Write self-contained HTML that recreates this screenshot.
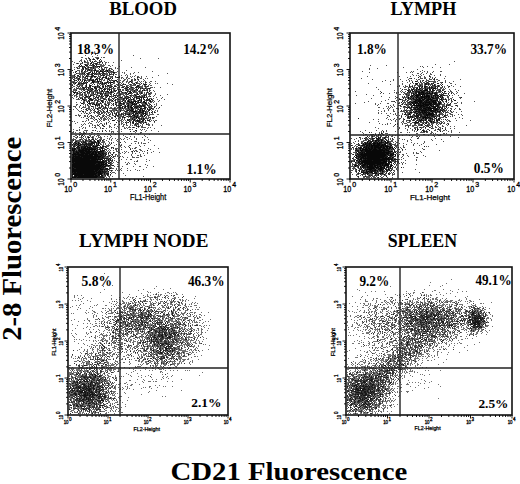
<!DOCTYPE html>
<html><head><meta charset="utf-8"><title>Figure</title>
<style>html,body{margin:0;padding:0;background:#fff;overflow:hidden}svg{display:block}</style>
</head><body>
<svg width="520" height="484" viewBox="0 0 520 484">
<rect width="520" height="484" fill="#fff"/>
<path fill="none" stroke="#000" stroke-opacity="0.66" stroke-width="1" d="M85 55.5h1m-4 2h1m13 0h1m1 1h1m59 0h1m-78 1h1m4 0h1m2 0h2m2 0h1m6 0h1m-17 1h1m2 0h1m7 0h1m3 0h1m-15 1h1m4 0h1m3 0h1m6 0h1m2 0h1m-23 1h1m3 0h1m1 0h1m2 0h1m1 0h1m3 0h4m5 0h1m1 0h1m4 0h1m-37 1h2m11 0h2m3 0h2m-12 1h1m2 0h1m3 0h2m3 0h2m1 0h1m2 0h1m-25 1h1m5 0h1m1 0h1m3 0h2m1 0h1m6 0h1m1 0h2m-27 1h1m1 0h1m3 0h1m8 0h3m1 0h3m1 0h1m-23 1h1m4 0h2m2 0h1m1 0h2m1 0h1m5 0h1m1 0h1m3 0h1m9 0h1m-39 1h2m4 0h1m2 0h3m12 0h2m7 0h2m5 0h1m-37 1h1m1 0h1m1 0h2m1 0h1m1 0h1m3 0h1m4 0h1m2 0h3m-33 1h1m4 0h3m2 0h1m2 0h1m1 0h1m2 0h2m1 0h3m1 0h2m1 0h3m4 0h3m3 0h1m12 0h1m-46 1h2m2 0h1m8 0h1m1 0h1m2 0h4m1 0h2m1 0h1m3 0h2m39 0h1m-74 1h1m12 0h1m1 0h1m1 0h1m1 0h1m4 0h1m4 0h1m2 0h5m6 0h1m-46 1h1m6 0h1m2 0h1m1 0h1m2 0h2m1 0h1m1 0h2m2 0h1m1 0h1m1 0h1m5 0h1m1 0h1m16 0h1m-52 1h3m5 0h3m1 0h2m2 0h2m10 0h1m1 0h2m1 0h2m1 0h1m14 0h1m-59 1h3m2 0h1m14 0h2m7 0h1m1 0h2m2 0h2m4 0h1m7 0h1m3 0h1m1 0h1m30 0h1m-86 1h1m1 0h1m1 0h1m1 0h1m3 0h1m2 0h3m2 0h2m1 0h1m4 0h2m5 0h1m5 0h1m2 0h1m3 0h1m-46 1h1m1 0h1m3 0h1m1 0h1m1 0h1m5 0h2m3 0h1m1 0h1m4 0h5m1 0h1m1 0h1m1 0h1m3 0h2m1 0h1m2 0h1m14 0h3m1 0h1m10 0h1m-75 1h2m6 0h2m2 0h1m7 0h2m5 0h2m1 0h1m1 0h1m1 0h1m8 0h1m12 0h1m5 0h1m6 0h1m-68 1h1m2 0h1m5 0h2m2 0h1m1 0h1m1 0h1m9 0h2m2 0h1m12 0h2m5 0h1m6 0h1m-61 1h1m3 0h1m1 0h1m1 0h1m1 0h2m1 0h3m3 0h1m1 0h1m3 0h2m6 0h2m1 0h3m14 0h1m6 0h1m-67 1h2m7 0h1m2 0h1m4 0h1m2 0h3m2 0h2m1 0h1m9 0h1m2 0h2m2 0h1m4 0h1m4 0h1m1 0h2m1 0h1m17 0h1m-79 1h2m2 0h1m4 0h1m1 0h3m1 0h1m5 0h1m1 0h1m2 0h1m1 0h1m1 0h1m2 0h2m2 0h4m1 0h1m2 0h1m1 0h1m11 0h1m8 0h1m-67 1h2m2 0h1m3 0h4m5 0h1m8 0h1m1 0h4m4 0h1m17 0h1m3 0h1m1 0h1m2 0h1m1 0h1m5 0h1m9 0h1m1 0h1m9 0h1m-91 1h2m2 0h2m6 0h1m4 0h1m2 0h1m1 0h1m2 0h1m1 0h1m1 0h1m9 0h1m6 0h1m1 0h1m4 0h1m2 0h3m8 0h1m4 0h1m22 0h1m-93 1h1m1 0h1m7 0h2m6 0h1m6 0h1m1 0h4m3 0h1m6 0h2m5 0h1m2 0h2m2 0h1m1 0h2m9 0h1m-71 1h2m5 0h2m2 0h2m1 0h2m1 0h1m6 0h2m1 0h1m3 0h1m1 0h1m3 0h1m6 0h2m3 0h1m2 0h1m9 0h1m1 0h1m1 0h2m1 0h2m-71 1h1m4 0h1m2 0h5m3 0h3m1 0h2m3 0h1m5 0h3m6 0h2m2 0h1m2 0h2m3 0h2m4 0h4m1 0h2m2 0h1m6 0h1m-77 1h2m1 0h1m1 0h1m1 0h1m2 0h1m1 0h2m1 0h2m1 0h3m2 0h3m2 0h1m19 0h3m2 0h1m2 0h3m1 0h1m1 0h1m1 0h1m1 0h1m2 0h2m1 0h1m-75 1h1m6 0h2m1 0h1m2 0h1m1 0h1m2 0h2m2 0h1m1 0h1m5 0h2m1 0h3m1 0h1m6 0h1m3 0h1m13 0h2m5 0h2m2 0h1m-75 1h1m1 0h1m12 0h1m2 0h1m3 0h3m1 0h1m2 0h1m6 0h1m1 0h1m2 0h1m3 0h1m7 0h1m7 0h2m1 0h1m4 0h1m1 0h1m2 0h1m-75 1h1m1 0h1m2 0h1m3 0h1m2 0h1m1 0h1m1 0h5m2 0h1m3 0h4m2 0h2m7 0h1m3 0h3m5 0h1m1 0h2m3 0h2m3 0h2m6 0h1m1 0h1m-77 1h5m6 0h1m4 0h1m1 0h1m3 0h1m1 0h2m8 0h5m1 0h1m3 0h1m4 0h2m1 0h2m2 0h3m1 0h1m7 0h1m5 0h1m-74 1h1m2 0h4m1 0h1m2 0h1m1 0h3m2 0h1m2 0h1m1 0h1m3 0h1m1 0h1m1 0h1m2 0h1m5 0h1m5 0h1m1 0h2m2 0h1m1 0h2m7 0h1m3 0h1m4 0h1m3 0h1m-78 1h1m2 0h1m2 0h1m2 0h1m3 0h1m1 0h1m1 0h1m5 0h1m7 0h2m2 0h1m1 0h1m2 0h1m5 0h5m3 0h2m5 0h1m1 0h3m9 0h1m1 0h1m16 0h1m-94 1h2m4 0h2m3 0h1m4 0h3m5 0h2m5 0h4m6 0h1m1 0h1m5 0h1m2 0h1m3 0h1m1 0h1m2 0h1m3 0h1m3 0h2m9 0h1m-69 1h2m1 0h2m2 0h1m2 0h1m2 0h1m1 0h1m4 0h2m1 0h2m2 0h1m3 0h1m8 0h2m3 0h1m6 0h3m3 0h1m1 0h1m1 0h1m1 0h1m2 0h1m-74 1h1m1 0h1m1 0h3m1 0h2m3 0h1m2 0h2m2 0h1m1 0h1m3 0h1m4 0h1m3 0h1m3 0h2m4 0h1m8 0h3m3 0h2m2 0h3m-69 1h1m1 0h1m1 0h1m1 0h2m2 0h3m3 0h2m1 0h1m4 0h2m4 0h1m3 0h1m9 0h1m1 0h4m5 0h1m2 0h1m1 0h2m3 0h1m3 0h1m1 0h1m-74 1h3m4 0h2m4 0h3m1 0h1m4 0h2m3 0h1m6 0h1m2 0h1m1 0h4m2 0h1m4 0h1m1 0h4m1 0h1m6 0h1m5 0h1m2 0h1m1 0h1m5 0h1m6 0h1m-82 1h3m4 0h1m1 0h1m1 0h1m2 0h1m3 0h2m6 0h1m2 0h1m2 0h1m8 0h1m3 0h1m2 0h1m2 0h2m1 0h2m2 0h1m3 0h3m1 0h2m-68 1h1m2 0h4m7 0h1m3 0h2m9 0h2m4 0h2m1 0h1m3 0h1m2 0h1m2 0h2m2 0h1m2 0h1m5 0h1m1 0h1m2 0h2m-71 1h1m2 0h1m3 0h1m1 0h1m2 0h1m1 0h1m2 0h1m4 0h1m2 0h1m1 0h2m6 0h2m3 0h1m6 0h7m1 0h1m2 0h1m1 0h1m2 0h1m1 0h1m5 0h1m-69 1h1m4 0h3m1 0h1m4 0h5m3 0h1m3 0h1m1 0h1m1 0h1m5 0h6m2 0h1m1 0h1m1 0h2m1 0h1m1 0h1m1 0h1m3 0h1m2 0h1m3 0h1m-74 1h1m8 0h1m3 0h1m2 0h5m2 0h1m4 0h1m4 0h1m5 0h1m7 0h2m3 0h9m2 0h1m2 0h3m1 0h1m2 0h2m-71 1h1m14 0h1m1 0h1m3 0h1m5 0h1m10 0h4m5 0h2m2 0h2m1 0h1m5 0h1m1 0h1m1 0h1m6 0h1m-60 1h1m10 0h1m1 0h1m16 0h1m2 0h2m1 0h1m4 0h1m1 0h1m1 0h2m1 0h4m6 0h2m-77 1h1m8 0h1m3 0h2m3 0h1m1 0h1m14 0h1m3 0h1m3 0h2m2 0h1m5 0h1m2 0h2m1 0h6m4 0h2m2 0h2m4 0h1m4 0h1m-84 1h1m11 0h1m2 0h1m5 0h1m6 0h2m3 0h1m4 0h2m3 0h2m1 0h1m2 0h1m1 0h1m1 0h1m1 0h2m3 0h1m3 0h2m2 0h2m1 0h1m1 0h3m4 0h1m-74 1h1m2 0h1m2 0h1m2 0h1m4 0h2m2 0h1m5 0h1m6 0h1m1 0h1m6 0h1m2 0h1m1 0h2m1 0h1m3 0h1m1 0h1m2 0h1m4 0h1m1 0h2m1 0h1m-65 1h1m16 0h1m3 0h1m2 0h1m3 0h4m2 0h1m1 0h1m1 0h1m2 0h1m2 0h3m2 0h3m1 0h2m1 0h1m1 0h1m3 0h2m1 0h1m-73 1h1m2 0h2m13 0h2m5 0h1m1 0h2m5 0h2m9 0h3m2 0h1m3 0h4m3 0h1m1 0h2m2 0h2m-57 1h1m6 0h1m2 0h2m4 0h1m4 0h1m3 0h1m6 0h1m9 0h5m1 0h3m5 0h1m6 0h1m-71 1h1m1 0h1m7 0h1m6 0h1m10 0h1m5 0h1m2 0h1m1 0h1m5 0h1m1 0h2m2 0h3m3 0h3m1 0h1m6 0h1m-54 1h2m5 0h1m2 0h2m4 0h1m5 0h1m1 0h1m1 0h1m1 0h3m3 0h2m5 0h2m1 0h1m1 0h1m1 0h1m1 0h1m1 0h1m6 0h1m-84 1h2m3 0h1m3 0h1m12 0h1m4 0h1m12 0h4m4 0h3m3 0h1m2 0h1m1 0h1m1 0h2m3 0h2m1 0h2m2 0h2m-71 1h1m7 0h1m1 0h1m1 0h1m7 0h1m3 0h1m1 0h2m3 0h1m3 0h2m7 0h1m2 0h1m1 0h4m3 0h5m1 0h1m6 0h1m7 0h1m-69 1h1m5 0h1m5 0h1m5 0h1m4 0h2m11 0h1m3 0h1m2 0h1m3 0h5m1 0h1m4 0h1m1 0h1m1 0h1m1 0h2m-67 1h1m6 0h1m3 0h1m4 0h1m3 0h1m8 0h1m13 0h1m8 0h2m2 0h1m2 0h1m6 0h1m-66 1h1m4 0h1m1 0h1m3 0h1m5 0h1m16 0h1m1 0h1m2 0h1m1 0h1m4 0h2m5 0h1m1 0h1m3 0h1m1 0h1m-62 1h1m5 0h1m17 0h2m9 0h1m1 0h1m1 0h2m2 0h1m2 0h1m1 0h2m1 0h2m2 0h1m3 0h2m6 0h2m-83 1h1m16 0h1m5 0h1m11 0h1m19 0h2m2 0h1m1 0h1m4 0h3m2 0h1m8 0h1m-39 1h1m4 0h1m3 0h1m2 0h1m3 0h2m5 0h2m4 0h1m8 0h1m-80 1h1m15 0h1m14 0h1m25 0h2m3 0h1m2 0h1m2 0h1m2 0h1m-64 1h1m15 0h1m2 0h1m16 0h1m3 0h1m10 0h2m1 0h2m9 0h2m-68 1h1m6 0h1m4 0h1m2 0h2m10 0h1m13 0h1m2 0h1m13 0h1m7 0h1m3 0h1m8 0h1m-73 1h1m5 0h1m7 0h1m6 0h1m11 0h1m13 0h1m1 0h1m-44 1h1m13 0h1m4 0h1m9 0h1m1 0h1m1 0h1m3 0h2m4 0h1m3 0h1m5 0h1m1 0h1m-66 1h1m16 0h2m12 0h1m7 0h1m7 1h1m7 0h1m3 0h1m-68 1h1m6 0h1m10 0h1m40 0h1m-40 1h1m1 0h1m12 0h1m4 0h1m12 0h1m3 0h1m1 0h1m8 0h1m12 0h1m-86 1h1m5 0h1m3 0h2m26 0h1m1 0h1m26 0h2m-59 1h1m1 0h1m3 0h1m8 0h1m-20 1h1m3 0h1m21 0h1m23 0h1m1 0h1m17 0h1m-75 1h2m2 0h1m10 0h1m32 0h1m-47 1h1m5 0h1m41 0h1m8 0h1m-58 1h1m4 0h1m4 0h3m1 0h1m7 0h1m1 0h1m24 0h1m15 0h1m-70 1h1m12 0h1m6 0h1m1 0h1m1 0h1m9 0h1m7 0h1m20 0h1m-58 1h2m4 0h1m2 0h2m2 0h2m2 0h1m4 0h1m1 0h1m13 0h1m3 0h1m5 0h1m-56 1h2m4 0h2m2 0h2m6 0h1m2 0h1m3 0h2m3 0h2m40 0h1m5 0h1m-75 1h1m4 0h5m1 0h2m3 0h1m1 0h2m1 0h2m5 0h1m30 0h1m-64 1h1m1 0h1m3 0h2m1 0h1m2 0h3m4 0h3m2 0h1m1 0h2m9 0h1m1 0h1m1 0h1m6 0h1m17 0h1m2 0h1m-69 1h1m1 0h5m2 0h1m3 0h2m1 0h6m3 0h2m5 0h1m-34 1h1m1 0h2m2 0h3m1 0h1m2 0h3m1 0h3m2 0h1m3 0h1m2 0h1m1 0h1m1 0h1m2 0h1m10 0h1m-46 1h1m3 0h2m1 0h1m1 0h2m1 0h1m1 0h2m1 0h1m1 0h1m3 0h2m7 0h1m1 0h1m12 0h1m7 0h1m14 0h1m9 0h1m-82 1h2m2 0h2m2 0h3m1 0h3m1 0h2m2 0h5m2 0h1m1 0h2m1 0h1m2 0h1m11 0h1m-45 1h4m1 0h5m1 0h12m2 0h2m2 0h1m7 0h1m15 0h1m-58 1h1m1 0h2m1 0h3m1 0h16m3 0h3m4 0h1m3 0h1m1 0h1m44 0h1m-87 1h1m1 0h3m2 0h20m3 0h1m3 0h1m8 0h1m14 0h1m8 0h2m-69 1h3m1 0h1m1 0h13m1 0h5m3 0h5m3 0h1m1 0h1m5 0h1m23 0h1m6 0h1m-75 1h2m1 0h1m1 0h6m1 0h18m1 0h2m1 0h1m9 0h1m8 0h1m4 0h1m2 0h1m2 0h1m4 0h1m10 0h1m-82 1h13m1 0h11m1 0h6m5 0h1m3 0h1m14 0h1m3 0h1m14 0h1m-75 1h6m1 0h17m1 0h2m1 0h2m1 0h2m2 0h1m1 0h1m21 0h1m-61 1h16m1 0h13m1 0h1m1 0h2m4 0h2m3 0h1m14 0h1m-60 1h2m1 0h2m1 0h15m1 0h4m1 0h3m1 0h3m3 0h1m5 0h1m24 0h1m-68 1h29m1 0h1m2 0h2m5 0h1m6 0h1m19 0h1m-69 1h31m1 0h1m1 0h1m3 0h1m1 0h2m5 0h1m12 0h2m2 0h3m-67 1h25m1 0h3m1 0h1m3 0h2m1 0h3m-40 1h30m6 0h1m1 0h1m20 0h1m-60 1h27m1 0h1m2 0h1m1 0h1m2 0h1m1 0h1m1 0h1m6 0h1m-48 1h28m2 0h1m1 0h3m4 0h1m4 0h1m20 0h1m-66 1h33m1 0h2m1 0h3m1 0h1m-42 1h30m1 0h4m1 0h5m14 0h1m-56 1h33m1 0h1m10 0h1m9 0h1m7 0h1m9 0h1m-74 1h30m1 0h7m1 0h2m-41 1h29m1 0h4m2 0h3m3 0h1m2 0h1m4 0h1m-51 1h28m1 0h1m1 0h3m-34 1h32m1 0h3m1 0h2m1 0h2m2 0h1m-45 1h37m7 0h1m-45 1h28m3 0h1m1 0h1m1 0h1m1 0h3m18 0h1m6 0h1m-66 1h25m1 0h9m1 0h1m-37 1h4m1 0h18m1 0h5m1 0h1m1 0h2m4 0h1m-39 1h25m1 0h5m1 0h2m1 0h2m2 0h1m11 0h1m-52 1h11m1 0h18m2 0h1m2 0h1m2 0h1m-39 1h1m1 0h20m1 0h2m1 0h2m1 0h3m1 0h1m1 0h2m1 0h1m-39 1h1m1 0h26m1 0h2m-31 1h4m1 0h27"/>
<path fill="none" stroke="#000" stroke-opacity="0.66" stroke-width="1" d="M91 54.5h1m0 2h1m-12 1h1m6 0h1m6 0h1m2 0h1m5 0h1m-19 1h1m2 0h1m3 0h1m3 0h1m42 0h1m-49 1h3m5 0h1m-2 1h1m1 0h1m19 0h1m-41 1h1m2 0h1m7 0h1m2 0h1m3 0h1m1 0h1m-28 1h1m7 0h1m1 0h2m1 0h1m9 0h1m1 0h1m2 0h1m2 0h1m-30 1h2m4 0h1m4 0h2m2 0h1m1 0h3m1 0h1m1 0h1m2 0h1m-23 1h1m5 0h1m6 0h1m2 0h1m-18 1h1m1 0h1m4 0h1m2 0h1m3 0h2m1 0h1m3 0h1m1 0h1m6 0h1m-31 1h1m2 0h3m8 0h1m1 0h1m2 0h2m10 0h1m-37 1h1m2 0h1m4 0h2m1 0h1m1 0h4m1 0h2m2 0h1m2 0h1m1 0h1m3 0h3m23 0h1m13 0h1m-67 1h1m2 0h2m1 0h2m4 0h1m1 0h1m4 0h1m7 0h1m2 0h1m-28 1h1m4 0h3m1 0h2m2 0h1m3 0h1m1 0h2m5 0h2m-38 1h1m9 0h1m4 0h3m1 0h1m3 0h1m7 0h1m1 0h3m1 0h2m-36 1h2m7 0h1m2 0h1m4 0h1m4 0h2m1 0h1m1 0h6m2 0h1m2 0h1m-39 1h1m5 0h1m1 0h1m4 0h3m1 0h1m1 0h1m4 0h1m2 0h1m3 0h1m1 0h3m2 0h2m1 0h1m7 0h1m9 0h1m3 0h1m-63 1h1m1 0h1m2 0h4m1 0h1m1 0h1m2 0h1m1 0h1m5 0h1m3 0h2m4 0h1m4 0h1m9 0h1m42 0h1m-94 1h2m6 0h4m6 0h1m1 0h1m4 0h2m1 0h2m1 0h1m4 0h2m1 0h1m-40 1h1m2 0h2m3 0h1m3 0h3m2 0h2m7 0h1m2 0h1m2 0h1m28 0h1m-56 1h1m6 0h1m1 0h4m1 0h2m2 0h1m4 0h1m2 0h1m3 0h2m15 0h1m2 0h1m6 0h2m-60 1h1m3 0h1m1 0h1m13 0h2m2 0h1m2 0h1m4 0h1m5 0h2m2 0h1m4 0h2m3 0h1m-60 1h1m2 0h3m4 0h1m1 0h1m1 0h1m3 0h2m4 0h1m5 0h1m3 0h3m1 0h1m1 0h1m10 0h1m2 0h1m1 0h1m8 0h1m3 0h1m-69 1h1m3 0h2m5 0h1m2 0h1m1 0h1m1 0h3m1 0h2m2 0h3m2 0h1m3 0h2m22 0h1m2 0h1m7 0h1m-70 1h1m1 0h1m3 0h1m3 0h2m1 0h1m2 0h3m2 0h1m1 0h1m11 0h1m2 0h1m2 0h1m4 0h1m2 0h1m3 0h1m3 0h1m2 0h2m8 0h1m-68 1h1m6 0h1m1 0h1m1 0h1m3 0h1m2 0h7m5 0h1m5 0h1m2 0h2m5 0h1m6 0h1m10 0h1m3 0h1m5 0h1m-79 1h3m11 0h1m4 0h2m2 0h3m2 0h2m1 0h1m2 0h2m2 0h2m13 0h1m2 0h1m1 0h1m3 0h3m7 0h1m-71 1h1m2 0h4m4 0h1m3 0h1m9 0h3m2 0h1m2 0h1m1 0h1m2 0h2m3 0h1m2 0h1m11 0h1m2 0h1m4 0h1m1 0h1m6 0h1m-77 1h1m3 0h1m7 0h1m5 0h1m1 0h1m6 0h3m8 0h1m5 0h1m3 0h1m2 0h1m3 0h1m1 0h1m11 0h4m-75 1h1m3 0h1m2 0h1m1 0h1m4 0h1m2 0h2m6 0h1m4 0h2m4 0h1m6 0h1m1 0h1m2 0h2m4 0h2m2 0h1m3 0h1m7 0h1m1 0h2m4 0h2m-78 1h1m6 0h1m4 0h1m2 0h2m4 0h5m2 0h2m7 0h2m1 0h2m3 0h1m4 0h1m1 0h1m2 0h1m1 0h1m4 0h4m5 0h2m-71 1h1m3 0h1m1 0h1m1 0h2m2 0h1m5 0h1m2 0h1m1 0h2m1 0h1m2 0h1m3 0h2m2 0h1m7 0h1m1 0h1m3 0h2m2 0h2m2 0h1m3 0h1m6 0h1m3 0h2m8 0h1m-87 1h1m3 0h1m5 0h1m5 0h3m2 0h2m3 0h1m7 0h1m3 0h1m1 0h2m1 0h1m9 0h1m2 0h1m7 0h1m1 0h2m1 0h1m1 0h1m2 0h3m-75 1h1m2 0h1m3 0h1m2 0h3m1 0h2m4 0h1m6 0h2m4 0h3m6 0h1m1 0h1m2 0h1m1 0h6m1 0h2m1 0h3m2 0h1m5 0h2m-72 1h1m7 0h1m2 0h1m2 0h1m1 0h1m1 0h1m4 0h1m2 0h1m1 0h1m2 0h1m1 0h1m1 0h1m1 0h2m1 0h1m3 0h1m1 0h2m1 0h2m4 0h2m1 0h1m4 0h2m1 0h3m4 0h1m3 0h1m-82 1h1m6 0h1m14 0h1m2 0h1m1 0h1m1 0h2m2 0h4m1 0h2m1 0h1m1 0h1m12 0h1m1 0h1m3 0h1m1 0h1m2 0h1m1 0h1m7 0h1m4 0h1m-82 1h3m1 0h1m1 0h1m1 0h1m1 0h2m2 0h3m2 0h2m2 0h2m1 0h1m1 0h1m1 0h1m7 0h1m7 0h1m1 0h2m2 0h1m1 0h1m3 0h1m2 0h1m2 0h1m2 0h3m3 0h3m-58 1h1m1 0h1m3 0h2m1 0h1m3 0h4m2 0h1m3 0h1m1 0h1m2 0h1m5 0h2m1 0h3m5 0h1m3 0h3m1 0h1m3 0h2m1 0h1m-72 1h1m4 0h1m5 0h1m2 0h2m1 0h1m2 0h1m1 0h1m3 0h1m6 0h1m11 0h3m9 0h1m7 0h2m-71 1h1m5 0h1m3 0h1m1 0h1m1 0h1m2 0h1m2 0h2m3 0h1m3 0h2m6 0h4m1 0h2m9 0h3m1 0h3m5 0h1m2 0h1m1 0h1m2 0h1m10 0h1m-87 1h1m1 0h1m2 0h1m6 0h1m9 0h1m5 0h2m1 0h1m1 0h1m4 0h1m7 0h1m3 0h2m1 0h2m1 0h1m4 0h5m2 0h2m2 0h1m2 0h2m-79 1h1m12 0h1m1 0h1m1 0h1m5 0h1m2 0h1m10 0h1m4 0h1m1 0h1m4 0h1m3 0h2m1 0h2m2 0h1m3 0h1m3 0h4m3 0h1m8 0h1m5 0h1m-90 1h1m4 0h1m1 0h1m1 0h1m5 0h1m1 0h2m2 0h1m3 0h1m1 0h2m1 0h1m4 0h2m2 0h2m3 0h1m2 0h1m2 0h2m1 0h2m2 0h1m2 0h2m1 0h2m1 0h1m1 0h1m1 0h1m3 0h1m2 0h1m2 0h1m-75 1h1m2 0h2m2 0h1m2 0h1m2 0h1m2 0h1m8 0h3m1 0h2m3 0h1m1 0h1m2 0h1m3 0h2m2 0h1m2 0h1m1 0h1m1 0h2m4 0h1m1 0h1m1 0h2m2 0h3m1 0h1m-71 1h1m2 0h1m3 0h1m2 0h2m4 0h2m1 0h1m7 0h2m2 0h1m9 0h2m1 0h1m1 0h3m8 0h2m1 0h1m4 0h2m11 0h1m-71 1h1m4 0h1m2 0h1m3 0h2m2 0h1m5 0h1m3 0h1m1 0h1m1 0h1m2 0h1m4 0h5m1 0h6m2 0h1m1 0h2m5 0h2m-69 1h1m3 0h1m3 0h1m4 0h2m4 0h2m12 0h2m2 0h1m2 0h1m1 0h2m3 0h1m1 0h2m1 0h1m1 0h1m1 0h3m2 0h3m-66 1h2m5 0h2m3 0h2m1 0h1m10 0h1m5 0h1m2 0h1m3 0h2m4 0h1m1 0h1m3 0h6m3 0h1m3 0h2m1 0h1m7 0h1m-70 1h1m6 0h1m1 0h4m5 0h2m1 0h1m11 0h1m1 0h1m9 0h2m5 0h1m2 0h1m2 0h2m3 0h1m-75 1h1m8 0h1m2 0h1m6 0h1m1 0h1m1 0h1m2 0h1m5 0h1m4 0h1m2 0h2m2 0h1m3 0h2m2 0h4m2 0h1m1 0h2m1 0h2m1 0h2m3 0h1m3 0h1m4 0h1m-82 1h1m3 0h1m3 0h1m1 0h1m3 0h1m1 0h1m1 0h1m5 0h1m1 0h1m14 0h1m2 0h2m2 0h1m1 0h1m1 0h1m2 0h2m2 0h3m1 0h1m1 0h2m2 0h2m2 0h2m2 0h1m1 0h2m-77 1h1m2 0h1m16 0h3m1 0h4m8 0h1m1 0h1m2 0h3m1 0h2m1 0h2m1 0h3m2 0h1m3 0h2m18 0h1m-79 1h1m5 0h1m5 0h1m2 0h2m2 0h1m1 0h2m3 0h1m2 0h3m1 0h1m8 0h2m1 0h1m1 0h1m1 0h2m1 0h1m1 0h1m2 0h1m1 0h1m1 0h2m1 0h1m6 0h2m-77 1h1m8 0h1m1 0h1m5 0h1m2 0h1m9 0h1m5 0h1m6 0h1m6 0h1m3 0h3m4 0h1m1 0h1m1 0h1m1 0h1m4 0h1m-69 1h1m5 0h1m5 0h2m5 0h1m6 0h1m4 0h2m2 0h1m4 0h1m1 0h1m2 0h8m6 0h5m1 0h1m1 0h1m6 0h1m1 0h1m-78 1h1m1 0h1m2 0h1m8 0h2m2 0h1m4 0h1m3 0h1m2 0h2m8 0h1m5 0h1m2 0h12m2 0h1m1 0h1m2 0h1m3 0h1m-70 1h1m1 0h1m10 0h2m1 0h1m3 0h1m1 0h1m2 0h1m2 0h1m13 0h2m1 0h2m2 0h1m1 0h1m3 0h1m1 0h1m1 0h2m1 0h1m3 0h1m1 0h1m3 0h1m-69 1h1m2 0h1m6 0h1m1 0h1m6 0h1m1 0h1m1 0h1m1 0h1m1 0h1m1 0h1m4 0h1m3 0h1m6 0h2m1 0h3m1 0h2m3 0h2m1 0h1m-70 1h1m19 0h1m4 0h1m5 0h1m2 0h1m3 0h1m1 0h2m3 0h1m2 0h5m2 0h1m1 0h1m5 0h3m1 0h2m6 0h1m3 0h1m-80 1h1m6 0h1m1 0h1m3 0h1m3 0h1m7 0h2m2 0h1m9 0h1m2 0h1m7 0h1m4 0h3m1 0h2m1 0h2m3 0h1m-62 1h2m1 0h1m9 0h1m1 0h1m2 0h1m12 0h1m1 0h2m2 0h2m4 0h1m4 0h1m1 0h1m1 0h1m3 0h1m1 0h1m1 0h1m1 0h1m-64 1h1m17 0h2m5 0h1m13 0h1m1 0h1m7 0h3m1 0h2m5 0h1m6 0h1m-61 1h1m9 0h2m2 0h1m6 0h1m6 0h1m5 0h1m7 0h1m1 0h1m1 0h1m1 0h1m2 0h5m2 0h1m1 0h1m-63 1h1m7 0h1m2 0h1m8 0h1m6 0h1m5 0h1m5 0h1m1 0h1m1 0h4m2 0h1m1 0h2m1 0h3m-48 1h1m5 0h2m9 0h1m2 0h1m2 0h2m5 0h1m1 0h1m3 0h2m1 0h4m2 0h2m1 0h1m2 0h2m1 0h1m-69 1h1m1 0h1m15 0h1m17 0h1m2 0h1m3 0h1m2 0h1m2 0h1m3 0h4m3 0h1m5 0h2m-74 1h1m20 0h1m7 0h1m16 0h1m1 0h1m1 0h2m1 0h1m2 0h1m2 0h1m2 0h1m1 0h2m1 0h2m-46 1h1m3 0h1m1 0h1m3 0h1m15 0h1m3 0h1m4 0h1m2 0h1m9 0h1m-64 1h1m20 0h1m7 0h1m6 0h1m2 0h1m5 0h1m4 0h2m9 0h2m4 0h1m-61 1h1m2 0h1m2 0h1m3 0h1m24 0h1m2 0h1m3 0h1m1 0h1m-56 1h1m22 0h1m18 0h1m14 0h1m2 0h1m-63 1h1m3 0h1m1 0h1m6 0h1m1 0h1m5 0h1m10 0h1m6 0h1m14 0h1m7 0h1m3 0h1m-64 1h1m13 0h1m28 0h1m10 0h1m17 0h1m-25 1h1m-39 1h2m11 0h1m29 0h2m4 0h1m4 0h1m-74 1h1m12 0h1m15 0h1m10 0h1m16 0h1m2 0h1m-48 1h1m-6 1h1m2 0h2m8 0h1m2 0h1m42 0h1m-62 1h2m34 0h1m-35 1h2m1 0h1m9 0h1m2 0h1m46 0h1m-72 1h1m3 0h1m3 0h1m1 0h1m3 0h1m5 0h1m4 0h1m5 0h1m2 0h1m3 0h1m18 0h1m-56 1h2m2 0h2m7 0h2m2 0h1m7 0h1m-18 1h1m4 0h1m20 0h1m2 0h1m-40 1h2m6 0h1m4 0h1m2 0h1m1 0h3m6 0h1m3 0h1m26 0h1m-59 1h1m2 0h1m3 0h1m4 0h2m1 0h2m1 0h1m2 0h1m2 0h1m1 0h2m5 0h1m9 0h1m-45 1h1m2 0h1m1 0h4m5 0h1m2 0h3m1 0h2m2 0h4m1 0h1m5 0h1m27 0h1m-62 1h2m1 0h1m2 0h3m1 0h1m2 0h2m2 0h7m3 0h3m20 0h1m-52 1h3m1 0h1m1 0h1m1 0h2m1 0h2m1 0h1m2 0h1m2 0h1m1 0h1m1 0h1m4 0h1m5 0h1m1 0h1m23 0h1m5 0h1m3 0h1m-74 1h1m3 0h3m1 0h2m1 0h3m2 0h1m1 0h3m1 0h1m1 0h1m1 0h1m-26 1h4m1 0h3m3 0h1m1 0h1m1 0h4m1 0h1m2 0h2m1 0h1m20 0h1m18 0h1m-67 1h1m1 0h1m1 0h9m1 0h3m2 0h5m5 0h2m3 0h1m20 0h1m11 0h1m-69 1h3m1 0h1m2 0h1m1 0h1m1 0h8m2 0h1m4 0h1m1 0h4m2 0h1m4 0h2m16 0h1m5 0h2m-65 1h8m1 0h1m1 0h10m2 0h1m1 0h1m4 0h1m1 0h1m3 0h1m4 0h1m1 0h3m14 0h1m1 0h1m13 0h1m-77 1h3m2 0h4m1 0h2m1 0h11m3 0h2m1 0h1m2 0h1m12 0h1m-47 1h4m2 0h9m1 0h2m1 0h1m2 0h1m1 0h2m2 0h1m1 0h2m9 0h1m21 0h2m4 0h1m5 0h1m-76 1h2m1 0h3m1 0h18m2 0h5m28 0h1m11 0h1m-72 1h1m1 0h4m1 0h11m1 0h2m1 0h4m1 0h2m4 0h1m7 0h1m4 0h1m2 0h1m2 0h1m25 0h1m-79 1h17m1 0h3m1 0h2m1 0h3m1 0h5m1 0h1m4 0h1m21 0h1m-64 1h12m1 0h14m1 0h6m6 0h1m2 0h1m-44 1h4m1 0h16m1 0h5m2 0h2m2 0h1m6 0h1m18 0h1m-60 1h31m1 0h1m3 0h2m1 0h1m3 0h1m6 0h1m9 0h1m8 0h1m-70 1h10m1 0h14m1 0h2m2 0h2m1 0h1m1 0h2m1 0h1m8 0h1m-48 1h27m2 0h7m1 0h1m4 0h1m3 0h1m-47 1h31m1 0h1m2 0h4m1 0h1m8 0h1m-50 1h24m1 0h1m2 0h1m1 0h2m2 0h1m1 0h2m4 0h1m34 0h1m-78 1h33m3 0h2m24 0h1m-63 1h32m2 0h1m1 0h1m16 0h1m-53 1h23m1 0h3m1 0h3m1 0h2m1 0h2m19 0h1m-58 1h23m1 0h10m4 0h2m14 0h1m-55 1h32m1 0h2m2 0h1m3 0h1m33 0h1m-76 1h34m1 0h2m24 0h1m5 0h1m-68 1h1m1 0h30m5 0h2m-39 1h29m1 0h1m2 0h3m1 0h2m-39 1h31m1 0h1m1 0h3m26 0h1m7 0h1m-72 1h22m1 0h3m1 0h4m1 0h1m1 0h1m12 0h1m19 0h1m-68 1h29m1 0h1m3 0h1m1 0h1m2 0h1m-40 1h1m1 0h28m1 0h2m1 0h1m5 0h3m-43 1h30m2 0h1m1 0h1m8 0h1m-44 1h24m2 0h4m1 0h1m3 0h2m1 0h1m-36 1h25m1 0h2m2 0h1m1 0h1m-35 1h4m1 0h21m1 0h3m-31 1h26m2 0h4m2 0h1m2 0h1"/>
<path fill="none" stroke="#000" stroke-opacity="0.66" stroke-width="1" d="M95 54.5h1m1 1h1m35 0h1m-37 2h1m3 0h1m1 0h1m-19 1h1m2 0h2m6 0h3m-9 1h1m3 0h1m2 0h1m-18 1h2m7 0h2m-19 1h1m6 0h1m4 0h1m2 0h1m2 0h1m1 0h1m1 0h1m1 0h1m3 0h1m-10 1h2m9 0h1m-23 1h2m8 0h1m5 0h1m8 0h1m-33 1h1m6 0h1m3 0h2m1 0h1m2 0h1m1 0h1m2 0h2m2 0h1m1 0h1m3 0h1m-25 1h1m3 0h3m2 0h2m1 0h1m2 0h1m11 0h1m3 0h1m-33 1h3m3 0h3m3 0h1m3 0h5m1 0h2m15 0h1m-44 1h1m5 0h1m2 0h1m5 0h1m2 0h2m1 0h1m6 0h1m-28 1h1m4 0h1m2 0h1m4 0h1m1 0h4m8 0h1m4 0h1m5 0h1m-42 1h1m8 0h1m5 0h1m5 0h1m7 0h1m2 0h1m4 0h2m-32 1h1m3 0h1m3 0h1m2 0h1m1 0h3m3 0h1m2 0h1m2 0h2m5 0h1m-38 1h1m2 0h1m1 0h1m2 0h1m1 0h1m3 0h2m2 0h1m1 0h2m2 0h2m2 0h1m2 0h3m1 0h1m5 0h1m-45 1h1m1 0h1m6 0h1m1 0h2m3 0h2m1 0h1m3 0h1m2 0h1m2 0h2m9 0h1m-38 1h1m2 0h2m1 0h1m1 0h1m2 0h2m3 0h1m1 0h3m2 0h2m1 0h1m1 0h1m1 0h2m1 0h1m23 0h1m-47 1h2m1 0h2m2 0h1m1 0h3m1 0h1m1 0h1m1 0h1m1 0h1m2 0h1m3 0h1m2 0h1m9 0h1m-49 1h1m1 0h1m3 0h1m1 0h1m6 0h1m4 0h1m2 0h4m4 0h1m-38 1h1m1 0h1m3 0h2m2 0h2m1 0h2m4 0h1m1 0h4m8 0h2m2 0h1m2 0h1m2 0h1m3 0h1m12 0h1m1 0h1m6 0h1m4 0h1m-75 1h3m1 0h2m7 0h1m1 0h1m3 0h2m1 0h1m2 0h1m4 0h2m1 0h1m9 0h1m1 0h3m17 0h1m-64 1h1m3 0h2m5 0h1m1 0h1m2 0h1m5 0h2m1 0h1m1 0h2m3 0h1m2 0h1m2 0h1m16 0h1m15 0h1m-73 1h2m3 0h3m1 0h1m2 0h1m2 0h1m1 0h1m4 0h3m1 0h2m1 0h1m5 0h1m8 0h1m9 0h1m6 0h2m1 0h2m-65 1h3m1 0h1m1 0h1m1 0h1m1 0h2m3 0h1m2 0h3m2 0h1m3 0h1m5 0h1m1 0h2m2 0h1m1 0h2m7 0h1m7 0h1m-59 1h1m4 0h1m2 0h1m1 0h1m7 0h3m3 0h1m8 0h2m5 0h1m11 0h1m3 0h2m5 0h1m1 0h1m3 0h1m11 0h1m-80 1h1m1 0h3m2 0h1m1 0h3m3 0h4m7 0h1m3 0h2m1 0h5m6 0h1m1 0h1m5 0h1m3 0h1m3 0h1m8 0h2m2 0h1m-77 1h1m1 0h1m3 0h1m1 0h4m1 0h1m6 0h1m3 0h3m2 0h1m1 0h1m1 0h1m1 0h1m1 0h1m7 0h1m4 0h1m10 0h1m1 0h1m1 0h1m2 0h1m-70 1h1m5 0h3m2 0h1m2 0h1m23 0h2m5 0h1m2 0h1m2 0h2m5 0h1m4 0h1m3 0h2m3 0h3m-75 1h1m4 0h1m4 0h1m2 0h2m2 0h2m6 0h1m2 0h1m4 0h1m1 0h2m1 0h2m6 0h1m14 0h1m3 0h3m-67 1h1m3 0h1m1 0h1m2 0h1m3 0h1m5 0h1m1 0h1m2 0h1m1 0h1m5 0h4m1 0h1m3 0h1m1 0h1m7 0h1m1 0h1m9 0h3m2 0h1m5 0h1m-76 1h1m9 0h2m1 0h1m4 0h1m3 0h2m7 0h1m3 0h1m5 0h1m3 0h1m4 0h2m3 0h2m3 0h2m1 0h2m3 0h1m13 0h1m-78 1h1m2 0h1m1 0h3m1 0h1m1 0h1m7 0h1m4 0h2m1 0h4m1 0h1m1 0h1m1 0h1m11 0h2m2 0h1m1 0h1m6 0h1m3 0h1m1 0h1m2 0h1m1 0h1m-77 1h1m1 0h1m4 0h1m2 0h1m1 0h1m4 0h1m1 0h1m2 0h1m3 0h1m1 0h1m1 0h1m1 0h1m1 0h1m1 0h1m3 0h2m2 0h1m1 0h2m6 0h1m3 0h2m16 0h1m-76 1h1m1 0h1m4 0h1m1 0h2m3 0h2m1 0h1m3 0h1m1 0h1m1 0h1m1 0h2m1 0h1m6 0h1m3 0h2m9 0h3m1 0h1m2 0h1m2 0h2m4 0h1m1 0h4m2 0h1m-65 1h2m1 0h2m4 0h1m8 0h1m2 0h2m2 0h2m1 0h1m3 0h2m1 0h1m5 0h1m1 0h2m1 0h2m4 0h1m3 0h1m-69 1h1m5 0h2m2 0h2m1 0h1m5 0h1m6 0h1m2 0h1m1 0h2m1 0h1m1 0h3m5 0h1m5 0h2m4 0h1m2 0h1m1 0h2m2 0h1m4 0h1m5 0h2m-78 1h1m1 0h2m6 0h1m8 0h1m5 0h4m2 0h1m3 0h1m1 0h1m2 0h1m2 0h1m3 0h1m2 0h1m1 0h1m1 0h1m1 0h3m4 0h1m1 0h1m1 0h1m4 0h1m2 0h1m5 0h1m-80 1h2m3 0h2m1 0h1m7 0h3m5 0h3m4 0h1m2 0h2m4 0h1m3 0h1m10 0h1m2 0h2m2 0h1m1 0h1m2 0h2m1 0h1m2 0h1m5 0h1m-84 1h1m6 0h1m4 0h2m5 0h1m1 0h1m5 0h1m1 0h2m1 0h1m2 0h2m2 0h1m2 0h1m5 0h1m3 0h1m5 0h1m4 0h2m5 0h1m1 0h2m-69 1h1m4 0h2m1 0h6m3 0h1m3 0h1m1 0h2m1 0h1m5 0h3m1 0h1m1 0h1m1 0h1m4 0h1m3 0h1m6 0h2m1 0h4m1 0h2m1 0h1m-69 1h1m2 0h1m1 0h1m2 0h1m10 0h1m1 0h2m2 0h2m2 0h2m8 0h2m3 0h3m1 0h1m2 0h4m1 0h1m1 0h1m1 0h4m1 0h1m1 0h2m-64 1h2m7 0h1m2 0h1m10 0h2m8 0h1m2 0h1m3 0h1m1 0h1m4 0h1m1 0h1m6 0h3m1 0h1m1 0h1m3 0h1m3 0h1m9 0h1m-80 1h1m2 0h1m3 0h4m3 0h1m1 0h1m1 0h1m3 0h1m3 0h1m2 0h1m7 0h2m2 0h2m1 0h1m4 0h3m2 0h1m2 0h1m1 0h1m2 0h1m1 0h1m1 0h1m2 0h2m-69 1h1m1 0h1m1 0h2m1 0h1m3 0h2m4 0h3m2 0h1m3 0h3m1 0h2m1 0h1m2 0h1m2 0h1m1 0h1m2 0h1m1 0h1m2 0h2m3 0h4m2 0h1m3 0h3m1 0h2m-70 1h1m4 0h1m8 0h2m3 0h1m1 0h1m1 0h1m1 0h1m10 0h1m1 0h1m1 0h2m1 0h3m1 0h1m1 0h4m3 0h2m1 0h2m5 0h1m1 0h1m1 0h1m3 0h1m-83 1h1m7 0h1m2 0h1m1 0h1m3 0h1m6 0h1m1 0h1m6 0h2m4 0h1m3 0h1m3 0h2m4 0h4m2 0h1m1 0h4m1 0h4m2 0h1m1 0h1m2 0h1m-73 1h2m1 0h1m4 0h3m1 0h1m2 0h1m3 0h1m3 0h1m3 0h1m4 0h1m1 0h1m3 0h2m2 0h2m2 0h2m1 0h3m1 0h1m1 0h1m6 0h4m-70 1h1m5 0h1m3 0h1m2 0h1m1 0h1m1 0h1m1 0h1m1 0h1m2 0h1m3 0h1m2 0h1m3 0h2m1 0h2m2 0h1m1 0h1m1 0h1m2 0h3m3 0h5m10 0h1m6 0h1m1 0h1m-77 1h1m6 0h1m2 0h1m4 0h2m1 0h2m2 0h1m2 0h2m1 0h1m2 0h1m1 0h1m2 0h1m1 0h1m1 0h2m3 0h1m1 0h2m2 0h1m3 0h1m2 0h2m1 0h1m1 0h3m1 0h3m1 0h1m9 0h1m-89 1h2m13 0h1m2 0h2m2 0h1m1 0h1m3 0h2m2 0h1m2 0h1m10 0h1m2 0h1m1 0h2m1 0h5m1 0h1m2 0h2m1 0h1m1 0h1m1 0h2m-62 1h1m1 0h1m12 0h2m5 0h1m2 0h1m2 0h1m7 0h2m3 0h2m2 0h5m1 0h1m1 0h2m1 0h1m1 0h1m2 0h3m2 0h3m2 0h1m-74 1h1m4 0h1m2 0h1m5 0h1m1 0h4m2 0h1m2 0h2m5 0h1m2 0h2m2 0h3m5 0h1m2 0h2m1 0h1m1 0h2m2 0h2m1 0h2m2 0h1m3 0h1m6 0h1m-86 1h1m11 0h1m4 0h1m3 0h1m7 0h1m1 0h1m7 0h1m2 0h1m3 0h1m1 0h1m3 0h1m3 0h2m1 0h2m4 0h2m1 0h2m4 0h1m1 0h2m1 0h2m-76 1h1m8 0h1m2 0h2m6 0h2m2 0h1m4 0h1m1 0h1m1 0h1m8 0h1m6 0h2m1 0h1m1 0h1m2 0h1m3 0h2m1 0h2m5 0h1m-67 1h1m6 0h1m4 0h1m4 0h2m1 0h1m2 0h1m4 0h1m5 0h1m2 0h1m4 0h1m1 0h1m3 0h5m2 0h2m1 0h5m6 0h1m1 0h1m2 0h1m-69 1h1m3 0h2m1 0h1m2 0h1m4 0h1m4 0h1m4 0h1m2 0h2m8 0h1m2 0h2m1 0h1m2 0h1m1 0h2m1 0h3m1 0h2m2 0h1m1 0h2m1 0h1m-74 1h1m4 0h1m2 0h1m8 0h1m2 0h2m1 0h1m9 0h3m5 0h1m1 0h7m2 0h1m1 0h1m1 0h3m2 0h5m2 0h1m-62 1h1m11 0h1m5 0h1m5 0h1m3 0h1m3 0h3m2 0h1m3 0h1m1 0h1m3 0h4m7 0h1m3 0h1m1 0h1m-74 1h1m10 0h2m6 0h1m9 0h2m2 0h2m7 0h1m8 0h1m1 0h3m2 0h1m4 0h1m1 0h2m1 0h1m-56 1h2m2 0h1m2 0h1m3 0h1m5 0h1m4 0h2m4 0h1m2 0h1m3 0h1m1 0h3m1 0h3m1 0h1m2 0h1m1 0h3m-64 1h1m9 0h1m1 0h1m10 0h1m10 0h1m3 0h2m1 0h4m4 0h1m2 0h2m1 0h1m1 0h1m3 0h1m2 0h1m3 0h1m2 0h1m1 0h1m-69 1h1m4 0h2m12 0h1m3 0h1m2 0h1m7 0h1m1 0h1m8 0h3m1 0h2m1 0h2m1 0h1m1 0h1m3 0h1m4 0h1m-57 1h1m4 0h1m1 0h2m1 0h1m3 0h1m17 0h3m1 0h1m1 0h1m4 0h1m1 0h1m2 0h1m5 0h1m-65 1h1m13 0h1m7 0h1m3 0h3m13 0h1m1 0h1m2 0h1m1 0h1m1 0h2m3 0h2m1 0h1m1 0h1m1 0h1m3 0h1m-82 1h1m9 0h1m9 0h1m6 0h1m18 0h1m2 0h1m11 0h1m1 0h1m1 0h3m1 0h2m11 0h1m-66 1h1m6 0h1m11 0h1m7 0h1m9 0h1m3 0h1m1 0h2m4 0h1m1 0h1m2 0h1m1 0h2m-63 1h1m3 0h1m1 0h1m10 0h1m4 0h1m14 0h2m3 0h1m6 0h1m1 0h3m3 0h1m1 0h1m-63 1h1m10 0h1m4 0h1m6 0h1m10 0h1m3 0h1m6 0h1m15 0h1m3 0h1m-45 1h2m10 0h1m17 0h1m2 0h2m1 0h1m3 0h1m6 0h1m-51 1h1m4 0h1m4 0h1m7 0h1m11 0h1m7 0h3m2 0h1m-14 1h2m3 0h1m8 0h2m-45 1h1m1 0h1m3 0h1m20 0h1m8 0h1m10 0h1m-75 1h1m5 0h1m31 0h1m9 0h1m7 0h1m12 0h1m-67 1h1m2 0h1m5 0h3m7 0h1m6 0h1m2 0h1m3 0h1m25 0h1m15 0h1m-69 1h1m18 0h1m3 0h1m2 0h1m1 0h1m9 0h1m-50 1h1m2 0h1m4 0h1m10 0h2m42 0h1m-5 1h1m-52 1h1m1 0h1m8 0h1m16 0h2m28 0h1m-57 1h1m6 0h1m8 0h2m10 0h1m-37 1h1m6 0h1m3 0h1m2 0h1m1 0h1m1 0h1m3 0h1m3 0h1m44 0h1m-65 1h1m3 0h1m2 0h1m3 0h2m4 0h1m11 0h1m16 0h1m6 0h1m12 0h1m-72 1h1m4 0h1m1 0h1m8 0h1m7 0h2m18 0h1m3 0h1m4 0h1m-58 1h1m2 0h1m4 0h1m1 0h1m1 0h1m10 0h1m3 0h1m9 0h1m1 0h1m11 0h1m12 0h1m7 0h1m3 0h1m-74 1h1m1 0h1m7 0h3m2 0h1m3 0h1m2 0h2m1 0h1m1 0h1m8 0h1m-37 1h2m6 0h1m1 0h1m3 0h3m3 0h1m1 0h2m4 0h1m13 0h1m6 0h1m9 0h1m-61 1h2m1 0h2m4 0h2m5 0h3m1 0h2m2 0h2m1 0h1m18 0h1m27 0h1m-76 1h1m2 0h1m1 0h2m4 0h3m1 0h6m2 0h3m1 0h1m10 0h1m19 0h1m6 0h1m4 0h2m-72 1h3m1 0h2m1 0h5m1 0h5m1 0h1m3 0h3m1 0h1m9 0h1m5 0h1m4 0h1m-50 1h1m3 0h2m1 0h2m1 0h1m1 0h4m2 0h1m1 0h1m1 0h6m2 0h2m3 0h1m1 0h1m4 0h1m15 0h1m-58 1h2m2 0h2m5 0h4m2 0h1m1 0h2m1 0h2m3 0h1m2 0h4m17 0h1m-48 1h6m1 0h2m1 0h5m2 0h2m1 0h1m1 0h3m4 0h1m4 0h1m9 0h1m3 0h1m-54 1h4m4 0h8m1 0h1m1 0h4m1 0h2m1 0h1m1 0h3m3 0h1m22 0h1m4 0h1m-64 1h4m2 0h2m1 0h15m1 0h1m1 0h2m3 0h2m3 0h1m6 0h1m4 0h1m8 0h1m19 0h1m-79 1h3m1 0h14m1 0h2m1 0h1m1 0h2m2 0h1m1 0h3m1 0h1m11 0h1m14 0h1m13 0h1m-75 1h19m1 0h3m1 0h5m1 0h1m5 0h1m6 0h1m7 0h1m7 0h1m1 0h1m1 0h1m-64 1h2m1 0h24m2 0h5m1 0h1m1 0h1m2 0h1m4 0h1m20 0h1m19 0h1m-88 1h4m1 0h3m1 0h23m4 0h1m11 0h1m3 0h1m18 0h1m3 0h1m-76 1h26m1 0h2m1 0h2m2 0h1m1 0h1m3 0h1m27 0h1m-68 1h31m1 0h1m2 0h3m6 0h1m19 0h2m5 0h1m-73 1h8m1 0h20m1 0h4m1 0h1m3 0h1m1 0h2m2 0h1m-46 1h2m1 0h29m19 0h1m3 0h1m6 0h1m-63 1h30m1 0h3m2 0h1m-37 1h18m1 0h12m1 0h1m1 0h1m1 0h1m1 0h1m15 0h1m3 0h1m15 0h1m-75 1h26m1 0h1m2 0h6m2 0h3m24 0h1m-66 1h32m1 0h2m1 0h2m2 0h1m23 0h1m9 0h1m-75 1h2m1 0h31m4 0h1m6 0h2m9 0h1m-57 1h25m1 0h6m1 0h2m1 0h1m25 0h1m-63 1h28m1 0h7m2 0h1m-39 1h32m2 0h5m1 0h2m-42 1h31m1 0h3m11 0h1m21 0h1m12 0h1m-82 1h33m6 0h1m34 0h1m-75 1h2m2 0h26m1 0h2m1 0h2m2 0h2m9 0h1m5 0h1m-56 1h27m1 0h4m1 0h1m3 0h1m10 0h1m-49 1h31m1 0h1m2 0h1m3 0h2m2 0h1m1 0h1m3 0h1m5 0h1m-56 1h34m1 0h2m-37 1h32m1 0h1m1 0h2m1 0h1m-38 1h32m1 0h3m-37 1h31m1 0h3m1 0h1m-37 1h1m1 0h26m1 0h2m1 0h1m20 0h1m-54 1h1m1 0h24m1 0h2m2 0h3m2 0h2m2 0h1m30 0h1m-72 1h25m1 0h2m3 0h2"/>
<path fill="none" stroke="#000" stroke-opacity="0.68" stroke-width="1" d="M454 61.5h1m-20 3h1m-50 1h1m16 2h1m28 0h1m7 0h1m-72 1h1m52 2h1m-61 1h1m64 0h1m13 0h1m-73 1h1m42 0h1m14 0h1m-10 1h1m2 0h1m8 0h1m0 1h1m8 0h1m-28 1h1m4 0h1m21 0h1m-42 1h1m29 0h1m-12 1h1m1 0h1m3 0h2m-15 1h1m2 0h1m7 0h1m11 0h1m9 0h1m-45 1h1m17 0h1m10 0h1m4 0h1m-42 1h1m23 0h1m5 0h1m2 0h1m12 0h1m5 0h1m-64 1h1m26 0h1m2 0h1m2 0h3m2 0h1m1 0h1m2 0h1m2 0h2m2 0h1m1 0h2m17 0h1m-42 1h1m8 0h1m5 0h1m12 0h1m1 0h1m-28 1h1m1 0h1m6 0h3m1 0h2m3 0h1m3 0h2m11 0h1m-61 1h1m25 0h2m1 0h1m2 0h1m1 0h2m4 0h1m3 0h2m4 0h1m1 0h1m12 0h1m-57 1h1m17 0h2m5 0h1m7 0h1m1 0h1m3 0h2m1 0h1m-36 1h1m2 0h1m4 0h1m5 0h1m1 0h1m2 0h1m1 0h1m5 0h3m1 0h3m4 0h1m-33 1h1m1 0h1m1 0h1m2 0h1m1 0h2m1 0h2m1 0h1m1 0h5m3 0h1m-30 1h1m2 0h1m1 0h2m1 0h2m1 0h2m2 0h1m1 0h2m1 0h1m2 0h4m2 0h1m-36 1h1m8 0h2m2 0h1m1 0h3m1 0h2m2 0h3m1 0h1m2 0h1m6 0h1m-33 1h1m2 0h1m1 0h1m1 0h1m1 0h1m3 0h2m1 0h5m1 0h2m1 0h3m5 0h1m2 0h1m-89 1h1m52 0h1m1 0h1m2 0h1m1 0h4m2 0h4m2 0h3m2 0h1m11 0h2m4 0h1m-50 1h1m2 0h1m2 0h3m8 0h9m2 0h2m1 0h2m1 0h1m1 0h1m1 0h2m1 0h1m1 0h1m4 0h1m2 0h1m4 0h1m-78 1h1m23 0h1m1 0h2m3 0h1m1 0h4m1 0h12m1 0h2m1 0h2m7 0h1m1 0h1m2 0h1m7 0h1m-57 1h1m5 0h1m6 0h2m1 0h12m3 0h1m3 0h3m4 0h2m-88 1h1m16 0h1m34 0h1m3 0h1m1 0h7m1 0h1m1 0h1m1 0h4m1 0h5m1 0h2m1 0h2m1 0h1m1 0h1m6 0h1m-51 1h1m4 0h1m3 0h2m3 0h16m1 0h1m1 0h3m1 0h4m4 0h1m-59 1h1m7 0h1m6 0h1m3 0h1m2 0h3m3 0h3m1 0h6m1 0h2m1 0h3m1 0h4m1 0h1m1 0h1m4 0h1m-49 1h1m7 0h5m1 0h2m1 0h1m1 0h2m1 0h2m1 0h2m1 0h8m2 0h1m1 0h1m1 0h1m1 0h1m6 0h2m8 0h1m-61 1h1m4 0h1m2 0h1m2 0h1m3 0h6m1 0h3m1 0h7m1 0h4m2 0h3m1 0h3m1 0h1m4 0h1m-69 1h1m10 0h1m7 0h1m2 0h1m4 0h1m2 0h2m1 0h6m2 0h3m1 0h2m1 0h3m1 0h1m4 0h1m3 0h1m4 0h1m-84 1h1m22 0h1m2 0h1m7 0h1m6 0h1m3 0h3m1 0h6m1 0h6m1 0h3m1 0h1m1 0h2m3 0h2m2 0h1m4 0h1m-88 1h1m36 0h1m3 0h1m2 0h2m1 0h3m1 0h15m1 0h6m1 0h1m1 0h1m2 0h1m2 0h1m4 0h1m5 0h1m-60 1h1m4 0h1m3 0h1m1 0h2m1 0h1m1 0h5m1 0h6m1 0h10m1 0h4m2 0h1m5 0h1m4 0h1m5 0h1m-69 1h1m8 0h1m3 0h1m1 0h4m1 0h2m1 0h6m1 0h12m1 0h4m1 0h1m1 0h2m-68 1h1m12 0h1m9 0h1m5 0h1m4 0h18m1 0h3m2 0h3m5 0h1m5 0h1m6 0h1m-69 1h1m14 0h2m3 0h1m2 0h2m2 0h1m1 0h10m2 0h1m2 0h2m4 0h1m4 0h1m7 0h2m4 0h1m-80 1h1m11 0h1m12 0h1m2 0h1m1 0h2m1 0h1m1 0h5m1 0h4m1 0h7m1 0h1m1 0h2m1 0h1m1 0h1m2 0h1m1 0h1m-62 1h1m3 0h1m9 0h1m9 0h1m1 0h3m2 0h2m2 0h4m1 0h3m2 0h10m1 0h1m1 0h1m2 0h2m9 0h1m-63 1h1m10 0h1m6 0h1m3 0h8m1 0h7m3 0h3m1 0h1m1 0h2m1 0h2m1 0h1m7 0h1m4 0h2m-73 1h1m4 0h1m10 0h2m4 0h3m2 0h1m2 0h1m1 0h17m9 0h1m-53 1h1m7 0h1m1 0h1m5 0h1m2 0h1m1 0h5m2 0h3m1 0h1m3 0h4m1 0h1m1 0h4m1 0h1m4 0h1m13 0h1m-57 1h1m4 0h2m2 0h3m1 0h1m1 0h1m1 0h11m2 0h2m1 0h1m1 0h1m2 0h1m2 0h1m1 0h1m3 0h1m3 0h1m-76 1h1m4 0h1m3 0h1m11 0h1m2 0h1m3 0h2m4 0h3m2 0h2m1 0h2m1 0h1m1 0h5m16 0h2m-58 1h1m10 0h3m1 0h3m2 0h1m2 0h1m3 0h2m3 0h9m4 0h2m11 0h1m6 0h1m-71 1h1m18 0h2m3 0h3m2 0h1m2 0h1m3 0h6m2 0h4m1 0h3m2 0h1m1 0h2m6 0h1m1 0h1m-50 1h1m2 0h1m1 0h9m1 0h2m1 0h1m1 0h3m1 0h1m1 0h1m1 0h3m3 0h1m10 0h1m-64 1h1m9 0h1m9 0h4m1 0h2m2 0h2m2 0h10m4 0h1m1 0h1m5 0h1m3 0h1m-89 1h1m27 0h1m13 0h1m6 0h1m1 0h1m1 0h1m2 0h2m1 0h1m1 0h1m2 0h4m1 0h2m1 0h1m1 0h1m2 0h1m2 0h1m1 0h1m14 0h1m6 0h1m-90 1h1m25 0h1m11 0h1m3 0h1m3 0h1m1 0h1m2 0h1m1 0h1m1 0h1m3 0h2m5 0h1m5 0h1m-39 1h1m1 0h1m2 0h1m3 0h8m1 0h1m2 0h3m3 0h1m1 0h1m1 0h2m6 0h1m23 0h1m-61 1h1m4 0h1m10 0h1m3 0h2m1 0h1m3 0h1m5 0h1m-41 1h1m9 0h1m2 0h2m3 0h1m4 0h1m1 0h1m2 0h1m7 0h1m-43 1h1m13 0h1m3 0h2m5 0h1m3 0h1m2 0h1m1 0h1m1 0h1m5 0h1m1 0h1m1 0h1m4 0h1m-67 1h1m2 0h1m9 0h1m18 0h1m3 0h1m1 0h1m6 0h1m10 0h1m9 0h1m-55 1h1m10 0h3m1 0h1m2 0h3m3 0h1m6 0h1m1 0h1m2 0h1m16 0h1m18 0h1m-62 1h1m2 0h1m8 0h1m6 0h1m1 0h1m15 0h2m6 0h1m3 0h1m-56 1h1m14 0h2m1 0h1m2 0h2m3 0h1m6 0h1m7 0h1m-42 1h1m14 0h1m2 0h1m13 0h3m6 0h1m9 0h1m-39 1h1m2 0h1m4 0h1m2 0h1m13 0h4m-34 1h1m4 0h1m4 0h1m4 0h2m2 0h1m2 0h1m10 0h1m5 0h1m-66 1h1m1 0h1m2 0h1m34 0h1m1 0h2m1 0h1m10 0h1m4 0h1m5 0h1m2 0h1m-81 1h1m11 0h1m17 0h1m7 0h1m10 0h2m4 0h2m23 0h1m-71 1h1m3 0h1m58 0h1m-73 1h2m1 0h1m4 0h1m1 0h2m40 0h1m-49 1h1m3 0h1m6 0h1m4 0h1m6 0h1m9 0h1m23 0h1m4 0h1m-72 1h1m1 0h1m2 0h1m3 0h2m2 0h1m11 0h1m41 0h1m-76 1h1m12 0h1m5 0h1m1 0h1m3 0h3m7 0h1m23 0h1m-59 1h1m1 0h1m6 0h1m1 0h2m3 0h3m1 0h1m1 0h1m1 0h2m31 0h1m17 0h1m-71 1h1m2 0h1m1 0h3m4 0h2m1 0h1m2 0h1m1 0h1m2 0h1m4 0h1m10 0h1m5 0h1m20 0h1m-66 1h1m2 0h2m1 0h1m2 0h3m1 0h1m1 0h2m5 0h1m3 0h1m-38 1h1m5 0h1m6 0h1m1 0h3m1 0h3m1 0h1m2 0h3m1 0h1m1 0h2m1 0h3m2 0h1m28 0h1m-63 1h1m1 0h2m1 0h1m1 0h3m2 0h1m1 0h4m1 0h3m1 0h3m2 0h1m2 0h1m3 0h1m13 0h1m12 0h1m-71 1h1m3 0h1m2 0h1m1 0h3m2 0h13m1 0h1m2 0h3m1 0h1m5 0h1m7 0h1m10 0h1m8 0h1m-68 1h1m1 0h1m3 0h10m1 0h13m7 0h2m11 0h1m14 0h1m14 0h1m-79 1h1m1 0h1m1 0h2m2 0h14m1 0h6m3 0h2m2 0h3m-32 1h3m1 0h4m1 0h5m1 0h9m2 0h1m4 0h1m-39 1h4m1 0h2m1 0h1m1 0h23m1 0h1m1 0h1m1 0h1m1 0h1m4 0h1m-49 1h1m3 0h3m1 0h4m1 0h5m1 0h2m2 0h3m2 0h7m11 0h1m-46 1h21m1 0h5m1 0h5m2 0h1m1 0h1m11 0h1m8 0h1m-57 1h1m1 0h4m1 0h6m1 0h13m1 0h3m5 0h1m-38 1h1m1 0h3m2 0h29m1 0h1m1 0h1m23 0h1m-67 1h3m1 0h3m1 0h3m1 0h25m1 0h1m2 0h1m3 0h2m-44 1h1m1 0h30m3 0h2m23 0h1m-66 1h2m3 0h1m1 0h30m1 0h2m1 0h1m-39 1h2m1 0h2m1 0h25m1 0h1m1 0h5m1 0h1m1 0h2m4 0h1m3 0h1m-54 1h1m4 0h2m1 0h23m1 0h2m2 0h1m1 0h3m-40 1h3m1 0h5m1 0h1m1 0h27m22 0h1m-65 1h1m3 0h1m3 0h2m1 0h18m1 0h7m1 0h1m2 0h3m-42 1h1m2 0h5m1 0h30m1 0h3m2 0h1m1 0h1m-49 1h2m1 0h1m1 0h2m1 0h11m1 0h15m1 0h1m1 0h1m1 0h1m11 0h1m-55 1h1m1 0h2m3 0h1m1 0h27m3 0h2m1 0h1m1 0h1m1 0h2m-48 1h1m3 0h2m1 0h28m2 0h1m1 0h2m2 0h1m2 0h1m5 0h1m-52 1h1m4 0h6m1 0h24m3 0h1m1 0h1m1 0h1m-44 1h1m1 0h1m3 0h3m1 0h19m1 0h7m1 0h2m-38 1h1m1 0h1m1 0h1m2 0h4m2 0h11m2 0h9m2 0h1m-37 1h2m5 0h3m1 0h12m1 0h4m1 0h1m2 0h1m1 0h3m1 0h1m1 0h1m-43 1h1m6 0h2m1 0h1m1 0h14m1 0h5m1 0h1m1 0h1m1 0h1m3 0h1m2 0h1m-44 1h1m6 0h1m1 0h3m1 0h8m1 0h1m1 0h7m3 0h4m-36 1h1m3 0h3m2 0h7m1 0h3m2 0h4m1 0h1m3 0h2m2 0h2m-41 1h1m6 0h1m4 0h3m2 0h9m2 0h3m3 0h1m1 0h1m1 0h2m2 0h1m-39 1h1m2 0h1m6 0h3m1 0h9m1 0h1m1 0h2m3 0h1m-32 1h1m4 0h1m1 0h2m1 0h2m3 0h2m1 0h3m3 0h1m1 0h1m3 0h1m6 0h1m-34 1h1m2 0h1m1 0h1m2 0h1m3 0h1m1 0h6m2 0h1m5 0h2m2 0h1m-35 1h1m2 0h3m3 0h2m3 0h1m2 0h1m2 0h1m2 0h5m3 0h1m2 0h1m1 0h1m-30 1h1m5 0h2m2 0h1m1 0h2m2 0h1m2 0h1m-22 1h1m1 0h1m2 0h3m12 0h1m2 0h1m-29 1h1m12 0h1m1 0h2m2 0h1m9 0h1m4 0h1"/>
<path fill="none" stroke="#000" stroke-opacity="0.68" stroke-width="1" d="M420 66.5h1m-44 2h1m-9 1h1m47 0h1m-21 3h1m8 0h1m3 0h1m11 0h1m-6 1h1m8 0h1m3 1h1m-15 1h1m12 0h1m4 0h1m-68 1h1m52 0h1m8 0h2m1 1h1m2 0h1m-75 1h1m48 0h2m8 0h1m4 0h1m8 0h1m-27 1h1m10 0h1m6 0h1m3 0h2m2 0h1m1 0h1m-17 1h1m2 0h1m14 0h1m-37 1h1m17 0h1m5 0h1m2 0h2m14 0h1m-39 1h1m10 0h1m7 0h1m6 0h3m5 0h2m-28 1h2m5 0h1m5 0h1m2 0h3m3 0h2m2 0h1m-33 1h1m6 0h1m3 0h2m3 0h2m1 0h2m1 0h2m-24 1h1m5 0h1m4 0h3m5 0h1m1 0h1m1 0h1m1 0h2m1 0h1m13 0h1m-53 1h1m9 0h4m5 0h2m2 0h1m1 0h1m1 0h1m2 0h1m1 0h1m3 0h1m2 0h1m3 0h1m6 0h1m10 0h1m-85 1h1m28 0h1m2 0h1m1 0h1m2 0h1m1 0h1m1 0h1m1 0h1m1 0h1m3 0h1m3 0h1m4 0h2m4 0h2m-29 1h1m3 0h1m4 0h1m1 0h2m1 0h1m1 0h2m2 0h4m4 0h1m3 0h1m-44 1h1m3 0h1m2 0h1m1 0h3m2 0h1m1 0h3m4 0h3m1 0h2m1 0h2m1 0h1m1 0h2m3 0h1m1 0h1m-44 1h1m5 0h2m2 0h2m2 0h2m1 0h1m1 0h1m1 0h1m1 0h4m6 0h1m3 0h1m1 0h1m1 0h1m-63 1h1m19 0h1m8 0h2m1 0h3m2 0h3m1 0h2m3 0h4m1 0h2m5 0h3m3 0h2m2 0h1m-68 1h1m12 0h1m3 0h1m10 0h1m3 0h4m1 0h2m1 0h3m3 0h1m1 0h1m2 0h1m1 0h3m1 0h1m3 0h1m8 0h1m-44 1h2m1 0h3m4 0h3m1 0h4m1 0h6m1 0h1m1 0h2m8 0h1m4 0h1m1 0h1m-55 1h1m3 0h1m4 0h1m2 0h1m2 0h1m1 0h9m1 0h1m3 0h3m2 0h2m2 0h1m1 0h1m6 0h1m-41 1h2m1 0h3m1 0h4m3 0h9m2 0h5m3 0h2m1 0h1m1 0h2m1 0h1m8 0h1m-78 1h1m13 0h1m8 0h1m5 0h2m2 0h5m1 0h10m1 0h1m1 0h3m3 0h2m-45 1h2m5 0h1m1 0h2m1 0h3m3 0h4m2 0h5m1 0h7m1 0h2m1 0h2m1 0h1m1 0h2m4 0h1m3 0h1m7 0h2m-59 1h1m1 0h1m2 0h1m1 0h1m1 0h2m2 0h2m1 0h8m1 0h3m1 0h5m4 0h1m6 0h1m-61 1h1m10 0h3m7 0h2m1 0h4m1 0h1m1 0h6m2 0h5m1 0h1m3 0h1m3 0h1m1 0h1m7 0h1m-54 1h1m4 0h1m1 0h1m1 0h2m2 0h1m3 0h14m2 0h7m1 0h1m1 0h2m3 0h1m7 0h2m-64 1h1m11 0h1m1 0h1m3 0h1m1 0h10m2 0h3m1 0h3m1 0h4m2 0h1m1 0h1m33 0h1m-80 1h1m5 0h1m2 0h1m2 0h3m1 0h2m1 0h4m1 0h3m1 0h1m1 0h6m1 0h4m2 0h2m1 0h1m6 0h1m12 0h1m-107 1h1m19 0h1m4 0h1m7 0h1m10 0h1m2 0h1m2 0h1m5 0h5m2 0h3m1 0h10m1 0h1m1 0h1m2 0h2m7 0h1m6 0h1m-80 1h1m2 0h1m22 0h1m2 0h3m6 0h2m3 0h13m1 0h5m2 0h1m9 0h2m-37 1h10m1 0h4m1 0h2m1 0h1m3 0h3m4 0h1m1 0h1m1 0h1m6 0h2m-71 1h1m4 0h1m2 0h1m6 0h1m2 0h2m1 0h1m3 0h1m2 0h1m1 0h1m2 0h3m1 0h3m1 0h1m1 0h1m1 0h8m3 0h1m3 0h1m-68 1h1m8 0h1m15 0h1m3 0h1m1 0h3m1 0h1m1 0h2m1 0h5m2 0h6m1 0h3m2 0h5m3 0h1m1 0h1m-51 1h1m1 0h1m3 0h1m8 0h2m1 0h3m1 0h2m1 0h12m1 0h2m3 0h2m2 0h1m1 0h1m-60 1h1m22 0h1m1 0h5m1 0h2m2 0h4m1 0h4m1 0h1m1 0h5m3 0h1m-43 1h1m1 0h1m1 0h2m1 0h1m3 0h1m1 0h1m1 0h4m1 0h7m1 0h4m1 0h2m1 0h1m2 0h3m1 0h1m5 0h1m-70 1h1m11 0h1m6 0h1m5 0h1m4 0h1m1 0h1m1 0h2m2 0h10m2 0h1m1 0h3m1 0h4m1 0h1m2 0h1m5 0h1m1 0h1m-76 1h1m25 0h1m4 0h6m2 0h6m1 0h2m1 0h1m1 0h1m2 0h5m2 0h1m1 0h1m1 0h1m1 0h3m-70 1h1m26 0h1m3 0h1m4 0h1m1 0h5m1 0h5m1 0h6m2 0h1m2 0h1m2 0h1m2 0h1m-51 1h1m6 0h1m2 0h1m2 0h3m5 0h1m1 0h3m2 0h9m1 0h2m1 0h1m8 0h1m6 0h1m-52 1h1m12 0h1m1 0h6m2 0h1m1 0h2m1 0h4m4 0h1m1 0h1m6 0h1m-46 1h1m5 0h1m1 0h4m2 0h4m3 0h4m1 0h1m1 0h1m2 0h2m2 0h1m1 0h2m3 0h2m-37 1h1m2 0h2m3 0h1m2 0h1m2 0h5m1 0h3m1 0h3m1 0h1m8 0h2m-89 1h1m40 0h1m8 0h1m12 0h1m1 0h1m1 0h3m1 0h4m2 0h1m3 0h1m-62 1h1m9 0h1m1 0h1m2 0h1m9 0h2m6 0h1m1 0h1m3 0h5m3 0h1m3 0h4m1 0h1m1 0h3m2 0h1m-51 1h1m14 0h1m2 0h2m2 0h2m2 0h1m2 0h2m1 0h4m1 0h1m3 0h1m3 0h2m18 0h1m-55 1h1m3 0h1m8 0h2m1 0h1m1 0h1m2 0h1m3 0h1m1 0h4m4 0h1m11 0h1m-81 1h1m38 0h1m5 0h5m3 0h2m2 0h2m3 0h1m1 0h3m2 0h1m-60 1h1m7 0h1m14 0h1m2 0h1m4 0h1m4 0h1m1 0h1m1 0h1m3 0h1m1 0h2m1 0h1m7 0h2m2 0h2m2 0h1m2 0h1m-46 1h1m12 0h1m5 0h2m1 0h1m3 0h2m2 0h1m3 0h1m9 0h1m1 0h1m-41 1h1m7 0h1m2 0h4m4 0h1m1 0h1m2 0h1m9 0h1m-46 1h1m10 0h1m3 0h1m10 0h1m4 0h1m2 0h1m3 0h1m-61 1h1m43 0h1m3 0h1m1 0h1m3 0h1m5 0h2m8 0h1m-68 1h1m26 0h1m9 0h1m1 0h1m13 0h1m10 0h1m-45 1h1m8 0h1m9 0h2m1 0h1m6 0h1m7 0h1m2 0h1m6 0h1m-81 1h1m10 0h1m37 0h1m2 0h1m4 0h2m5 0h1m4 0h2m8 0h1m6 0h1m-69 1h1m11 0h1m18 0h1m12 0h1m3 0h1m8 0h1m-72 1h1m11 0h1m18 0h1m6 0h1m14 0h3m-43 1h1m4 0h1m29 0h1m12 0h1m12 0h1m2 0h1m-76 1h1m1 0h1m1 0h1m2 0h2m9 0h1m-27 1h1m7 0h2m1 0h1m3 0h1m4 0h1m2 0h2m7 0h1m6 0h1m25 0h1m10 0h1m-62 1h1m9 0h1m27 0h2m32 0h1m-92 1h2m5 0h1m8 0h2m1 0h3m1 0h4m25 0h1m-61 1h1m4 0h1m7 0h1m1 0h1m5 0h3m1 0h2m1 0h1m4 0h1m5 0h1m1 0h1m25 0h1m-54 1h1m10 0h1m1 0h1m1 0h3m2 0h2m1 0h1m13 0h1m-45 1h1m9 0h2m2 0h7m1 0h2m4 0h1m4 0h1m-34 1h1m8 0h1m3 0h1m3 0h1m1 0h2m2 0h1m2 0h2m2 0h2m-37 1h1m7 0h1m5 0h1m1 0h1m3 0h3m1 0h1m1 0h3m1 0h3m1 0h3m-25 1h3m1 0h2m1 0h8m1 0h1m1 0h2m5 0h2m25 0h1m-61 1h1m1 0h1m3 0h1m1 0h5m1 0h1m1 0h2m1 0h10m2 0h4m3 0h1m17 0h1m-63 1h1m3 0h1m2 0h2m1 0h2m1 0h20m1 0h1m1 0h1m1 0h3m5 0h1m5 0h1m15 0h1m-66 1h1m2 0h1m5 0h2m1 0h18m1 0h6m1 0h1m31 0h1m-73 1h2m2 0h1m3 0h1m2 0h22m1 0h2m1 0h4m5 0h1m-46 1h1m1 0h6m1 0h1m2 0h5m1 0h20m1 0h2m1 0h1m-45 1h1m3 0h1m4 0h1m1 0h6m1 0h3m1 0h11m1 0h3m1 0h5m5 0h1m2 0h1m-48 1h3m1 0h4m1 0h26m1 0h2m1 0h1m-40 1h1m1 0h2m2 0h3m1 0h20m1 0h4m1 0h1m3 0h1m4 0h1m-43 1h5m1 0h1m1 0h23m1 0h2m1 0h1m1 0h1m1 0h1m15 0h1m2 0h1m-66 1h1m3 0h1m1 0h1m2 0h3m1 0h21m1 0h6m1 0h1m2 0h1m21 0h1m-64 1h1m2 0h30m1 0h5m1 0h1m3 0h1m2 0h2m-49 1h2m2 0h28m1 0h3m1 0h1m2 0h1m18 0h1m-59 1h10m1 0h19m1 0h1m1 0h1m1 0h1m3 0h1m1 0h1m10 0h1m-54 1h2m1 0h1m2 0h23m1 0h2m1 0h2m2 0h1m-40 1h1m2 0h24m1 0h12m10 0h1m-51 1h1m4 0h1m1 0h30m1 0h1m1 0h2m-44 1h1m2 0h1m1 0h2m1 0h1m1 0h1m1 0h22m1 0h1m1 0h1m2 0h2m2 0h1m1 0h1m-47 1h1m4 0h1m2 0h2m1 0h19m2 0h8m4 0h1m-41 1h1m2 0h1m2 0h26m1 0h4m2 0h1m3 0h1m2 0h1m-42 1h24m1 0h5m3 0h1m3 0h1m1 0h1m2 0h1m2 0h1m-53 1h1m1 0h1m2 0h1m1 0h1m1 0h4m1 0h8m1 0h7m2 0h4m2 0h1m2 0h1m7 0h1m-48 1h1m1 0h1m4 0h6m1 0h12m1 0h1m1 0h5m1 0h3m3 0h1m-44 1h3m1 0h2m1 0h16m1 0h5m1 0h6m1 0h1m-34 1h2m1 0h1m1 0h1m1 0h2m1 0h7m1 0h8m1 0h1m1 0h3m1 0h1m1 0h1m8 0h1m-50 1h1m6 0h1m1 0h1m1 0h1m1 0h1m1 0h1m1 0h6m1 0h7m1 0h1m1 0h1m1 0h1m1 0h1m5 0h1m-38 1h1m4 0h9m1 0h5m1 0h4m1 0h2m1 0h2m25 0h1m-65 1h1m4 0h1m1 0h1m2 0h3m2 0h1m2 0h7m2 0h3m1 0h3m1 0h2m1 0h1m1 0h1m1 0h1m3 0h1m-43 1h2m4 0h1m1 0h1m2 0h4m1 0h1m1 0h2m2 0h1m3 0h2m2 0h2m-36 1h1m9 0h2m2 0h3m1 0h4m1 0h2m1 0h1m3 0h1m1 0h1m5 0h1m29 0h1m-62 1h1m4 0h1m2 0h2m3 0h1m1 0h2m1 0h1m2 0h5m1 0h2m1 0h1m1 0h1m3 0h1m-39 1h1m5 0h1m1 0h1m2 0h1m3 0h1m5 0h2m1 0h1m3 0h1m4 0h1m-34 1h1m3 0h1m1 0h1m6 0h2m5 0h1m1 0h1m6 0h1m-28 1h1m5 0h2m7 0h1m2 0h1m-14 1h2m3 0h2m5 0h1m2 0h1m3 0h1"/>
<path fill="none" stroke="#000" stroke-opacity="0.68" stroke-width="1" d="M449 64.5h1m-80 1h1m51 1h1m4 0h1m-5 1h1m-13 4h1m1 0h1m6 0h1m3 0h1m8 0h1m6 0h1m-9 1h1m-21 2h1m7 0h1m2 0h1m-3 1h1m-12 1h1m8 0h1m4 0h1m20 0h1m-39 1h1m10 0h1m11 0h1m-22 1h1m11 0h1m2 0h1m4 0h1m2 0h1m-61 1h1m20 0h1m22 0h1m16 0h1m3 0h1m22 0h1m-76 1h1m20 0h1m2 0h1m1 0h1m10 0h1m4 0h2m5 0h1m-45 1h1m24 0h2m14 0h1m1 0h1m3 0h1m-26 1h1m7 0h1m2 0h2m2 0h2m16 0h1m3 0h1m-82 1h1m33 0h1m7 0h1m2 0h1m2 0h2m1 0h1m1 0h1m3 0h3m3 0h1m19 0h1m-50 1h1m12 0h1m10 0h3m5 0h1m7 0h1m-38 1h1m3 0h1m2 0h1m1 0h1m4 0h2m4 0h1m7 0h1m4 0h1m2 0h1m5 0h1m-51 1h1m5 0h1m1 0h1m1 0h1m4 0h1m6 0h1m1 0h2m1 0h3m2 0h1m1 0h2m3 0h1m5 0h1m5 0h2m3 0h1m-50 1h1m4 0h1m7 0h1m1 0h1m4 0h1m1 0h1m1 0h2m1 0h2m2 0h1m1 0h1m4 0h1m1 0h1m3 0h1m-49 1h1m15 0h1m2 0h3m5 0h1m1 0h1m1 0h1m1 0h3m4 0h1m2 0h1m-66 1h1m25 0h2m2 0h2m3 0h2m1 0h1m1 0h1m3 0h1m1 0h3m2 0h2m1 0h1m6 0h2m2 0h1m5 0h1m5 0h1m-62 1h1m13 0h2m4 0h1m1 0h2m1 0h3m1 0h5m2 0h1m1 0h2m2 0h2m1 0h1m2 0h1m7 0h1m7 0h1m-57 1h1m2 0h1m2 0h1m1 0h1m1 0h1m2 0h2m2 0h2m1 0h4m4 0h2m1 0h1m2 0h1m2 0h1m1 0h1m9 0h1m4 0h1m-76 1h1m14 0h1m6 0h1m3 0h1m2 0h3m2 0h10m1 0h4m1 0h2m3 0h1m5 0h1m-60 1h1m5 0h1m6 0h1m8 0h1m7 0h1m1 0h2m2 0h1m1 0h1m1 0h1m1 0h6m1 0h5m4 0h1m1 0h3m2 0h1m2 0h1m12 0h1m-99 1h1m38 0h3m1 0h1m3 0h1m1 0h1m3 0h1m1 0h4m2 0h4m3 0h2m3 0h2m1 0h1m11 0h1m-49 1h2m3 0h1m1 0h1m1 0h6m1 0h1m1 0h1m1 0h3m2 0h1m1 0h1m2 0h3m1 0h2m1 0h2m4 0h1m-46 1h1m1 0h1m1 0h1m1 0h1m1 0h3m1 0h2m3 0h2m1 0h6m1 0h2m2 0h1m1 0h3m2 0h1m5 0h1m-47 1h1m4 0h2m2 0h1m1 0h1m1 0h15m1 0h3m2 0h1m1 0h1m2 0h2m16 0h1m1 0h1m-91 1h1m23 0h1m7 0h1m4 0h1m1 0h1m1 0h2m1 0h2m1 0h4m2 0h5m1 0h1m2 0h1m1 0h4m2 0h2m2 0h1m-47 1h2m1 0h1m2 0h2m4 0h1m1 0h2m1 0h5m1 0h11m3 0h2m1 0h3m1 0h1m1 0h1m3 0h1m3 0h1m-52 1h1m10 0h9m1 0h1m1 0h13m4 0h1m3 0h1m1 0h1m2 0h1m2 0h2m-75 1h1m11 0h2m7 0h1m4 0h1m2 0h2m2 0h3m1 0h7m1 0h2m1 0h8m2 0h2m4 0h2m5 0h1m-54 1h1m3 0h1m6 0h8m1 0h13m1 0h4m2 0h2m-54 1h1m10 0h1m9 0h1m1 0h1m2 0h1m1 0h9m1 0h2m2 0h3m1 0h5m1 0h2m3 0h1m5 0h1m5 0h1m-55 1h1m4 0h1m1 0h3m1 0h2m1 0h1m1 0h1m1 0h1m1 0h10m2 0h2m1 0h4m1 0h1m3 0h4m-57 1h1m4 0h3m6 0h2m1 0h1m1 0h20m1 0h1m2 0h3m3 0h1m3 0h3m1 0h1m6 0h1m-58 1h1m8 0h1m1 0h1m4 0h3m1 0h5m1 0h12m1 0h2m1 0h1m1 0h3m-55 1h1m12 0h5m1 0h1m1 0h1m1 0h6m2 0h8m2 0h3m1 0h2m1 0h1m5 0h1m-58 1h1m6 0h1m10 0h1m2 0h1m4 0h1m1 0h3m1 0h13m1 0h2m1 0h2m2 0h1m7 0h2m7 0h1m-62 1h1m7 0h1m3 0h6m1 0h7m1 0h4m1 0h2m1 0h5m2 0h1m1 0h2m7 0h1m-74 1h1m5 0h1m16 0h1m5 0h1m1 0h2m5 0h1m2 0h7m1 0h7m1 0h11m2 0h1m1 0h1m-67 1h1m16 0h1m1 0h1m2 0h2m1 0h1m4 0h6m1 0h2m1 0h3m1 0h7m1 0h2m1 0h1m3 0h2m5 0h1m-53 1h1m7 0h3m1 0h2m2 0h2m3 0h11m2 0h1m2 0h1m1 0h1m1 0h1m11 0h1m-57 1h1m11 0h3m1 0h1m4 0h2m1 0h1m2 0h2m1 0h9m1 0h2m3 0h2m-38 1h1m2 0h1m1 0h1m3 0h2m1 0h4m1 0h4m1 0h11m2 0h5m3 0h1m2 0h1m10 0h1m-75 1h1m8 0h1m2 0h1m6 0h1m3 0h1m4 0h4m2 0h3m1 0h4m1 0h4m2 0h1m7 0h2m1 0h1m14 0h1m-74 1h1m11 0h1m6 0h1m1 0h1m4 0h1m2 0h1m1 0h3m1 0h2m1 0h2m1 0h3m1 0h2m1 0h1m1 0h1m4 0h2m2 0h1m3 0h1m-52 1h1m5 0h1m2 0h1m1 0h1m1 0h1m2 0h4m2 0h6m1 0h2m4 0h1m2 0h3m1 0h1m15 0h1m-66 1h1m8 0h1m5 0h1m4 0h5m1 0h1m1 0h2m1 0h2m2 0h3m2 0h1m1 0h1m1 0h2m-44 1h1m7 0h1m6 0h1m1 0h2m4 0h1m1 0h3m1 0h2m3 0h1m1 0h1m3 0h1m1 0h2m3 0h1m1 0h1m1 0h1m-53 1h1m7 0h1m4 0h1m4 0h1m5 0h2m1 0h1m2 0h1m2 0h4m2 0h1m1 0h2m1 0h1m8 0h2m-72 1h1m16 0h1m7 0h1m5 0h1m8 0h4m1 0h1m2 0h1m3 0h2m1 0h2m1 0h1m3 0h2m5 0h1m2 0h1m-50 1h1m5 0h1m1 0h1m2 0h1m1 0h5m1 0h1m3 0h2m4 0h5m1 0h2m3 0h2m1 0h1m-55 1h1m13 0h1m1 0h1m7 0h2m2 0h1m4 0h1m1 0h1m6 0h1m-46 1h1m7 0h1m1 0h1m9 0h1m2 0h1m8 0h1m1 0h1m9 0h1m8 0h1m-31 1h1m4 0h1m5 0h1m3 0h2m1 0h1m3 0h1m4 0h1m-45 1h1m19 0h1m13 0h2m3 0h1m5 0h1m-31 1h1m7 0h1m3 0h1m1 0h1m6 0h2m8 0h1m-30 1h1m10 0h1m3 0h1m12 0h1m3 0h1m2 0h1m8 0h1m-40 1h1m1 0h1m10 0h1m16 0h1m-64 1h1m3 0h1m30 0h1m6 0h1m14 0h1m3 0h1m-84 1h1m55 0h1m6 0h4m13 0h1m-79 1h1m6 0h1m9 0h1m51 0h2m26 0h1m-97 1h1m11 0h1m3 0h1m1 0h1m4 0h1m29 0h1m14 0h1m1 0h1m1 0h1m-71 1h2m3 0h1m7 0h1m27 0h1m16 0h1m13 0h1m2 0h1m-65 1h1m1 0h1m2 0h1m27 0h1m30 0h1m-74 1h1m3 0h4m6 0h1m3 0h2m1 0h1m2 0h1m20 0h1m6 0h1m-55 1h2m1 0h1m2 0h1m6 0h1m1 0h1m6 0h2m69 0h1m-95 1h2m1 0h1m1 0h2m2 0h2m1 0h1m1 0h2m3 0h2m3 0h1m3 0h1m6 0h1m17 0h1m-64 1h1m5 0h1m5 0h2m4 0h2m3 0h3m1 0h2m7 0h1m1 0h1m48 0h1m-79 1h3m2 0h1m4 0h1m1 0h2m1 0h2m1 0h4m1 0h2m10 0h1m8 0h1m3 0h1m20 0h1m-71 1h2m3 0h4m1 0h2m1 0h2m1 0h4m2 0h2m1 0h1m19 0h1m35 0h1m-80 1h5m1 0h2m1 0h5m1 0h4m2 0h4m7 0h1m-46 1h1m6 0h1m2 0h3m1 0h6m2 0h3m1 0h5m2 0h7m8 0h1m-37 1h3m3 0h7m1 0h3m2 0h1m1 0h2m1 0h1m1 0h2m1 0h1m4 0h1m-47 1h2m6 0h1m1 0h4m1 0h2m1 0h1m1 0h18m2 0h1m21 0h1m-58 1h1m3 0h3m1 0h3m1 0h2m1 0h11m1 0h8m4 0h1m7 0h1m20 0h1m1 0h1m1 0h1m-77 1h1m5 0h1m1 0h2m1 0h6m2 0h2m1 0h8m1 0h2m1 0h2m1 0h4m1 0h1m5 0h1m3 0h1m-54 1h1m4 0h1m3 0h4m1 0h16m1 0h3m2 0h1m1 0h5m1 0h1m26 0h1m-70 1h1m2 0h1m3 0h1m1 0h16m1 0h8m1 0h2m4 0h1m3 0h1m3 0h1m20 0h2m-70 1h4m1 0h29m1 0h1m6 0h1m4 0h1m36 0h1m-84 1h1m1 0h1m2 0h21m1 0h3m2 0h5m1 0h1m3 0h1m-46 1h1m2 0h1m3 0h30m3 0h3m1 0h1m23 0h1m-66 1h4m1 0h33m12 0h1m6 0h1m2 0h1m-64 1h1m2 0h3m1 0h26m1 0h2m1 0h6m1 0h1m-42 1h3m1 0h27m1 0h1m1 0h3m2 0h1m27 0h1m-70 1h1m1 0h3m1 0h28m2 0h2m2 0h1m3 0h1m3 0h1m22 0h1m-73 1h1m4 0h29m1 0h3m1 0h2m3 0h1m3 0h1m15 0h1m-66 1h1m4 0h2m1 0h30m1 0h2m-38 1h1m3 0h3m3 0h1m1 0h26m1 0h5m17 0h1m-65 1h1m3 0h2m1 0h28m1 0h2m2 0h3m21 0h1m-65 1h1m1 0h1m2 0h30m1 0h2m2 0h1m1 0h1m1 0h1m-42 1h1m1 0h3m1 0h26m1 0h4m3 0h1m-41 1h2m2 0h1m1 0h2m1 0h23m1 0h2m-35 1h2m3 0h2m1 0h13m1 0h13m1 0h1m2 0h1m1 0h1m19 0h1m-65 1h1m1 0h4m1 0h1m1 0h7m1 0h4m1 0h15m1 0h1m1 0h1m-42 1h2m2 0h1m2 0h1m1 0h1m1 0h2m1 0h1m1 0h6m1 0h2m1 0h5m1 0h2m3 0h1m1 0h2m-38 1h1m3 0h1m1 0h1m1 0h3m1 0h13m1 0h5m1 0h2m1 0h1m2 0h1m2 0h1m5 0h1m1 0h1m-51 1h1m1 0h1m2 0h1m1 0h1m5 0h1m1 0h10m1 0h3m1 0h3m6 0h1m-40 1h1m1 0h2m3 0h1m6 0h7m1 0h1m2 0h5m2 0h2m1 0h2m6 0h1m-42 1h1m3 0h1m2 0h3m1 0h3m1 0h1m1 0h1m1 0h4m1 0h4m3 0h2m1 0h1m-31 1h1m1 0h6m1 0h5m2 0h1m1 0h1m1 0h2m1 0h3m2 0h1m2 0h1m3 0h1m-37 1h1m2 0h5m1 0h5m4 0h1m1 0h1m3 0h1m1 0h1m1 0h1m4 0h1m1 0h1m8 0h1m-46 1h3m3 0h8m1 0h2m1 0h2m2 0h4m5 0h1m-37 1h1m4 0h1m7 0h1m1 0h1m1 0h2m4 0h2m1 0h1m1 0h1m3 0h1m3 0h1m4 0h1m-26 1h2m1 0h1m2 0h2m10 0h1m5 0h1m-36 1h2m7 0h2m4 0h1m1 0h1m5 0h1m5 0h1m-21 1h2m10 0h1m2 0h1"/>
<path fill="none" stroke="#000" stroke-opacity="0.56" stroke-width="1" d="M104 273.5h1m7 12h1m-10 1h1m50 2h1m15 0h1m-33 2h1m34 2h1m-9 1h1m-19 1h1m5 0h1m1 0h2m1 0h1m2 0h1m20 0h1m-109 1h1m2 0h1m33 0h1m38 0h1m-6 1h1m1 0h1m6 0h1m3 0h2m-77 1h1m35 0h1m3 0h1m3 0h1m4 0h1m17 0h1m3 0h1m27 0h1m-92 1h1m34 0h1m8 0h1m3 0h1m10 0h1m4 0h1m12 0h1m3 0h1m-62 1h1m7 0h1m14 0h1m10 0h1m11 0h1m1 0h1m14 0h1m7 0h1m3 0h1m-112 1h1m11 0h1m45 0h1m1 0h1m4 0h1m4 0h1m27 0h1m6 0h1m1 0h1m-53 1h1m7 0h1m4 0h1m5 0h1m12 0h1m1 0h1m6 0h1m2 0h1m3 0h1m3 0h1m-74 1h1m7 0h1m16 0h1m1 0h1m1 0h1m3 0h1m9 0h1m12 0h2m3 0h2m6 0h1m2 0h1m10 0h1m2 0h1m-113 1h1m32 0h1m3 0h1m9 0h1m1 0h1m7 0h1m2 0h1m1 0h1m4 0h1m4 0h1m4 0h1m3 0h1m16 0h1m3 0h1m5 0h1m-79 1h1m11 0h1m2 0h1m5 0h1m5 0h1m2 0h1m7 0h1m6 0h1m8 0h1m7 0h1m2 0h2m2 0h1m2 0h1m-58 1h1m4 0h3m1 0h1m3 0h1m7 0h1m3 0h1m7 0h1m5 0h1m6 0h1m3 0h3m-91 1h1m28 0h1m3 0h1m18 0h1m3 0h2m18 0h1m1 0h1m1 0h1m-79 1h1m25 0h1m9 0h1m3 0h1m8 0h1m2 0h1m3 0h2m1 0h2m1 0h2m3 0h1m3 0h2m1 0h3m1 0h1m4 0h1m4 0h1m18 0h1m-97 1h1m4 0h1m4 0h1m14 0h5m2 0h1m4 0h1m12 0h1m24 0h1m4 0h1m3 0h1m-79 1h1m12 0h1m6 0h5m1 0h1m1 0h1m1 0h1m4 0h1m6 0h1m9 0h1m11 0h1m4 0h1m4 0h1m3 0h1m9 0h2m-90 1h3m20 0h1m1 0h1m4 0h1m3 0h1m8 0h1m3 0h1m14 0h1m1 0h2m2 0h1m12 0h1m-83 1h1m11 0h1m1 0h1m6 0h1m3 0h1m1 0h1m7 0h1m3 0h2m3 0h1m2 0h3m3 0h1m9 0h1m-84 1h1m13 0h1m3 0h1m6 0h1m3 0h1m1 0h1m2 0h1m1 0h2m7 0h2m6 0h1m3 0h1m3 0h1m4 0h1m3 0h1m12 0h2m2 0h1m5 0h1m9 0h2m15 0h1m-112 1h1m7 0h1m10 0h2m6 0h1m1 0h2m2 0h1m2 0h2m3 0h1m2 0h1m3 0h1m4 0h1m2 0h1m1 0h2m3 0h1m2 0h2m7 0h1m3 0h1m-83 1h1m32 0h1m3 0h1m2 0h2m2 0h1m1 0h3m1 0h1m3 0h1m1 0h1m4 0h1m10 0h2m1 0h1m2 0h1m5 0h1m11 0h1m9 0h1m-108 1h1m2 0h1m23 0h1m3 0h1m3 0h1m1 0h1m1 0h3m3 0h1m2 0h1m1 0h2m3 0h2m2 0h1m1 0h1m2 0h1m7 0h1m3 0h1m2 0h3m-70 1h1m4 0h1m6 0h1m1 0h1m1 0h1m4 0h1m2 0h1m2 0h2m1 0h2m3 0h1m1 0h1m1 0h5m1 0h2m1 0h1m6 0h3m1 0h1m2 0h2m4 0h1m1 0h1m1 0h2m2 0h1m11 0h1m-87 1h1m6 0h2m8 0h1m1 0h2m1 0h1m1 0h1m6 0h3m3 0h1m1 0h1m1 0h1m1 0h2m2 0h2m4 0h1m1 0h3m1 0h1m3 0h1m9 0h1m3 0h3m12 0h1m-97 1h1m4 0h1m5 0h1m6 0h1m2 0h2m2 0h2m3 0h1m7 0h2m1 0h3m2 0h1m2 0h1m1 0h1m1 0h1m5 0h2m1 0h2m5 0h1m4 0h3m4 0h2m1 0h1m-101 1h1m8 0h1m2 0h1m13 0h1m3 0h2m1 0h2m1 0h1m2 0h3m3 0h2m1 0h1m4 0h1m2 0h1m1 0h4m8 0h2m1 0h1m4 0h1m4 0h1m4 0h1m2 0h1m4 0h2m5 0h1m3 0h1m-78 1h2m2 0h1m2 0h1m1 0h1m1 0h1m1 0h1m2 0h1m1 0h3m1 0h3m3 0h1m6 0h1m3 0h2m3 0h1m2 0h1m3 0h4m11 0h1m3 0h2m2 0h1m2 0h1m5 0h1m-102 1h1m15 0h2m6 0h2m1 0h1m4 0h3m1 0h1m1 0h1m3 0h2m3 0h1m1 0h1m1 0h1m6 0h1m2 0h1m3 0h1m1 0h1m2 0h1m1 0h1m10 0h1m6 0h1m-89 1h1m2 0h1m8 0h2m5 0h2m1 0h1m1 0h1m2 0h1m2 0h1m1 0h1m1 0h2m5 0h1m1 0h2m1 0h1m4 0h1m3 0h4m1 0h1m5 0h2m8 0h1m1 0h1m2 0h1m1 0h1m4 0h1m9 0h1m-110 1h1m10 0h1m1 0h1m21 0h1m2 0h3m2 0h2m3 0h1m2 0h2m1 0h1m2 0h2m1 0h1m1 0h1m2 0h1m1 0h1m5 0h1m1 0h1m4 0h1m9 0h1m2 0h1m-112 1h1m19 0h1m11 0h1m8 0h3m1 0h1m2 0h1m1 0h1m3 0h2m2 0h1m4 0h1m2 0h1m2 0h2m2 0h1m1 0h1m4 0h1m1 0h1m2 0h3m3 0h2m1 0h1m1 0h1m1 0h1m1 0h2m3 0h1m2 0h1m1 0h2m-70 1h1m5 0h1m1 0h1m2 0h1m1 0h1m1 0h1m1 0h1m2 0h1m3 0h2m1 0h5m1 0h2m1 0h1m1 0h2m1 0h1m3 0h1m5 0h4m16 0h1m2 0h1m1 0h1m4 0h2m7 0h1m1 0h1m-110 1h1m15 0h1m6 0h2m2 0h1m3 0h2m8 0h1m4 0h3m1 0h1m1 0h2m2 0h1m1 0h1m4 0h1m1 0h4m4 0h1m5 0h2m1 0h1m10 0h1m12 0h1m-118 1h1m3 0h1m18 0h1m4 0h1m2 0h1m1 0h1m2 0h3m3 0h1m3 0h1m2 0h1m2 0h1m4 0h1m4 0h1m2 0h1m1 0h2m3 0h2m1 0h4m2 0h3m2 0h3m1 0h3m2 0h1m-77 1h1m7 0h1m8 0h1m2 0h1m1 0h1m2 0h3m3 0h2m3 0h1m7 0h3m4 0h3m2 0h3m1 0h1m2 0h1m1 0h3m3 0h2m2 0h1m7 0h1m2 0h1m16 0h1m-120 1h1m3 0h1m4 0h1m8 0h1m7 0h3m2 0h1m8 0h3m4 0h1m2 0h1m1 0h1m1 0h1m3 0h1m1 0h6m3 0h1m3 0h1m1 0h1m1 0h4m2 0h1m7 0h1m2 0h2m1 0h1m2 0h1m3 0h1m4 0h1m2 0h1m-103 1h1m13 0h1m1 0h1m1 0h1m4 0h1m3 0h2m10 0h1m1 0h1m9 0h2m1 0h2m1 0h1m2 0h4m2 0h2m1 0h2m1 0h6m1 0h1m2 0h1m9 0h2m8 0h1m5 0h1m-118 1h1m5 0h1m22 0h2m2 0h1m2 0h1m1 0h3m2 0h1m2 0h1m4 0h4m3 0h2m5 0h2m2 0h1m5 0h1m2 0h1m2 0h1m3 0h1m6 0h2m1 0h1m5 0h1m-102 1h2m3 0h1m3 0h1m9 0h1m2 0h2m1 0h1m3 0h1m7 0h1m3 0h1m6 0h1m3 0h1m6 0h3m1 0h2m1 0h3m2 0h1m1 0h4m2 0h1m1 0h7m1 0h1m1 0h1m16 0h1m3 0h1m-93 1h1m4 0h1m1 0h1m3 0h1m3 0h1m1 0h1m8 0h2m1 0h1m5 0h2m1 0h1m3 0h2m5 0h1m4 0h1m4 0h1m1 0h1m2 0h1m1 0h1m1 0h2m1 0h2m3 0h1m1 0h1m1 0h2m9 0h1m-115 1h1m14 0h1m7 0h1m4 0h1m2 0h1m3 0h3m1 0h2m5 0h2m1 0h1m5 0h1m2 0h1m1 0h1m1 0h2m1 0h3m1 0h7m1 0h2m3 0h2m2 0h3m1 0h2m1 0h2m2 0h1m1 0h4m3 0h1m4 0h1m-97 1h1m2 0h1m7 0h1m1 0h1m5 0h1m1 0h1m3 0h1m7 0h1m6 0h1m3 0h2m2 0h7m1 0h5m2 0h2m2 0h1m5 0h1m1 0h2m2 0h1m1 0h1m15 0h1m-109 1h1m5 0h1m14 0h2m1 0h1m3 0h2m6 0h1m3 0h2m3 0h1m2 0h2m1 0h2m1 0h1m6 0h4m1 0h1m1 0h5m1 0h1m3 0h4m4 0h1m6 0h1m4 0h1m-116 1h1m19 0h1m4 0h1m14 0h2m20 0h1m4 0h1m3 0h1m1 0h3m1 0h1m2 0h2m1 0h1m2 0h3m4 0h6m12 0h1m1 0h1m3 0h1m3 0h1m-101 1h1m13 0h1m2 0h1m1 0h4m7 0h1m3 0h1m3 0h1m5 0h1m6 0h2m1 0h1m1 0h1m2 0h3m1 0h1m3 0h3m2 0h4m3 0h3m3 0h1m1 0h1m2 0h1m2 0h1m5 0h1m-116 1h1m21 0h2m2 0h1m3 0h1m16 0h1m4 0h1m3 0h1m6 0h1m1 0h1m4 0h1m1 0h7m2 0h2m5 0h1m4 0h1m10 0h2m1 0h1m4 0h1m2 0h1m-114 1h1m4 0h1m2 0h1m5 0h1m5 0h1m9 0h2m2 0h1m2 0h1m1 0h1m4 0h1m2 0h1m2 0h1m6 0h1m4 0h1m3 0h1m1 0h1m1 0h1m1 0h1m3 0h2m1 0h2m2 0h2m1 0h2m1 0h1m1 0h2m1 0h2m2 0h2m6 0h1m2 0h1m5 0h1m-123 1h1m27 0h1m3 0h1m4 0h1m4 0h1m10 0h1m6 0h2m7 0h1m1 0h3m1 0h3m1 0h1m1 0h3m4 0h5m1 0h1m2 0h1m1 0h1m2 0h1m3 0h1m5 0h1m12 0h1m-100 1h1m5 0h1m7 0h2m1 0h1m12 0h1m6 0h1m1 0h2m1 0h4m1 0h1m2 0h2m4 0h4m1 0h1m1 0h4m1 0h2m1 0h3m1 0h3m8 0h2m2 0h1m2 0h1m-96 1h1m10 0h1m5 0h1m9 0h1m11 0h1m1 0h2m5 0h1m3 0h1m2 0h1m1 0h4m1 0h1m1 0h1m1 0h5m3 0h1m3 0h2m3 0h1m3 0h1m1 0h1m8 0h1m3 0h1m-117 1h1m7 0h1m8 0h1m16 0h1m1 0h1m1 0h1m10 0h1m4 0h1m3 0h2m1 0h1m3 0h1m2 0h1m1 0h1m1 0h1m4 0h9m1 0h1m3 0h4m2 0h1m4 0h2m4 0h1m12 0h1m-119 1h1m5 0h2m2 0h1m4 0h1m5 0h2m1 0h1m6 0h1m7 0h1m1 0h2m1 0h1m5 0h1m3 0h1m1 0h1m4 0h1m4 0h2m1 0h1m1 0h1m1 0h2m3 0h1m1 0h2m1 0h1m5 0h1m7 0h1m2 0h2m-90 1h1m3 0h1m11 0h1m4 0h1m6 0h2m8 0h1m3 0h1m1 0h2m2 0h1m5 0h2m3 0h2m6 0h4m1 0h1m5 0h2m8 0h1m1 0h1m2 0h1m1 0h1m-102 1h1m5 0h1m1 0h2m1 0h1m7 0h1m5 0h1m14 0h2m13 0h1m4 0h1m1 0h1m1 0h2m5 0h3m6 0h1m19 0h1m2 0h1m-100 1h1m1 0h1m1 0h2m11 0h1m7 0h1m7 0h1m10 0h2m5 0h1m1 0h2m1 0h1m3 0h1m1 0h3m3 0h7m2 0h1m1 0h2m3 0h1m6 0h1m6 0h1m-112 1h1m2 0h1m14 0h1m23 0h1m2 0h1m13 0h2m2 0h1m2 0h2m4 0h1m2 0h2m4 0h2m1 0h2m1 0h1m2 0h4m1 0h1m1 0h1m3 0h1m9 0h1m12 0h1m-136 1h1m26 0h1m1 0h1m1 0h1m3 0h1m25 0h1m1 0h1m1 0h1m5 0h3m5 0h2m3 0h1m2 0h1m2 0h2m1 0h2m2 0h1m1 0h2m6 0h1m1 0h1m8 0h1m6 0h1m-113 1h1m6 0h1m10 0h1m7 0h1m7 0h1m1 0h1m3 0h1m3 0h1m2 0h1m17 0h1m1 0h2m1 0h1m1 0h3m2 0h1m3 0h2m3 0h1m5 0h1m3 0h1m-85 1h1m1 0h1m5 0h2m9 0h2m2 0h1m4 0h1m8 0h1m1 0h1m12 0h2m2 0h1m2 0h2m1 0h5m1 0h2m1 0h2m4 0h1m1 0h1m1 0h1m1 0h1m-101 1h1m3 0h2m11 0h1m14 0h2m5 0h1m22 0h1m7 0h1m3 0h3m2 0h3m2 0h1m1 0h1m8 0h3m-107 1h1m18 0h1m3 0h1m8 0h1m1 0h1m5 0h1m3 0h1m11 0h1m9 0h1m6 0h1m5 0h3m2 0h1m3 0h1m1 0h1m5 0h2m1 0h4m1 0h1m1 0h1m2 0h1m6 0h2m-118 1h1m16 0h1m6 0h1m6 0h1m13 0h1m11 0h1m1 0h1m6 0h1m4 0h2m5 0h2m1 0h1m2 0h1m7 0h2m2 0h1m6 0h1m2 0h2m1 0h1m1 0h2m3 0h1m-111 1h1m5 0h1m10 0h2m3 0h1m1 0h1m4 0h1m3 0h2m10 0h2m14 0h1m8 0h2m3 0h1m3 0h2m2 0h2m1 0h1m1 0h2m3 0h1m1 0h2m4 0h1m3 0h1m2 0h1m7 0h1m2 0h1m-116 1h1m6 0h1m3 0h1m3 0h2m2 0h1m2 0h1m4 0h1m6 0h1m10 0h1m25 0h1m4 0h1m1 0h1m3 0h1m1 0h1m6 0h1m5 0h1m-101 1h1m1 0h1m8 0h1m4 0h1m1 0h1m3 0h1m5 0h1m5 0h1m2 0h1m5 0h1m14 0h1m2 0h1m3 0h1m5 0h2m1 0h3m3 0h3m1 0h2m6 0h1m1 0h1m2 0h1m2 0h2m7 0h1m-108 1h1m9 0h3m3 0h4m2 0h1m2 0h1m6 0h1m7 0h1m7 0h1m1 0h1m13 0h1m9 0h3m2 0h2m4 0h1m10 0h1m4 0h1m4 0h1m10 0h1m-122 1h1m10 0h1m5 0h1m2 0h1m2 0h5m10 0h1m19 0h2m1 0h1m4 0h1m5 0h2m5 0h2m1 0h1m4 0h1m5 0h1m21 0h1m-114 1h1m7 0h3m8 0h1m2 0h1m4 0h2m8 0h1m22 0h1m7 0h2m18 0h1m1 0h2m1 0h1m6 0h1m3 0h1m-87 1h1m1 0h1m5 0h2m10 0h1m23 0h1m3 0h2m7 0h1m2 0h1m3 0h2m-77 1h3m8 0h4m6 0h2m3 0h1m33 0h1m1 0h1m8 0h1m5 0h1m1 0h2m12 0h1m4 0h1m4 0h1m-114 1h1m6 0h1m2 0h1m5 0h1m2 0h1m7 0h1m1 0h2m1 0h1m2 0h2m1 0h1m1 0h1m25 0h1m3 0h2m7 0h1m5 0h1m1 0h2m1 0h1m3 0h2m5 0h2m-110 1h2m7 0h2m2 0h4m7 0h1m2 0h1m2 0h1m2 0h1m4 0h1m2 0h2m38 0h1m6 0h1m2 0h1m9 0h1m6 0h1m-100 1h1m3 0h1m6 0h1m1 0h1m2 0h1m1 0h1m7 0h1m5 0h1m24 0h1m1 0h2m21 0h1m2 0h1m-84 1h2m7 0h1m1 0h1m4 0h2m1 0h1m1 0h1m1 0h2m5 0h2m1 0h1m21 0h1m7 0h1m11 0h1m3 0h1m9 0h1m-88 1h1m4 0h1m1 0h3m3 0h1m5 0h1m16 0h1m10 0h1m22 0h1m15 0h2m-98 1h2m7 0h1m7 0h1m4 0h1m1 0h1m2 0h1m1 0h1m9 0h1m1 0h3m2 0h1m26 0h1m14 0h1m-89 1h1m6 0h2m5 0h1m1 0h1m4 0h1m2 0h2m2 0h1m4 0h2m2 0h1m1 0h1m23 0h1m4 0h1m24 0h1m4 0h1m2 0h1m11 0h1m1 0h1m-117 1h1m7 0h1m3 0h1m1 0h3m2 0h1m1 0h1m1 0h1m1 0h1m64 0h1m-84 1h1m2 0h1m5 0h2m1 0h2m3 0h1m1 0h1m13 0h2m47 0h1m-90 1h3m2 0h2m6 0h3m9 0h3m9 0h1m17 0h1m40 0h1m-98 1h1m2 0h2m1 0h2m4 0h1m1 0h3m2 0h2m1 0h1m1 0h1m3 0h1m5 0h1m2 0h1m3 0h1m-43 1h1m1 0h1m3 0h1m2 0h1m3 0h2m1 0h2m4 0h2m2 0h3m2 0h1m1 0h1m2 0h1m2 0h1m21 0h1m-60 1h2m3 0h2m3 0h5m4 0h1m3 0h2m1 0h4m3 0h1m3 0h1m41 0h1m12 0h1m7 0h1m-100 1h1m2 0h1m3 0h2m3 0h3m1 0h1m1 0h1m1 0h1m1 0h3m5 0h4m2 0h1m3 0h1m3 0h1m-48 1h1m1 0h1m3 0h1m3 0h1m1 0h1m3 0h1m1 0h1m2 0h2m1 0h3m1 0h2m1 0h4m1 0h1m10 0h1m51 0h1m-100 1h1m1 0h1m5 0h5m2 0h1m1 0h1m1 0h1m2 0h4m1 0h8m1 0h1m10 0h1m44 0h1m-93 1h1m2 0h1m3 0h1m1 0h1m4 0h2m1 0h2m1 0h3m1 0h1m2 0h1m1 0h3m2 0h2m1 0h2m1 0h1m6 0h1m12 0h1m-60 1h2m1 0h2m2 0h1m2 0h1m2 0h6m2 0h3m8 0h2m1 0h1m1 0h1m1 0h2m44 0h2m-83 1h1m1 0h2m1 0h2m2 0h2m2 0h2m1 0h2m1 0h2m1 0h1m3 0h3m1 0h1m1 0h1m-38 1h1m2 0h1m2 0h3m1 0h2m1 0h3m1 0h1m1 0h1m1 0h3m1 0h4m1 0h1m5 0h1m1 0h3m1 0h1m1 0h1m-45 1h2m4 0h2m1 0h1m1 0h1m1 0h4m3 0h7m1 0h2m3 0h2m1 0h1m13 0h1m-50 1h2m1 0h1m1 0h1m3 0h2m2 0h4m1 0h1m1 0h1m1 0h3m2 0h3m2 0h1m4 0h2m6 0h1m39 0h1m-86 1h1m4 0h1m1 0h5m3 0h2m1 0h1m1 0h1m2 0h1m1 0h6m3 0h1m3 0h1m3 0h1m14 0h1m37 0h1m-96 1h1m2 0h1m2 0h5m1 0h3m1 0h1m1 0h2m2 0h2m2 0h7m2 0h2m4 0h1m2 0h2m-47 1h1m2 0h2m1 0h6m1 0h2m1 0h10m1 0h1m1 0h2m2 0h2m1 0h1m2 0h1m5 0h2m4 0h1m6 0h1m13 0h1m9 0h1m-83 1h1m2 0h1m4 0h1m2 0h2m2 0h8m1 0h4m1 0h3m1 0h2m1 0h1m20 0h1m6 0h1m-64 1h1m1 0h12m2 0h6m1 0h1m1 0h2m2 0h3m5 0h2m47 0h1m-87 1h1m1 0h2m1 0h3m1 0h4m1 0h2m2 0h6m1 0h1m1 0h4m5 0h1m-38 1h4m1 0h1m1 0h2m1 0h9m1 0h4m2 0h3m1 0h1m1 0h1m1 0h1m20 0h1m-53 1h4m2 0h1m2 0h1m1 0h7m1 0h4m1 0h2m1 0h2m1 0h2m1 0h1m9 0h1m1 0h1m-48 1h4m1 0h2m1 0h2m4 0h4m2 0h11m1 0h1m2 0h1m8 0h1m26 0h1m-73 1h2m1 0h1m1 0h2m4 0h1m1 0h9m1 0h3m1 0h5m1 0h1m3 0h1m-38 1h1m1 0h1m1 0h2m1 0h1m1 0h1m1 0h2m1 0h3m3 0h2m1 0h8m2 0h1m1 0h1m15 0h1m44 0h1m-96 1h1m4 0h1m1 0h1m1 0h1m1 0h15m1 0h5m2 0h2m2 0h1m1 0h1m17 0h1m-56 1h1m2 0h6m1 0h1m2 0h5m2 0h2m1 0h1m1 0h2m5 0h1m2 0h3m1 0h1m-38 1h2m1 0h3m1 0h7m1 0h2m1 0h1m1 0h3m3 0h1m1 0h1m1 0h1m7 0h1m-44 1h1m4 0h4m1 0h5m3 0h1m1 0h3m3 0h3m1 0h4m1 0h1m21 0h1m-57 1h2m3 0h1m2 0h1m2 0h2m2 0h2m1 0h1m2 0h1m2 0h1m1 0h4m2 0h1m4 0h2m7 0h1m-49 1h1m1 0h2m1 0h1m3 0h2m3 0h2m1 0h2m1 0h1m1 0h3m4 0h3m1 0h1m-30 1h1m1 0h4m4 0h1m1 0h6m1 0h1m1 0h1m1 0h1m-28 1h1m3 0h5m1 0h1m1 0h1m5 0h4m7 0h3m16 0h1m7 0h1m-56 1h1m3 0h1m1 0h2m2 0h3m3 0h1m1 0h2m1 0h1m1 0h1m2 0h1m3 0h4m6 0h1m3 0h1m-46 1h1m3 0h2m1 0h3m2 0h1m1 0h3m2 0h4m1 0h1m2 0h2m6 0h2m6 0h1m12 0h1m-53 1h1m1 0h1m4 0h2m4 0h1m2 0h2m1 0h3m3 0h1m1 0h1m1 0h1m4 0h1m5 0h1m1 0h3m-47 1h1m3 0h1m2 0h1m1 0h5m2 0h3m1 0h1m1 0h1m1 0h1m1 0h2m19 0h1m-50 1h1m3 0h2m2 0h2m4 0h2m1 0h1m1 0h3m2 0h1m3 0h2m1 0h1m3 0h1m-34 1h1m9 0h1m3 0h2m2 0h1m1 0h1m4 0h2m2 0h1m4 0h1m4 0h1m4 0h1m-29 1h1m1 0h1m5 0h1m3 0h3m1 0h1m6 0h1m2 0h1m-42 1h1m1 0h1m4 0h1m2 0h2m5 0h1m3 0h1m1 0h1m2 0h1m-21 1h1m13 0h1m12 0h1"/>
<path fill="none" stroke="#000" stroke-opacity="0.56" stroke-width="1" d="M143 289.5h1m4 3h1m9 0h1m16 0h1m-35 1h1m29 0h1m4 0h1m-48 1h1m30 0h1m15 0h2m-97 1h1m65 0h1m10 0h1m5 0h1m6 0h1m1 0h2m-101 1h1m53 0h1m7 0h1m11 0h1m16 0h1m2 0h1m14 0h1m11 0h1m-122 1h1m68 0h2m4 0h1m1 0h1m3 0h1m6 0h1m1 0h2m1 0h1m6 0h1m3 0h1m3 0h1m-105 1h1m3 0h1m28 0h1m12 0h1m40 0h1m7 0h2m-95 1h1m35 0h1m17 0h1m12 0h1m8 0h1m2 0h1m1 0h1m12 0h1m4 0h2m-103 1h1m43 0h1m12 0h1m7 0h1m1 0h1m23 0h1m3 0h1m11 0h1m-105 1h1m30 0h1m1 0h1m1 0h1m6 0h1m7 0h1m2 0h1m3 0h1m1 0h2m2 0h4m16 0h1m1 0h1m6 0h1m1 0h1m-37 1h1m2 0h1m15 0h1m1 0h1m2 0h1m7 0h1m2 0h1m4 0h1m1 0h1m-59 1h1m4 0h1m1 0h1m2 0h1m1 0h1m15 0h1m1 0h1m4 0h2m4 0h1m11 0h1m2 0h1m2 0h1m14 0h1m-83 1h1m13 0h1m5 0h1m1 0h1m2 0h1m17 0h1m6 0h1m4 0h1m1 0h1m12 0h1m3 0h1m-114 1h1m2 0h1m14 0h1m1 0h1m8 0h1m12 0h1m5 0h1m2 0h1m2 0h1m2 0h1m1 0h1m7 0h2m5 0h1m3 0h1m2 0h1m6 0h2m6 0h1m11 0h1m10 0h1m-85 1h1m2 0h1m9 0h1m2 0h1m4 0h2m3 0h1m1 0h1m5 0h1m1 0h1m1 0h1m13 0h1m13 0h1m7 0h2m4 0h1m-114 1h1m44 0h2m1 0h1m2 0h1m1 0h2m7 0h2m7 0h2m11 0h1m10 0h1m1 0h2m3 0h1m2 0h2m1 0h1m-85 1h1m8 0h1m4 0h1m2 0h1m1 0h1m2 0h1m1 0h1m3 0h1m6 0h1m1 0h1m4 0h1m3 0h2m8 0h1m1 0h1m7 0h2m3 0h1m1 0h1m2 0h1m6 0h1m-109 1h1m38 0h1m7 0h1m1 0h1m8 0h1m3 0h2m4 0h1m1 0h1m2 0h1m6 0h1m15 0h2m3 0h1m4 0h1m3 0h2m3 0h1m2 0h1m-110 1h1m28 0h1m7 0h2m4 0h1m3 0h3m2 0h1m1 0h2m1 0h1m4 0h1m5 0h1m8 0h2m2 0h1m5 0h1m6 0h1m4 0h1m-92 1h1m6 0h1m5 0h1m3 0h1m7 0h1m1 0h1m2 0h1m2 0h1m4 0h1m1 0h1m3 0h1m1 0h1m5 0h2m2 0h1m2 0h1m1 0h1m1 0h1m5 0h1m1 0h1m5 0h1m13 0h1m-92 1h1m16 0h1m3 0h1m4 0h2m10 0h2m4 0h6m1 0h2m1 0h1m2 0h1m2 0h2m5 0h2m9 0h1m5 0h1m15 0h2m-123 1h1m38 0h1m4 0h1m1 0h1m5 0h1m4 0h4m8 0h2m2 0h1m1 0h1m1 0h1m7 0h1m1 0h1m7 0h1m2 0h2m2 0h2m4 0h1m1 0h1m3 0h1m-69 1h1m8 0h1m1 0h1m2 0h1m6 0h1m1 0h1m2 0h1m2 0h4m2 0h1m8 0h2m2 0h1m4 0h1m1 0h1m1 0h2m4 0h1m3 0h1m5 0h1m6 0h1m-77 1h1m1 0h2m4 0h2m1 0h1m1 0h3m3 0h1m5 0h1m2 0h1m1 0h1m3 0h1m2 0h1m1 0h3m1 0h2m4 0h1m4 0h3m3 0h1m3 0h1m2 0h1m3 0h1m6 0h1m-106 1h1m12 0h1m5 0h2m1 0h1m1 0h2m1 0h1m2 0h1m3 0h1m2 0h3m2 0h5m1 0h2m1 0h2m1 0h1m2 0h1m1 0h1m2 0h2m1 0h1m6 0h1m4 0h2m6 0h1m6 0h3m2 0h1m2 0h1m2 0h1m-107 1h1m12 0h1m9 0h1m3 0h1m1 0h1m1 0h1m3 0h7m2 0h2m1 0h4m1 0h1m7 0h1m14 0h1m1 0h1m11 0h1m2 0h1m9 0h1m1 0h1m2 0h1m-103 1h1m20 0h3m1 0h3m3 0h3m1 0h1m2 0h1m3 0h4m2 0h2m1 0h1m1 0h2m2 0h1m1 0h3m2 0h1m4 0h1m3 0h1m2 0h1m3 0h1m3 0h1m3 0h1m10 0h2m-125 1h1m20 0h1m8 0h1m5 0h1m1 0h1m6 0h1m4 0h1m1 0h1m1 0h1m2 0h2m1 0h2m1 0h1m3 0h1m1 0h1m9 0h1m4 0h2m2 0h1m5 0h2m1 0h2m8 0h1m3 0h1m24 0h1m-140 1h1m17 0h1m13 0h1m4 0h1m4 0h1m2 0h1m1 0h1m3 0h1m5 0h1m12 0h1m1 0h2m1 0h2m1 0h2m3 0h1m4 0h3m13 0h2m6 0h2m4 0h1m3 0h1m5 0h1m-111 1h1m12 0h1m1 0h1m2 0h1m2 0h1m4 0h1m2 0h1m5 0h2m5 0h3m1 0h2m1 0h1m2 0h1m1 0h2m4 0h1m1 0h1m2 0h2m5 0h2m3 0h3m3 0h2m4 0h1m6 0h1m10 0h1m-91 1h2m1 0h1m6 0h3m1 0h2m1 0h3m4 0h1m3 0h1m2 0h4m1 0h2m1 0h2m1 0h1m3 0h1m1 0h1m1 0h2m1 0h2m1 0h1m2 0h1m1 0h1m8 0h2m16 0h2m-109 1h1m7 0h2m2 0h1m7 0h1m1 0h3m3 0h2m8 0h1m1 0h1m1 0h3m2 0h2m1 0h2m2 0h2m1 0h1m1 0h2m5 0h1m5 0h1m1 0h1m3 0h1m1 0h1m2 0h3m1 0h2m2 0h3m2 0h2m3 0h1m13 0h1m-99 1h1m9 0h1m8 0h1m1 0h1m6 0h2m1 0h1m3 0h7m3 0h1m5 0h1m2 0h2m3 0h2m14 0h2m3 0h1m3 0h1m7 0h1m-101 1h1m18 0h1m4 0h2m4 0h2m3 0h1m4 0h4m6 0h2m3 0h1m1 0h2m4 0h1m1 0h2m3 0h1m6 0h1m1 0h1m2 0h2m3 0h1m1 0h1m4 0h1m1 0h1m1 0h1m1 0h2m11 0h1m-123 1h1m6 0h1m7 0h1m2 0h1m7 0h1m2 0h2m1 0h3m4 0h1m2 0h4m1 0h2m4 0h2m2 0h2m8 0h1m1 0h1m2 0h3m1 0h1m1 0h1m5 0h1m1 0h1m3 0h1m2 0h1m3 0h1m16 0h1m-97 1h4m3 0h1m10 0h1m1 0h1m7 0h1m5 0h1m3 0h1m1 0h6m1 0h1m1 0h1m3 0h1m1 0h1m3 0h4m7 0h1m1 0h1m1 0h1m2 0h1m8 0h1m12 0h1m-130 1h1m7 0h1m32 0h1m1 0h1m1 0h1m5 0h2m8 0h2m1 0h2m2 0h2m1 0h1m4 0h1m1 0h1m2 0h2m1 0h1m1 0h1m1 0h3m1 0h1m3 0h1m7 0h1m1 0h2m7 0h1m1 0h1m4 0h2m2 0h1m-96 1h1m4 0h1m5 0h2m2 0h1m2 0h3m1 0h1m2 0h1m2 0h2m3 0h2m1 0h1m6 0h1m1 0h2m2 0h3m1 0h1m1 0h7m1 0h1m2 0h3m4 0h1m7 0h1m2 0h2m-88 1h1m3 0h2m1 0h1m1 0h1m2 0h1m6 0h1m1 0h1m5 0h1m3 0h2m1 0h1m5 0h1m4 0h1m1 0h1m2 0h3m6 0h2m1 0h1m5 0h1m1 0h1m4 0h1m8 0h1m5 0h1m-80 1h1m3 0h2m4 0h1m3 0h1m2 0h1m4 0h2m1 0h1m1 0h1m5 0h3m2 0h1m1 0h1m1 0h7m2 0h1m1 0h2m1 0h3m4 0h3m5 0h1m3 0h2m1 0h1m7 0h1m-116 1h1m20 0h1m4 0h2m7 0h1m1 0h1m7 0h1m12 0h1m1 0h1m1 0h1m2 0h2m2 0h1m2 0h5m1 0h1m1 0h2m1 0h2m3 0h1m1 0h2m10 0h1m1 0h1m5 0h1m8 0h1m-118 1h1m26 0h1m2 0h1m4 0h1m2 0h2m3 0h1m6 0h1m9 0h1m2 0h2m2 0h2m2 0h4m1 0h6m2 0h4m5 0h1m1 0h2m4 0h1m1 0h1m2 0h1m2 0h1m-122 1h1m23 0h1m24 0h1m2 0h1m4 0h1m2 0h2m12 0h2m3 0h1m2 0h3m1 0h1m2 0h1m1 0h5m3 0h1m2 0h1m4 0h2m4 0h2m10 0h1m-130 1h1m33 0h1m10 0h3m13 0h1m1 0h1m5 0h1m4 0h1m1 0h2m1 0h1m2 0h1m2 0h2m1 0h3m1 0h3m1 0h1m1 0h3m1 0h2m1 0h1m1 0h1m6 0h1m6 0h1m-121 1h1m11 0h1m5 0h1m3 0h1m8 0h1m15 0h1m1 0h1m7 0h1m1 0h1m2 0h1m4 0h1m7 0h3m1 0h1m5 0h2m1 0h2m1 0h1m1 0h1m1 0h3m1 0h1m1 0h1m1 0h1m1 0h3m3 0h1m1 0h1m11 0h1m3 0h1m-114 1h1m5 0h1m5 0h1m7 0h1m2 0h2m7 0h1m8 0h1m4 0h2m1 0h2m2 0h1m1 0h1m6 0h5m1 0h1m1 0h1m2 0h2m1 0h1m1 0h5m2 0h1m6 0h2m2 0h2m4 0h1m8 0h1m2 0h1m-102 1h1m1 0h1m7 0h1m4 0h1m24 0h1m2 0h1m2 0h2m1 0h1m4 0h1m3 0h2m1 0h1m1 0h3m1 0h1m4 0h1m3 0h2m3 0h1m2 0h1m7 0h1m2 0h1m-124 1h1m1 0h1m6 0h1m28 0h1m3 0h1m4 0h2m7 0h1m9 0h1m5 0h1m4 0h1m1 0h1m2 0h1m2 0h2m1 0h2m6 0h1m1 0h8m1 0h1m3 0h2m1 0h1m7 0h1m-99 1h1m3 0h1m3 0h2m10 0h2m6 0h1m13 0h2m2 0h1m4 0h4m1 0h2m4 0h1m3 0h1m1 0h1m1 0h1m3 0h2m3 0h1m2 0h1m5 0h1m1 0h1m4 0h1m4 0h1m-92 1h1m6 0h1m11 0h2m9 0h1m9 0h2m2 0h4m3 0h1m1 0h2m3 0h1m2 0h1m1 0h2m1 0h2m1 0h3m3 0h1m2 0h1m9 0h1m-97 1h1m9 0h1m2 0h1m5 0h2m2 0h1m9 0h2m5 0h2m4 0h1m4 0h1m2 0h2m3 0h1m3 0h1m5 0h1m3 0h2m5 0h4m16 0h1m-117 1h1m11 0h1m4 0h1m3 0h1m1 0h1m1 0h2m1 0h1m1 0h2m7 0h1m1 0h1m8 0h1m6 0h1m1 0h1m8 0h1m2 0h1m3 0h6m1 0h4m2 0h1m1 0h2m6 0h2m2 0h1m3 0h1m1 0h1m3 0h1m3 0h1m1 0h1m-111 1h1m10 0h1m8 0h1m5 0h1m2 0h2m6 0h1m4 0h1m3 0h1m16 0h2m1 0h1m1 0h1m1 0h3m2 0h2m1 0h1m1 0h1m1 0h2m9 0h2m2 0h1m1 0h1m12 0h1m-108 1h1m2 0h1m3 0h1m4 0h1m5 0h1m15 0h1m8 0h1m1 0h1m1 0h1m6 0h1m1 0h1m2 0h1m1 0h1m1 0h4m1 0h1m3 0h1m1 0h3m2 0h1m3 0h1m1 0h1m9 0h1m2 0h1m3 0h1m-104 1h1m5 0h1m2 0h1m9 0h1m6 0h2m6 0h1m4 0h2m9 0h1m1 0h2m2 0h2m4 0h2m1 0h4m2 0h2m1 0h2m1 0h1m5 0h2m4 0h1m5 0h2m6 0h1m-106 1h1m1 0h1m5 0h1m2 0h3m6 0h2m6 0h1m5 0h2m1 0h1m6 0h1m4 0h1m1 0h1m2 0h1m2 0h1m8 0h3m1 0h3m2 0h1m1 0h2m1 0h2m2 0h3m1 0h1m-92 1h1m1 0h1m10 0h2m3 0h1m12 0h2m9 0h1m2 0h1m2 0h1m8 0h1m2 0h1m5 0h2m1 0h1m2 0h2m1 0h4m1 0h1m1 0h4m2 0h2m8 0h1m8 0h1m-106 1h2m3 0h2m8 0h1m1 0h1m7 0h1m3 0h2m9 0h1m4 0h1m6 0h1m1 0h1m3 0h2m1 0h2m4 0h2m1 0h1m2 0h3m1 0h1m2 0h1m1 0h1m12 0h1m2 0h1m3 0h1m-122 1h1m10 0h1m2 0h1m9 0h1m1 0h1m3 0h1m1 0h1m3 0h2m3 0h1m5 0h1m18 0h2m9 0h1m2 0h3m1 0h2m1 0h1m2 0h3m1 0h1m2 0h3m1 0h2m7 0h3m3 0h1m3 0h1m4 0h1m-112 1h1m9 0h1m2 0h1m21 0h1m7 0h1m3 0h1m3 0h1m5 0h3m9 0h1m2 0h2m1 0h2m1 0h2m1 0h3m1 0h2m1 0h1m8 0h1m2 0h1m4 0h1m-113 1h1m6 0h1m5 0h1m8 0h1m3 0h1m2 0h2m8 0h1m4 0h1m8 0h1m1 0h1m5 0h2m7 0h2m1 0h4m1 0h5m4 0h1m4 0h1m1 0h1m7 0h3m7 0h2m2 0h1m-112 1h1m4 0h3m2 0h2m1 0h1m3 0h1m1 0h1m2 0h3m21 0h1m3 0h1m9 0h2m1 0h2m2 0h2m4 0h2m1 0h1m2 0h2m1 0h2m1 0h2m1 0h2m3 0h1m1 0h1m2 0h1m2 0h2m3 0h1m-97 1h1m3 0h2m2 0h1m1 0h1m8 0h1m12 0h1m2 0h1m10 0h1m1 0h2m5 0h1m3 0h1m4 0h1m1 0h1m3 0h1m1 0h1m4 0h1m11 0h1m3 0h1m5 0h1m-115 1h1m3 0h1m2 0h1m3 0h1m3 0h1m1 0h1m1 0h3m2 0h1m7 0h1m15 0h1m2 0h1m16 0h1m8 0h1m4 0h1m3 0h1m2 0h2m1 0h1m11 0h1m-114 1h1m8 0h1m7 0h1m1 0h1m2 0h1m8 0h1m2 0h1m1 0h3m8 0h1m12 0h1m1 0h1m12 0h4m9 0h1m3 0h1m2 0h1m5 0h1m1 0h1m1 0h1m1 0h1m3 0h1m2 0h1m9 0h1m-125 1h1m6 0h2m2 0h1m2 0h1m2 0h1m1 0h1m2 0h1m7 0h1m4 0h1m21 0h1m8 0h1m1 0h1m2 0h1m9 0h3m1 0h2m3 0h1m1 0h2m2 0h1m3 0h1m19 0h1m-119 1h1m1 0h1m7 0h3m7 0h1m1 0h1m1 0h1m1 0h1m4 0h1m11 0h1m8 0h1m8 0h1m2 0h2m2 0h1m6 0h1m4 0h1m8 0h2m6 0h2m2 0h1m1 0h1m1 0h1m2 0h1m-96 1h1m3 0h1m4 0h1m10 0h1m1 0h1m13 0h1m2 0h1m3 0h1m9 0h1m3 0h2m2 0h1m4 0h1m15 0h2m6 0h2m1 0h2m3 0h2m2 0h1m-111 1h1m4 0h1m19 0h1m1 0h2m12 0h1m19 0h1m8 0h1m4 0h1m3 0h1m8 0h1m7 0h1m-101 1h2m4 0h1m1 0h1m6 0h1m8 0h1m18 0h1m11 0h1m8 0h1m2 0h1m3 0h1m2 0h1m1 0h3m1 0h1m1 0h2m3 0h1m1 0h3m4 0h1m2 0h1m1 0h1m4 0h1m9 0h1m-104 1h2m2 0h1m3 0h1m4 0h1m3 0h2m1 0h1m41 0h1m5 0h1m5 0h1m1 0h1m2 0h2m1 0h1m9 0h1m1 0h1m-108 1h1m8 0h1m8 0h1m4 0h1m1 0h1m2 0h3m10 0h1m2 0h1m24 0h1m3 0h1m3 0h1m2 0h3m4 0h1m1 0h1m2 0h1m1 0h1m4 0h1m1 0h1m2 0h1m2 0h1m-103 1h1m8 0h4m2 0h1m3 0h1m6 0h2m63 0h5m-96 1h1m4 0h1m1 0h2m3 0h1m4 0h1m4 0h2m2 0h1m6 0h2m38 0h1m2 0h2m11 0h1m-90 1h1m2 0h1m9 0h1m8 0h1m1 0h1m10 0h1m24 0h2m9 0h1m4 0h2m-88 1h1m12 0h1m7 0h1m2 0h2m1 0h1m4 0h2m3 0h2m1 0h1m26 0h1m8 0h2m10 0h1m4 0h1m1 0h1m5 0h1m5 0h1m-104 1h1m5 0h1m3 0h1m3 0h1m3 0h2m4 0h1m4 0h1m1 0h1m3 0h1m2 0h1m46 0h1m-88 1h1m7 0h1m1 0h1m4 0h1m2 0h1m6 0h1m5 0h1m5 0h1m1 0h1m9 0h1m12 0h1m25 0h1m1 0h1m1 0h1m-94 1h1m1 0h1m3 0h2m2 0h2m2 0h2m1 0h1m4 0h1m2 0h1m5 0h1m8 0h1m2 0h1m4 0h1m33 0h1m24 0h1m-101 1h1m5 0h2m3 0h1m3 0h3m2 0h1m2 0h4m1 0h1m1 0h1m6 0h1m3 0h1m-50 1h1m1 0h1m2 0h1m1 0h1m1 0h1m10 0h1m5 0h3m2 0h2m2 0h1m1 0h1m4 0h3m17 0h1m-63 1h2m5 0h1m1 0h1m1 0h1m3 0h1m1 0h1m2 0h1m1 0h1m2 0h1m2 0h1m1 0h2m3 0h1m32 0h1m-69 1h4m2 0h3m1 0h1m6 0h1m1 0h1m2 0h5m1 0h2m3 0h1m48 0h1m13 0h1m-90 1h1m3 0h3m6 0h2m1 0h5m2 0h3m5 0h1m7 0h1m56 0h1m-98 1h1m4 0h2m2 0h1m1 0h4m1 0h3m1 0h1m1 0h3m3 0h1m5 0h1m9 0h1m3 0h1m14 0h1m6 0h1m21 0h1m-96 1h2m1 0h1m2 0h1m1 0h1m2 0h3m1 0h1m1 0h3m1 0h1m1 0h1m3 0h1m1 0h1m3 0h1m6 0h2m37 0h1m-82 1h1m1 0h1m2 0h2m5 0h1m1 0h1m2 0h2m3 0h3m3 0h1m1 0h2m7 0h1m3 0h1m1 0h1m4 0h1m-50 1h1m1 0h1m1 0h2m2 0h1m2 0h2m1 0h2m2 0h1m2 0h1m1 0h2m3 0h2m1 0h1m1 0h1m1 0h1m7 0h1m37 0h1m3 0h1m-86 1h1m6 0h1m1 0h1m2 0h2m4 0h1m1 0h5m1 0h2m2 0h1m2 0h1m11 0h1m13 0h1m13 0h1m-72 1h5m1 0h2m1 0h1m1 0h4m3 0h1m3 0h2m1 0h4m2 0h2m36 0h1m5 0h3m21 0h1m-102 1h12m2 0h1m1 0h1m2 0h3m1 0h4m1 0h1m1 0h1m8 0h1m1 0h1m1 0h1m11 0h1m8 0h1m7 0h1m-73 1h4m2 0h3m3 0h3m1 0h2m1 0h1m1 0h1m2 0h1m1 0h4m1 0h1m1 0h1m1 0h1m1 0h1m3 0h1m11 0h1m-55 1h1m1 0h2m1 0h4m2 0h4m2 0h2m1 0h3m2 0h3m4 0h2m4 0h1m2 0h1m4 0h1m1 0h1m12 0h2m-64 1h1m2 0h1m1 0h1m1 0h2m6 0h2m1 0h2m1 0h6m3 0h3m1 0h4m2 0h1m3 0h1m16 0h1m28 0h1m-88 1h2m2 0h1m1 0h1m1 0h1m1 0h4m1 0h5m1 0h2m2 0h2m1 0h1m1 0h1m5 0h1m3 0h1m-43 1h2m2 0h3m1 0h4m1 0h7m1 0h1m1 0h2m2 0h1m4 0h2m3 0h1m1 0h2m3 0h1m3 0h1m8 0h1m15 0h1m1 0h1m3 0h1m-80 1h5m3 0h3m1 0h3m1 0h5m2 0h2m1 0h2m1 0h2m5 0h1m2 0h2m2 0h1m9 0h1m-53 1h1m2 0h1m3 0h1m1 0h2m1 0h1m1 0h1m2 0h6m2 0h3m2 0h1m1 0h2m-35 1h5m2 0h3m2 0h3m1 0h5m2 0h1m1 0h9m77 0h1m-113 1h1m2 0h1m2 0h8m1 0h9m1 0h3m1 0h2m2 0h2m2 0h1m1 0h1m1 0h3m2 0h1m-45 1h1m1 0h3m2 0h1m1 0h3m1 0h5m1 0h7m1 0h2m5 0h2m1 0h2m1 0h1m1 0h2m33 0h1m-80 1h1m1 0h1m2 0h4m1 0h4m1 0h4m1 0h1m1 0h2m1 0h1m3 0h4m1 0h2m6 0h1m-43 1h1m3 0h9m1 0h3m1 0h7m1 0h1m1 0h1m1 0h3m1 0h2m7 0h1m-43 1h4m1 0h3m1 0h19m2 0h1m3 0h2m2 0h1m3 0h3m-46 1h2m3 0h1m2 0h3m1 0h1m1 0h5m1 0h1m1 0h3m4 0h9m1 0h1m6 0h1m3 0h1m1 0h1m40 0h1m-92 1h2m6 0h1m1 0h1m2 0h1m1 0h1m1 0h1m1 0h2m1 0h2m2 0h2m2 0h1m1 0h1m1 0h3m6 0h1m3 0h1m-49 1h1m2 0h1m3 0h1m2 0h2m2 0h1m1 0h5m1 0h1m4 0h6m1 0h1m4 0h2m2 0h3m3 0h1m-50 1h2m2 0h1m2 0h1m1 0h1m1 0h3m2 0h8m2 0h1m4 0h2m1 0h1m1 0h3m4 0h1m2 0h1m-47 1h1m8 0h1m1 0h1m1 0h3m2 0h2m3 0h2m2 0h1m1 0h1m1 0h3m3 0h2m7 0h1m-46 1h1m1 0h2m1 0h5m1 0h2m1 0h4m2 0h2m1 0h1m3 0h3m2 0h1m2 0h1m-38 1h2m3 0h1m1 0h2m3 0h1m1 0h1m6 0h1m3 0h1m1 0h1m12 0h1m5 0h3m4 0h1m-49 1h1m1 0h1m1 0h2m1 0h1m1 0h1m1 0h2m1 0h2m1 0h1m1 0h8m2 0h1m2 0h2m2 0h1m-37 1h1m3 0h1m1 0h1m1 0h2m1 0h2m4 0h2m1 0h3m6 0h3m11 0h1m-49 1h3m1 0h2m1 0h2m2 0h1m1 0h2m1 0h1m1 0h4m1 0h1m1 0h1m4 0h6m1 0h1m-30 1h4m1 0h3m4 0h1m2 0h1m1 0h1m4 0h1m7 0h1m2 0h1m2 0h1m-44 1h2m2 0h1m2 0h1m3 0h1m2 0h1m4 0h2m3 0h1m1 0h2m1 0h2m1 0h2m2 0h3m2 0h1m9 0h1m-49 1h4m4 0h3m1 0h2m1 0h1m4 0h1m1 0h1m2 0h2m5 0h1m4 0h2m-43 1h2m9 0h2m1 0h2m3 0h1m3 0h1m3 0h1m1 0h2m20 0h1m-48 1h1m4 0h1m2 0h1m7 0h1m9 0h1m19 0h1m-50 1h1m6 0h1m1 0h1m1 0h1m1 0h1m1 0h1m1 0h3m1 0h1m1 0h2m5 0h1m1 0h1m1 0h1m10 0h1m-44 1h1m4 0h1m2 0h1m8 0h1m1 0h2m1 0h1m2 0h1m8 0h1m1 0h1m-39 1h1m7 0h3m1 0h1m1 0h1m1 0h1m1 0h1m3 0h1m1 0h2m4 0h1m13 0h1"/>
<path fill="none" stroke="#000" stroke-opacity="0.56" stroke-width="1" d="M156 286.5h1m-53 3h1m58 0h1m-17 2h1m-48 1h1m21 0h1m27 0h1m16 0h2m-13 1h1m12 0h1m-14 1h1m-14 1h1m16 0h1m5 0h2m3 0h1m2 0h1m-39 1h1m18 0h1m1 0h1m7 0h1m7 0h1m9 0h1m-54 1h1m2 0h1m18 0h1m1 0h4m6 0h1m10 0h1m-44 1h1m7 0h1m16 0h1m10 0h1m6 0h1m18 0h1m-66 1h1m3 0h1m16 0h2m1 0h1m17 0h1m-100 1h1m60 0h1m1 0h1m8 0h1m6 0h1m5 0h1m9 0h1m3 0h1m1 0h1m9 0h1m4 0h1m-99 1h1m12 0h1m10 0h1m7 0h1m11 0h1m3 0h1m1 0h1m1 0h1m1 0h1m5 0h1m4 0h1m4 0h2m2 0h1m5 0h1m1 0h1m4 0h1m7 0h1m-63 1h2m1 0h1m1 0h1m3 0h1m2 0h1m6 0h1m7 0h1m5 0h1m8 0h1m6 0h1m5 0h2m-69 1h1m7 0h1m2 0h1m1 0h1m1 0h1m2 0h2m8 0h1m5 0h2m6 0h2m4 0h1m3 0h1m3 0h2m1 0h2m22 0h1m-115 1h1m16 0h1m22 0h2m5 0h1m7 0h1m2 0h1m11 0h1m1 0h2m4 0h1m12 0h1m2 0h1m2 0h1m13 0h1m-86 1h1m9 0h1m8 0h1m5 0h1m3 0h2m2 0h1m11 0h1m1 0h1m8 0h1m1 0h1m9 0h1m3 0h1m6 0h1m8 0h1m1 0h1m-125 1h1m41 0h1m9 0h2m1 0h1m1 0h3m2 0h1m13 0h1m2 0h1m10 0h1m8 0h1m3 0h1m1 0h1m10 0h1m1 0h1m-121 1h1m46 0h1m3 0h1m5 0h1m2 0h2m1 0h1m1 0h2m3 0h1m1 0h1m6 0h1m1 0h1m1 0h1m14 0h1m1 0h1m12 0h1m12 0h1m-117 1h1m8 0h1m15 0h1m11 0h2m5 0h2m3 0h2m2 0h1m4 0h1m5 0h2m2 0h1m6 0h1m9 0h1m1 0h2m10 0h1m2 0h1m-72 1h1m10 0h1m7 0h7m3 0h1m1 0h1m1 0h1m2 0h1m3 0h1m2 0h1m3 0h2m5 0h1m11 0h1m1 0h1m-88 1h1m12 0h1m8 0h2m3 0h2m4 0h1m4 0h1m1 0h1m2 0h1m2 0h1m1 0h2m1 0h2m1 0h7m1 0h1m9 0h2m5 0h1m7 0h1m6 0h2m2 0h1m-98 1h1m20 0h1m2 0h1m9 0h2m1 0h2m8 0h1m1 0h1m5 0h2m1 0h2m3 0h1m1 0h3m1 0h1m6 0h1m1 0h3m1 0h2m-92 1h1m9 0h1m10 0h1m5 0h1m2 0h1m5 0h3m1 0h1m1 0h1m1 0h1m6 0h1m4 0h1m2 0h1m3 0h2m1 0h1m6 0h1m2 0h2m1 0h1m3 0h1m4 0h1m1 0h1m2 0h1m5 0h2m4 0h1m10 0h1m-131 1h1m14 0h1m5 0h1m15 0h4m6 0h1m1 0h1m1 0h1m7 0h1m4 0h3m2 0h3m1 0h1m1 0h1m2 0h2m6 0h1m10 0h1m3 0h2m8 0h1m1 0h1m2 0h1m1 0h1m4 0h1m-89 1h1m7 0h1m5 0h2m1 0h1m2 0h4m1 0h2m6 0h1m1 0h1m1 0h1m2 0h3m1 0h2m11 0h2m1 0h3m2 0h1m8 0h1m2 0h1m6 0h1m-89 1h1m15 0h2m1 0h2m1 0h2m1 0h3m5 0h1m2 0h5m1 0h2m1 0h1m1 0h3m4 0h4m8 0h1m3 0h2m5 0h1m16 0h1m7 0h1m-112 1h1m14 0h1m1 0h1m1 0h1m1 0h2m5 0h2m10 0h1m5 0h1m5 0h6m3 0h1m3 0h1m1 0h1m1 0h2m12 0h1m-75 1h1m5 0h1m10 0h3m1 0h2m4 0h1m1 0h1m1 0h1m2 0h2m3 0h3m2 0h3m8 0h1m11 0h2m1 0h1m1 0h1m8 0h1m3 0h1m6 0h1m-108 1h1m10 0h1m3 0h1m14 0h1m5 0h1m2 0h1m1 0h1m1 0h2m5 0h1m3 0h2m3 0h4m1 0h4m1 0h1m2 0h1m6 0h1m1 0h1m1 0h4m2 0h1m10 0h1m6 0h1m2 0h1m-101 1h1m1 0h1m12 0h1m2 0h1m1 0h2m1 0h2m2 0h1m2 0h1m3 0h1m3 0h4m1 0h1m5 0h1m3 0h1m1 0h1m1 0h1m8 0h1m13 0h1m1 0h2m8 0h1m12 0h1m-119 1h1m3 0h1m20 0h1m4 0h1m1 0h3m13 0h1m1 0h1m3 0h1m2 0h2m1 0h1m4 0h2m1 0h1m2 0h2m1 0h2m2 0h1m2 0h1m2 0h1m3 0h1m3 0h1m1 0h1m2 0h1m1 0h1m4 0h1m2 0h1m-114 1h1m16 0h1m5 0h1m8 0h1m4 0h3m4 0h2m3 0h1m2 0h1m1 0h1m1 0h1m3 0h2m1 0h2m2 0h1m4 0h1m2 0h1m1 0h1m1 0h1m1 0h1m6 0h1m7 0h4m1 0h1m12 0h1m1 0h1m10 0h1m2 0h1m-105 1h1m11 0h1m3 0h1m1 0h1m2 0h1m1 0h2m2 0h1m4 0h1m3 0h3m1 0h4m4 0h1m5 0h1m1 0h3m2 0h1m3 0h1m3 0h1m3 0h2m1 0h1m3 0h1m1 0h1m5 0h1m3 0h2m5 0h1m-121 1h1m17 0h1m7 0h1m6 0h1m2 0h6m4 0h1m7 0h1m2 0h1m12 0h6m1 0h2m3 0h1m1 0h1m6 0h3m1 0h1m9 0h1m1 0h1m-89 1h1m12 0h1m8 0h2m1 0h3m1 0h1m3 0h2m2 0h1m1 0h1m3 0h1m2 0h1m1 0h2m3 0h1m1 0h1m2 0h3m1 0h1m4 0h1m1 0h2m1 0h3m1 0h2m1 0h1m2 0h2m6 0h1m4 0h1m-121 1h1m17 0h1m3 0h1m4 0h1m2 0h1m10 0h1m1 0h1m2 0h1m2 0h3m3 0h2m1 0h2m2 0h2m1 0h1m2 0h1m3 0h1m1 0h1m3 0h1m9 0h2m1 0h1m1 0h4m1 0h2m5 0h1m2 0h2m8 0h1m1 0h1m1 0h2m-108 1h1m5 0h1m1 0h3m3 0h2m2 0h3m3 0h1m1 0h1m2 0h1m2 0h3m1 0h1m2 0h1m1 0h1m1 0h1m2 0h2m11 0h2m1 0h2m2 0h3m1 0h1m1 0h2m3 0h3m2 0h1m9 0h1m2 0h1m1 0h1m-85 1h2m1 0h1m4 0h1m17 0h1m3 0h3m1 0h1m3 0h3m1 0h2m1 0h1m2 0h1m2 0h2m1 0h2m2 0h1m1 0h1m1 0h1m2 0h1m1 0h3m2 0h1m5 0h1m6 0h1m-84 1h1m3 0h1m1 0h1m1 0h1m4 0h1m3 0h1m1 0h1m1 0h3m2 0h2m1 0h1m1 0h1m2 0h2m4 0h1m2 0h2m2 0h1m2 0h6m1 0h1m1 0h2m2 0h5m1 0h1m1 0h1m4 0h2m-77 1h1m4 0h4m9 0h3m1 0h1m1 0h3m1 0h4m2 0h3m7 0h2m4 0h2m1 0h4m3 0h4m6 0h1m2 0h1m1 0h1m9 0h1m7 0h1m-131 1h1m46 0h1m1 0h1m5 0h1m9 0h1m4 0h1m7 0h2m3 0h1m1 0h6m1 0h1m1 0h1m1 0h1m1 0h1m2 0h2m6 0h1m1 0h1m1 0h1m1 0h1m3 0h1m4 0h1m1 0h1m-103 1h1m6 0h1m8 0h2m3 0h2m6 0h1m2 0h2m1 0h2m2 0h1m4 0h1m1 0h1m4 0h3m4 0h4m1 0h1m2 0h4m4 0h2m1 0h2m1 0h1m2 0h2m1 0h2m5 0h2m-78 1h2m5 0h1m5 0h1m1 0h2m3 0h1m3 0h1m3 0h1m2 0h1m2 0h2m3 0h1m2 0h2m1 0h3m1 0h1m1 0h2m2 0h2m3 0h1m1 0h1m2 0h1m5 0h1m16 0h1m-131 1h1m3 0h1m10 0h1m14 0h1m1 0h1m9 0h1m2 0h1m2 0h1m2 0h2m1 0h1m1 0h1m2 0h1m2 0h1m6 0h1m2 0h2m4 0h2m3 0h2m2 0h2m2 0h1m1 0h3m2 0h6m1 0h1m3 0h1m3 0h3m3 0h1m-90 1h1m4 0h1m3 0h1m5 0h1m5 0h1m2 0h1m7 0h1m7 0h1m1 0h1m3 0h1m4 0h1m1 0h1m6 0h7m2 0h2m1 0h3m1 0h2m8 0h1m5 0h1m6 0h1m-106 1h1m3 0h1m3 0h2m2 0h1m1 0h1m2 0h1m5 0h2m3 0h1m2 0h1m4 0h1m2 0h2m14 0h1m3 0h2m2 0h2m1 0h3m1 0h3m2 0h2m2 0h1m1 0h1m1 0h1m17 0h1m1 0h1m-96 1h1m2 0h1m4 0h3m2 0h1m1 0h1m1 0h1m2 0h2m7 0h2m7 0h1m1 0h1m2 0h1m3 0h1m2 0h2m1 0h5m1 0h2m1 0h2m1 0h2m2 0h4m2 0h1m3 0h1m1 0h1m3 0h1m4 0h2m3 0h1m-96 1h1m11 0h1m13 0h1m5 0h1m1 0h1m8 0h3m1 0h1m2 0h4m1 0h1m2 0h4m1 0h2m1 0h2m3 0h4m1 0h1m1 0h1m6 0h3m1 0h1m1 0h1m2 0h1m2 0h1m-98 1h1m9 0h1m1 0h4m1 0h2m1 0h1m1 0h1m2 0h1m5 0h1m2 0h1m9 0h1m1 0h1m1 0h1m1 0h2m1 0h3m1 0h3m2 0h2m1 0h1m1 0h1m1 0h2m3 0h2m2 0h1m3 0h1m7 0h1m12 0h1m-104 1h1m8 0h1m11 0h1m3 0h1m15 0h1m2 0h2m1 0h2m1 0h1m1 0h5m1 0h2m2 0h3m1 0h1m1 0h1m2 0h3m5 0h1m2 0h2m2 0h1m4 0h1m8 0h1m-111 1h1m6 0h1m3 0h2m8 0h1m1 0h1m7 0h1m1 0h1m3 0h1m2 0h1m6 0h1m1 0h1m8 0h1m3 0h3m1 0h1m1 0h2m2 0h1m9 0h2m1 0h1m2 0h1m1 0h3m5 0h2m-100 1h1m2 0h1m5 0h2m9 0h1m15 0h2m2 0h1m6 0h2m1 0h1m1 0h1m1 0h1m1 0h1m2 0h10m2 0h1m1 0h2m1 0h1m2 0h2m3 0h1m5 0h1m3 0h1m2 0h1m11 0h1m-91 1h2m1 0h1m5 0h1m16 0h1m1 0h1m1 0h3m6 0h1m1 0h2m1 0h3m1 0h1m3 0h4m1 0h2m3 0h2m2 0h1m1 0h1m1 0h3m3 0h1m5 0h2m-118 1h1m21 0h2m2 0h1m4 0h1m11 0h1m2 0h1m13 0h1m4 0h1m3 0h1m1 0h2m3 0h1m3 0h1m1 0h2m1 0h4m2 0h2m8 0h1m1 0h1m5 0h2m12 0h1m-100 1h1m13 0h1m1 0h1m14 0h1m12 0h2m5 0h3m1 0h3m2 0h2m4 0h3m1 0h2m9 0h1m5 0h1m2 0h1m-93 1h1m1 0h1m17 0h1m3 0h1m3 0h1m1 0h1m5 0h1m6 0h1m3 0h1m1 0h1m2 0h1m1 0h1m1 0h2m2 0h1m1 0h3m3 0h1m2 0h2m7 0h1m1 0h1m3 0h1m1 0h2m1 0h1m17 0h1m-121 1h1m1 0h1m11 0h2m11 0h1m4 0h1m9 0h1m4 0h1m1 0h1m5 0h1m1 0h2m1 0h2m1 0h1m2 0h3m2 0h1m2 0h2m1 0h1m1 0h5m4 0h1m1 0h1m2 0h1m4 0h1m2 0h1m2 0h1m-113 1h1m9 0h1m12 0h1m14 0h1m7 0h1m8 0h1m14 0h1m1 0h1m6 0h1m1 0h1m2 0h2m1 0h3m3 0h3m4 0h1m2 0h2m2 0h1m-86 1h1m2 0h1m2 0h1m5 0h1m1 0h1m1 0h2m4 0h1m8 0h2m4 0h1m1 0h3m1 0h2m4 0h1m4 0h1m1 0h2m1 0h1m2 0h3m1 0h1m1 0h2m2 0h1m2 0h1m2 0h2m-104 1h1m22 0h2m9 0h1m4 0h1m6 0h1m11 0h1m8 0h1m6 0h1m1 0h1m5 0h1m1 0h1m2 0h1m5 0h2m2 0h1m1 0h3m6 0h1m3 0h1m-115 1h1m14 0h1m8 0h2m1 0h1m4 0h1m9 0h1m7 0h1m2 0h1m5 0h1m3 0h1m2 0h3m5 0h3m2 0h3m1 0h2m1 0h1m1 0h6m1 0h3m3 0h2m1 0h1m13 0h2m5 0h1m-120 1h1m18 0h1m27 0h1m9 0h2m1 0h1m3 0h1m1 0h1m3 0h1m1 0h3m7 0h1m2 0h5m1 0h1m1 0h2m5 0h1m1 0h2m12 0h1m-109 1h1m7 0h2m2 0h1m3 0h1m3 0h1m3 0h1m19 0h1m1 0h1m10 0h1m8 0h1m2 0h2m5 0h1m3 0h1m2 0h1m2 0h3m3 0h1m5 0h2m-105 1h2m1 0h1m13 0h1m6 0h1m26 0h1m8 0h1m2 0h1m8 0h5m1 0h1m1 0h1m1 0h1m2 0h1m5 0h3m1 0h1m2 0h1m3 0h1m-117 1h1m12 0h1m1 0h2m6 0h1m6 0h1m2 0h1m3 0h1m3 0h1m2 0h1m1 0h1m1 0h1m9 0h1m14 0h1m2 0h1m1 0h1m3 0h4m5 0h1m2 0h2m2 0h1m1 0h2m3 0h1m1 0h1m8 0h1m1 0h1m-93 1h1m3 0h1m1 0h1m1 0h1m3 0h1m15 0h1m14 0h1m4 0h1m4 0h1m4 0h2m5 0h1m1 0h1m2 0h3m1 0h1m28 0h1m-127 1h1m8 0h1m7 0h3m2 0h1m10 0h1m8 0h1m23 0h2m7 0h3m1 0h1m5 0h4m8 0h1m4 0h1m1 0h2m2 0h2m-107 1h1m16 0h1m1 0h2m18 0h1m23 0h2m1 0h1m13 0h1m2 0h4m1 0h3m3 0h2m4 0h1m1 0h2m-105 1h1m8 0h1m13 0h1m6 0h1m11 0h1m18 0h1m6 0h1m1 0h1m2 0h2m3 0h1m1 0h1m1 0h4m1 0h1m2 0h1m1 0h2m1 0h1m1 0h1m-92 1h1m6 0h1m1 0h1m2 0h5m1 0h2m1 0h1m4 0h2m2 0h1m11 0h1m13 0h1m3 0h1m1 0h1m1 0h1m8 0h1m1 0h1m1 0h3m2 0h1m5 0h1m1 0h1m1 0h2m6 0h1m-103 1h1m2 0h1m17 0h2m2 0h1m35 0h1m6 0h1m3 0h1m7 0h2m1 0h1m1 0h1m7 0h1m2 0h1m2 0h1m2 0h2m-109 1h1m2 0h1m5 0h2m2 0h1m5 0h3m1 0h1m1 0h3m11 0h1m26 0h1m3 0h1m1 0h1m9 0h1m3 0h1m2 0h1m2 0h1m2 0h1m2 0h1m7 0h1m9 0h1m-111 1h3m1 0h1m2 0h1m4 0h3m3 0h1m3 0h1m3 0h1m5 0h1m5 0h1m2 0h2m4 0h1m20 0h1m6 0h1m6 0h1m1 0h2m4 0h1m1 0h1m14 0h1m2 0h1m-119 1h1m6 0h1m4 0h1m2 0h1m2 0h1m4 0h1m3 0h1m8 0h1m4 0h1m14 0h1m17 0h1m5 0h1m3 0h1m2 0h2m1 0h1m7 0h1m1 0h1m2 0h1m6 0h1m-109 1h1m10 0h1m2 0h1m3 0h5m4 0h1m1 0h1m7 0h1m3 0h1m11 0h1m8 0h1m1 0h1m14 0h1m1 0h1m7 0h1m24 0h1m-115 1h1m1 0h1m2 0h1m2 0h3m2 0h1m3 0h1m4 0h1m2 0h1m4 0h1m1 0h2m6 0h1m24 0h1m8 0h1m2 0h1m10 0h2m8 0h1m-96 1h1m3 0h1m8 0h1m1 0h1m1 0h1m5 0h1m2 0h2m1 0h1m6 0h1m37 0h1m7 0h1m1 0h1m11 0h2m-105 1h1m6 0h1m1 0h1m4 0h2m2 0h1m1 0h1m2 0h2m5 0h2m3 0h1m4 0h1m7 0h1m3 0h1m27 0h1m4 0h2m8 0h1m5 0h1m-103 1h1m6 0h1m2 0h1m1 0h4m2 0h1m1 0h2m1 0h1m1 0h1m3 0h1m5 0h1m1 0h1m1 0h1m18 0h1m23 0h1m4 0h1m3 0h1m2 0h1m4 0h1m-102 1h1m6 0h3m5 0h1m5 0h1m3 0h1m2 0h1m4 0h1m2 0h1m1 0h1m1 0h1m45 0h1m-82 1h1m3 0h1m3 0h1m4 0h1m3 0h1m1 0h1m6 0h1m6 0h1m41 0h1m39 0h1m-117 1h1m3 0h1m2 0h2m1 0h1m3 0h1m2 0h1m1 0h1m4 0h1m2 0h2m5 0h1m2 0h1m6 0h2m14 0h1m26 0h1m-91 1h1m2 0h1m1 0h1m1 0h1m2 0h2m2 0h2m3 0h1m3 0h1m6 0h1m5 0h2m54 0h1m39 0h1m-131 1h1m5 0h3m8 0h3m1 0h1m9 0h2m4 0h1m-33 1h1m1 0h2m1 0h2m2 0h1m3 0h3m1 0h2m1 0h1m2 0h1m27 0h1m33 0h1m2 0h1m-92 1h1m3 0h2m4 0h3m2 0h1m2 0h1m2 0h1m3 0h1m1 0h1m39 0h1m6 0h1m50 0h1m-131 1h1m1 0h1m6 0h2m1 0h3m1 0h2m2 0h2m2 0h4m2 0h3m8 0h1m4 0h1m5 0h1m9 0h1m18 0h1m-80 1h1m2 0h1m2 0h1m3 0h4m1 0h6m1 0h3m1 0h2m1 0h1m1 0h1m4 0h1m7 0h1m25 0h1m20 0h1m3 0h1m-98 1h1m3 0h1m1 0h3m3 0h1m1 0h5m2 0h3m3 0h2m7 0h1m1 0h1m7 0h1m47 0h1m-93 1h1m5 0h1m1 0h4m2 0h3m1 0h1m2 0h2m3 0h1m1 0h1m4 0h2m3 0h1m27 0h1m5 0h1m37 0h1m-109 1h2m2 0h2m2 0h1m1 0h2m1 0h2m1 0h1m4 0h1m1 0h4m1 0h2m2 0h1m2 0h1m6 0h1m-47 1h2m1 0h1m1 0h1m1 0h2m1 0h4m1 0h2m1 0h6m1 0h1m1 0h1m2 0h1m2 0h1m3 0h1m46 0h1m13 0h1m-95 1h1m1 0h1m1 0h1m3 0h1m4 0h1m2 0h1m1 0h4m2 0h3m1 0h1m2 0h1m2 0h2m1 0h1m1 0h1m-44 1h2m1 0h2m1 0h1m3 0h1m1 0h2m3 0h1m1 0h4m3 0h2m1 0h1m3 0h1m1 0h1m2 0h1m12 0h1m4 0h1m-55 1h1m2 0h1m1 0h2m3 0h6m1 0h3m4 0h1m2 0h2m2 0h1m5 0h2m1 0h1m15 0h1m11 0h1m-68 1h10m1 0h2m1 0h1m1 0h4m1 0h5m3 0h1m5 0h1m2 0h1m1 0h1m18 0h1m-63 1h2m1 0h3m1 0h5m2 0h12m2 0h6m1 0h1m3 0h1m2 0h1m2 0h2m9 0h1m23 0h2m12 0h1m8 0h1m-103 1h1m2 0h1m1 0h8m1 0h3m1 0h1m1 0h4m1 0h2m1 0h2m1 0h3m1 0h1m1 0h1m4 0h1m9 0h1m34 0h1m-89 1h2m2 0h5m1 0h1m1 0h7m1 0h7m3 0h2m5 0h1m3 0h1m18 0h1m-61 1h1m1 0h2m1 0h5m1 0h1m1 0h9m2 0h2m1 0h4m1 0h2m3 0h1m1 0h1m6 0h1m3 0h2m1 0h1m-52 1h2m1 0h1m1 0h2m2 0h7m1 0h2m1 0h2m3 0h1m3 0h1m2 0h1m7 0h1m-43 1h3m1 0h2m2 0h6m1 0h3m2 0h1m1 0h1m4 0h2m1 0h1m2 0h1m1 0h2m2 0h1m1 0h2m1 0h2m34 0h1m-81 1h1m1 0h2m2 0h1m2 0h8m1 0h7m1 0h2m1 0h2m6 0h2m-39 1h2m2 0h4m1 0h3m2 0h1m1 0h1m1 0h4m1 0h3m3 0h1m6 0h3m1 0h1m1 0h3m11 0h1m-56 1h3m1 0h3m1 0h2m1 0h15m2 0h1m1 0h2m1 0h2m3 0h1m1 0h1m-40 1h1m3 0h2m2 0h9m1 0h2m1 0h1m1 0h4m1 0h1m2 0h1m1 0h2m1 0h1m-36 1h2m2 0h1m1 0h1m1 0h1m1 0h1m1 0h3m1 0h5m3 0h1m1 0h4m1 0h3m2 0h1m-40 1h1m1 0h2m1 0h3m3 0h2m2 0h4m1 0h1m2 0h2m2 0h1m2 0h2m3 0h2m2 0h1m1 0h2m-41 1h4m1 0h4m2 0h5m1 0h1m1 0h1m1 0h1m1 0h2m2 0h2m1 0h4m2 0h1m3 0h1m1 0h2m-46 1h2m2 0h1m1 0h3m1 0h2m1 0h5m1 0h3m1 0h5m1 0h2m1 0h2m3 0h1m4 0h1m-41 1h1m1 0h10m2 0h8m2 0h1m1 0h7m8 0h1m1 0h1m5 0h1m-52 1h1m3 0h2m3 0h4m1 0h2m2 0h6m1 0h3m3 0h1m1 0h1m2 0h2m-36 1h3m4 0h1m4 0h4m1 0h6m1 0h2m1 0h5m5 0h1m-37 1h1m2 0h1m5 0h2m1 0h1m1 0h1m1 0h3m1 0h3m1 0h1m3 0h2m1 0h1m3 0h1m4 0h1m1 0h1m-45 1h1m1 0h2m2 0h2m1 0h1m2 0h3m3 0h1m2 0h1m1 0h6m5 0h1m5 0h1m1 0h1m5 0h1m-49 1h2m1 0h1m1 0h7m2 0h1m2 0h1m1 0h2m3 0h1m1 0h2m1 0h2m1 0h1m6 0h2m-38 1h1m1 0h2m1 0h1m1 0h3m2 0h1m1 0h1m1 0h1m2 0h3m1 0h2m1 0h2m1 0h1m1 0h3m8 0h1m-47 1h1m1 0h1m6 0h2m4 0h1m2 0h2m2 0h3m1 0h2m2 0h2m8 0h1m-41 1h1m3 0h2m1 0h2m1 0h1m3 0h1m1 0h3m1 0h1m6 0h1m6 0h1m2 0h1m6 0h1m-45 1h1m8 0h1m3 0h5m2 0h1m4 0h4m1 0h2m3 0h1m6 0h1m4 0h1m-45 1h1m5 0h2m1 0h1m1 0h1m1 0h1m1 0h1m1 0h2m3 0h1m1 0h1m9 0h1m5 0h1m-42 1h1m2 0h1m2 0h1m2 0h1m10 0h1m1 0h1m1 0h1m22 0h1m-44 1h2m18 0h2m1 0h1m22 0h2m-53 1h1m15 0h1m4 0h2m5 0h1m1 0h1m5 0h1"/>
<path fill="none" stroke="#000" stroke-opacity="0.55" stroke-width="1" d="M429 285.5h1m-40 1h1m67 3h1m-25 1h1m-51 1h1m21 0h1m25 0h1m-68 1h1m47 0h2m24 0h1m-27 1h1m6 0h1m-36 1h1m9 0h1m7 0h1m20 0h1m1 0h1m3 0h1m-64 1h1m53 0h1m2 0h1m5 0h2m11 0h1m-34 1h1m-50 1h1m29 0h1m16 0h1m8 0h1m2 0h1m9 0h1m6 0h1m-46 1h1m24 0h1m5 0h1m2 0h1m1 0h1m4 0h1m2 0h1m9 0h1m-82 1h1m39 0h2m20 0h1m9 0h1m-48 1h1m2 0h1m5 0h1m2 0h1m7 0h1m7 0h1m5 0h1m2 0h1m11 0h1m7 0h1m3 0h1m9 0h1m7 0h1m-80 1h1m19 0h1m1 0h1m3 0h1m12 0h1m9 0h1m7 0h1m2 0h1m4 0h1m11 0h1m2 0h1m2 0h1m-98 1h1m5 0h1m12 0h1m1 0h1m6 0h1m7 0h1m3 0h3m1 0h2m2 0h1m3 0h1m3 0h1m9 0h1m4 0h1m2 0h1m3 0h1m1 0h1m1 0h1m-99 1h1m3 0h1m3 0h1m17 0h1m5 0h1m1 0h1m12 0h2m17 0h3m1 0h2m23 0h1m1 0h1m9 0h1m13 0h1m-104 1h1m1 0h1m13 0h1m5 0h2m3 0h2m1 0h1m2 0h2m4 0h1m2 0h1m1 0h1m4 0h2m4 0h2m1 0h1m5 0h1m1 0h1m11 0h1m2 0h1m1 0h2m-100 1h1m1 0h1m6 0h1m1 0h1m7 0h1m22 0h1m3 0h1m3 0h2m1 0h1m4 0h3m2 0h2m2 0h1m1 0h1m1 0h1m3 0h1m1 0h1m13 0h3m5 0h1m-87 1h1m18 0h1m6 0h1m1 0h1m1 0h2m2 0h1m2 0h1m2 0h2m1 0h2m4 0h1m1 0h1m4 0h2m1 0h1m1 0h1m11 0h2m20 0h1m1 0h1m-111 1h1m11 0h1m7 0h2m6 0h1m4 0h1m3 0h1m11 0h1m6 0h1m1 0h2m1 0h1m4 0h1m1 0h1m5 0h2m1 0h1m2 0h1m5 0h1m5 0h1m5 0h2m8 0h1m1 0h2m5 0h1m2 0h1m1 0h1m-113 1h2m9 0h1m13 0h1m3 0h1m1 0h1m2 0h1m9 0h1m2 0h2m1 0h1m2 0h1m1 0h1m2 0h5m3 0h1m2 0h1m3 0h2m4 0h1m2 0h1m6 0h1m10 0h1m1 0h1m1 0h2m4 0h1m-127 1h1m28 0h1m13 0h2m3 0h1m1 0h4m2 0h1m1 0h2m4 0h3m3 0h1m2 0h1m1 0h1m1 0h1m1 0h2m5 0h2m4 0h1m6 0h2m7 0h1m6 0h1m1 0h1m1 0h2m-110 1h1m19 0h1m5 0h1m3 0h1m3 0h2m2 0h5m6 0h1m3 0h2m5 0h1m1 0h1m1 0h2m2 0h2m2 0h1m1 0h3m2 0h2m1 0h1m2 0h1m1 0h1m9 0h1m7 0h1m3 0h2m2 0h1m1 0h1m-120 1h1m6 0h2m14 0h1m2 0h1m2 0h1m3 0h1m3 0h2m4 0h2m1 0h1m2 0h2m1 0h1m1 0h1m2 0h4m1 0h3m1 0h2m1 0h1m2 0h1m1 0h4m1 0h1m1 0h5m1 0h3m1 0h2m2 0h1m5 0h1m3 0h1m1 0h4m1 0h1m3 0h1m3 0h1m-131 1h1m11 0h1m9 0h1m14 0h1m1 0h1m3 0h2m3 0h2m1 0h2m4 0h2m1 0h1m1 0h2m2 0h1m1 0h1m3 0h2m2 0h3m4 0h1m1 0h1m1 0h1m2 0h1m1 0h2m5 0h1m7 0h1m1 0h1m2 0h1m6 0h2m3 0h1m2 0h1m1 0h1m-106 1h1m10 0h1m4 0h1m3 0h1m4 0h1m3 0h1m1 0h2m2 0h1m3 0h2m1 0h2m1 0h4m4 0h1m1 0h1m2 0h3m3 0h1m1 0h3m1 0h6m1 0h1m1 0h1m1 0h1m1 0h1m2 0h1m5 0h1m1 0h5m1 0h3m2 0h1m-115 1h1m6 0h1m10 0h1m3 0h1m1 0h1m2 0h2m1 0h1m5 0h2m2 0h4m2 0h2m2 0h4m1 0h3m4 0h4m1 0h6m7 0h1m2 0h1m1 0h2m3 0h2m5 0h1m1 0h1m2 0h3m4 0h2m5 0h1m4 0h1m-134 1h1m2 0h1m6 0h1m2 0h1m4 0h1m25 0h1m4 0h1m2 0h2m3 0h1m1 0h2m3 0h1m1 0h1m5 0h1m1 0h8m4 0h2m2 0h2m2 0h1m1 0h1m2 0h1m5 0h1m1 0h3m2 0h1m1 0h2m1 0h3m1 0h2m1 0h1m1 0h1m1 0h2m-137 1h1m9 0h1m13 0h1m1 0h1m4 0h1m1 0h1m3 0h2m3 0h1m3 0h1m4 0h1m3 0h1m4 0h4m1 0h1m1 0h1m1 0h1m1 0h2m1 0h5m1 0h3m1 0h2m1 0h1m3 0h3m2 0h2m5 0h1m1 0h1m5 0h1m1 0h1m1 0h1m3 0h1m1 0h1m1 0h2m1 0h5m3 0h1m-122 1h1m4 0h1m11 0h1m13 0h1m6 0h3m1 0h1m1 0h6m2 0h1m4 0h1m1 0h3m1 0h5m1 0h2m3 0h5m2 0h2m2 0h1m1 0h1m1 0h2m6 0h1m2 0h1m4 0h3m1 0h7m1 0h1m1 0h1m-122 1h1m3 0h1m4 0h1m3 0h1m1 0h1m9 0h1m1 0h1m2 0h1m9 0h1m1 0h1m3 0h1m1 0h1m1 0h1m1 0h5m1 0h6m1 0h2m1 0h3m1 0h5m3 0h1m1 0h1m1 0h1m3 0h2m5 0h1m5 0h1m1 0h5m3 0h9m1 0h1m1 0h1m3 0h1m1 0h1m-140 1h1m7 0h1m4 0h1m6 0h1m3 0h2m4 0h1m4 0h1m8 0h1m6 0h1m2 0h2m3 0h2m3 0h3m1 0h2m1 0h7m1 0h2m1 0h3m7 0h1m3 0h1m2 0h1m2 0h1m3 0h1m3 0h1m1 0h1m1 0h1m1 0h1m1 0h7m1 0h2m1 0h4m-115 1h1m2 0h1m1 0h1m5 0h2m3 0h2m5 0h1m9 0h1m2 0h2m3 0h3m1 0h8m3 0h1m1 0h2m1 0h1m1 0h1m1 0h2m2 0h2m1 0h2m5 0h1m3 0h1m7 0h5m4 0h2m1 0h10m2 0h1m1 0h1m4 0h1m-126 1h1m2 0h1m1 0h2m10 0h2m2 0h1m8 0h1m1 0h2m1 0h2m1 0h1m1 0h1m1 0h6m1 0h1m3 0h4m2 0h3m1 0h3m1 0h1m2 0h1m1 0h2m2 0h2m5 0h1m1 0h1m2 0h1m2 0h1m4 0h1m1 0h1m2 0h2m1 0h1m1 0h8m2 0h3m-113 1h3m7 0h1m5 0h3m1 0h1m5 0h1m12 0h2m4 0h2m1 0h9m4 0h2m1 0h1m1 0h1m3 0h2m1 0h4m1 0h1m8 0h1m8 0h3m2 0h6m1 0h1m2 0h1m1 0h2m1 0h1m-133 1h1m12 0h1m1 0h1m3 0h1m1 0h3m3 0h1m2 0h1m1 0h1m3 0h1m4 0h1m3 0h1m1 0h2m2 0h2m1 0h2m2 0h1m1 0h1m3 0h2m2 0h3m1 0h2m1 0h2m2 0h2m1 0h2m2 0h2m1 0h1m1 0h1m1 0h1m1 0h1m1 0h4m3 0h1m1 0h2m7 0h9m1 0h1m3 0h1m-134 1h1m4 0h1m6 0h2m19 0h2m4 0h1m2 0h1m4 0h1m1 0h1m2 0h1m1 0h2m2 0h1m2 0h7m2 0h3m3 0h1m2 0h1m2 0h3m2 0h1m2 0h1m3 0h2m1 0h1m1 0h4m6 0h1m2 0h2m1 0h5m1 0h7m2 0h2m-137 1h1m4 0h1m6 0h1m1 0h1m4 0h2m5 0h1m5 0h1m12 0h1m3 0h1m5 0h1m4 0h2m2 0h3m6 0h3m3 0h1m2 0h1m2 0h1m3 0h2m1 0h1m1 0h2m1 0h6m1 0h1m3 0h2m3 0h1m1 0h1m4 0h1m2 0h1m2 0h3m1 0h3m2 0h1m2 0h1m-135 1h1m12 0h1m9 0h1m3 0h2m3 0h3m18 0h1m1 0h1m1 0h1m1 0h1m3 0h2m2 0h2m2 0h2m2 0h2m1 0h1m1 0h1m2 0h3m2 0h1m3 0h1m3 0h2m2 0h1m1 0h1m1 0h1m1 0h2m2 0h1m4 0h1m1 0h1m3 0h1m2 0h7m3 0h1m1 0h1m4 0h1m-136 1h1m7 0h1m9 0h1m5 0h1m2 0h1m2 0h1m3 0h4m6 0h1m1 0h2m2 0h1m5 0h2m3 0h1m1 0h2m1 0h2m3 0h3m1 0h1m1 0h1m1 0h4m1 0h2m2 0h1m1 0h1m4 0h1m3 0h1m9 0h2m4 0h3m1 0h6m2 0h1m-106 1h1m11 0h2m4 0h1m2 0h2m4 0h1m2 0h1m1 0h2m1 0h3m3 0h1m2 0h2m2 0h1m1 0h1m1 0h4m8 0h2m5 0h1m1 0h1m11 0h1m2 0h1m2 0h1m5 0h1m1 0h3m-124 1h1m7 0h2m7 0h3m5 0h1m3 0h1m2 0h1m4 0h1m3 0h1m1 0h1m5 0h3m1 0h1m1 0h1m2 0h1m3 0h1m1 0h1m1 0h2m2 0h3m1 0h1m3 0h1m1 0h2m3 0h1m1 0h1m9 0h1m1 0h1m6 0h1m1 0h1m6 0h2m1 0h2m1 0h1m4 0h1m-126 1h1m30 0h1m13 0h1m1 0h2m4 0h1m2 0h3m1 0h1m3 0h1m2 0h1m7 0h1m1 0h1m1 0h2m3 0h1m5 0h1m8 0h2m7 0h1m4 0h1m2 0h1m3 0h1m-109 1h1m3 0h1m2 0h1m1 0h2m1 0h1m24 0h2m1 0h2m2 0h1m1 0h1m1 0h4m2 0h5m1 0h1m2 0h1m7 0h1m3 0h1m3 0h1m2 0h1m5 0h2m8 0h1m2 0h1m1 0h1m4 0h1m1 0h2m-115 1h3m8 0h1m3 0h1m1 0h1m2 0h1m2 0h1m10 0h1m6 0h2m1 0h1m5 0h3m1 0h2m1 0h1m1 0h1m2 0h1m2 0h1m3 0h1m3 0h1m1 0h3m5 0h1m1 0h2m12 0h1m9 0h1m10 0h1m-126 1h1m3 0h1m4 0h1m5 0h1m4 0h1m3 0h1m15 0h1m1 0h1m3 0h1m2 0h1m4 0h1m5 0h3m1 0h2m1 0h1m3 0h1m1 0h2m2 0h2m3 0h1m5 0h1m8 0h1m10 0h1m2 0h1m3 0h1m3 0h1m-98 1h1m2 0h1m5 0h1m1 0h1m1 0h1m4 0h1m9 0h1m2 0h1m1 0h1m1 0h1m2 0h1m14 0h1m1 0h1m2 0h2m3 0h1m7 0h1m16 0h1m2 0h1m-126 1h1m25 0h1m9 0h1m2 0h1m11 0h1m5 0h3m2 0h4m5 0h4m6 0h4m5 0h1m2 0h1m2 0h1m10 0h1m11 0h1m3 0h1m-101 1h1m3 0h2m9 0h1m1 0h1m2 0h1m3 0h1m9 0h1m1 0h1m4 0h2m4 0h1m6 0h1m3 0h4m1 0h1m2 0h1m4 0h5m7 0h1m-67 1h1m7 0h1m4 0h1m2 0h1m1 0h1m10 0h4m2 0h3m2 0h2m2 0h1m13 0h1m1 0h1m-87 1h1m20 0h1m5 0h1m4 0h1m2 0h1m3 0h1m2 0h1m1 0h1m5 0h1m1 0h2m1 0h2m2 0h1m2 0h1m1 0h2m7 0h1m7 0h1m8 0h1m10 0h1m-89 1h1m4 0h1m1 0h1m5 0h2m8 0h1m2 0h1m4 0h2m2 0h1m8 0h2m1 0h1m3 0h1m1 0h2m9 0h1m1 0h1m8 0h1m-96 1h1m19 0h1m1 0h1m5 0h1m7 0h4m1 0h1m4 0h2m6 0h2m1 0h2m2 0h1m1 0h1m2 0h1m5 0h2m3 0h1m5 0h1m2 0h1m6 0h1m7 0h1m-100 1h1m17 0h1m11 0h1m2 0h1m11 0h1m3 0h1m7 0h1m1 0h3m1 0h1m2 0h1m3 0h1m2 0h1m8 0h1m-81 1h1m7 0h1m2 0h1m28 0h1m4 0h5m1 0h1m3 0h2m1 0h1m1 0h1m5 0h1m5 0h1m45 0h1m-127 1h1m14 0h1m13 0h1m3 0h2m7 0h1m1 0h1m1 0h1m2 0h1m4 0h1m3 0h2m3 0h1m1 0h1m2 0h1m2 0h2m3 0h1m2 0h1m6 0h1m1 0h1m4 0h1m7 0h1m2 0h1m3 0h1m-99 1h1m10 0h1m14 0h1m8 0h1m2 0h1m1 0h1m4 0h2m8 0h1m2 0h1m2 0h2m1 0h1m1 0h1m2 0h1m1 0h1m2 0h1m-74 1h1m1 0h1m6 0h1m7 0h1m11 0h4m2 0h1m3 0h1m2 0h2m2 0h1m5 0h1m1 0h1m2 0h2m26 0h1m-89 1h1m20 0h1m3 0h1m2 0h1m4 0h1m1 0h1m6 0h1m1 0h1m1 0h1m2 0h1m1 0h1m1 0h1m2 0h3m1 0h1m11 0h1m2 0h1m-68 1h1m2 0h1m7 0h1m2 0h1m3 0h1m6 0h1m5 0h1m1 0h1m2 0h1m2 0h1m1 0h2m3 0h2m4 0h1m5 0h1m5 0h1m-59 1h1m5 0h1m10 0h1m8 0h1m1 0h2m3 0h2m5 0h1m1 0h2m9 0h1m-55 1h1m16 0h2m5 0h1m5 0h1m1 0h1m1 0h2m1 0h2m1 0h2m1 0h1m1 0h1m6 0h1m13 0h1m-92 1h1m44 0h1m3 0h1m1 0h1m1 0h1m3 0h1m2 0h1m1 0h1m3 0h3m10 0h1m38 0h1m-81 1h1m5 0h1m3 0h1m2 0h1m1 0h1m7 0h1m4 0h2m10 0h1m10 0h1m-68 1h1m14 0h2m5 0h1m3 0h1m3 0h2m2 0h1m1 0h1m1 0h2m1 0h3m2 0h1m1 0h1m17 0h1m10 0h1m10 0h1m-88 1h1m19 0h1m4 0h1m4 0h2m5 0h2m3 0h1m5 0h1m7 0h1m8 0h1m-55 1h2m2 0h1m1 0h1m3 0h1m3 0h3m2 0h1m1 0h2m1 0h3m3 0h1m2 0h1m4 0h3m13 0h1m9 0h1m-91 1h1m19 0h1m1 0h1m9 0h2m4 0h1m1 0h1m2 0h3m3 0h1m1 0h1m2 0h1m3 0h2m4 0h1m9 0h1m2 0h1m-75 1h1m20 0h1m12 0h2m1 0h2m1 0h1m1 0h1m1 0h1m5 0h1m1 0h1m2 0h1m2 0h1m15 0h1m-79 1h1m7 0h1m5 0h1m5 0h1m6 0h1m4 0h1m8 0h2m1 0h1m2 0h1m2 0h1m3 0h1m27 0h1m-63 1h1m3 0h1m7 0h3m3 0h3m1 0h1m2 0h1m2 0h1m1 0h1m1 0h1m1 0h1m3 0h2m2 0h1m7 0h1m-65 1h1m13 0h1m2 0h1m10 0h1m2 0h1m3 0h1m4 0h1m3 0h1m1 0h1m25 0h1m-70 1h1m9 0h1m5 0h3m2 0h2m2 0h2m1 0h1m3 0h1m1 0h1m2 0h1m4 0h1m1 0h1m1 0h1m1 0h2m12 0h1m-75 1h1m14 0h1m2 0h1m9 0h1m4 0h1m1 0h3m3 0h1m2 0h1m1 0h1m3 0h3m1 0h2m6 0h1m-65 1h1m12 0h1m17 0h1m13 0h1m4 0h1m3 0h1m5 0h1m3 0h1m-58 1h1m9 0h2m1 0h1m2 0h1m1 0h1m3 0h1m9 0h1m2 0h2m1 0h2m2 0h2m2 0h1m2 0h1m-61 1h1m3 0h1m5 0h1m10 0h1m6 0h1m4 0h1m2 0h1m2 0h1m3 0h1m2 0h1m1 0h1m5 0h3m6 0h1m1 0h1m-53 1h1m12 0h1m1 0h1m1 0h1m1 0h1m1 0h2m1 0h2m3 0h1m2 0h2m4 0h2m3 0h1m11 0h1m-54 1h4m1 0h1m1 0h1m1 0h1m2 0h1m6 0h1m3 0h1m2 0h1m5 0h1m10 0h1m-51 1h1m3 0h1m1 0h2m1 0h1m2 0h1m3 0h1m7 0h1m1 0h3m3 0h2m3 0h1m1 0h1m2 0h1m8 0h2m18 0h1m-68 1h1m5 0h1m6 0h1m2 0h2m7 0h1m4 0h1m1 0h2m1 0h2m4 0h1m1 0h1m8 0h1m-65 1h1m17 0h1m1 0h1m5 0h1m4 0h1m1 0h1m3 0h1m1 0h2m2 0h1m2 0h1m6 0h2m1 0h2m-45 1h1m3 0h1m9 0h1m2 0h1m1 0h5m1 0h3m1 0h1m1 0h1m2 0h3m3 0h1m1 0h1m2 0h1m4 0h1m14 0h1m-71 1h1m1 0h1m1 0h1m10 0h2m3 0h1m1 0h1m1 0h1m2 0h1m1 0h5m3 0h2m8 0h1m1 0h1m5 0h1m3 0h1m-63 1h2m2 0h3m1 0h1m2 0h1m5 0h1m1 0h4m1 0h1m3 0h1m3 0h2m1 0h1m2 0h1m1 0h2m10 0h1m2 0h1m-59 1h2m1 0h1m10 0h1m1 0h3m1 0h1m3 0h1m3 0h1m1 0h2m1 0h1m1 0h1m1 0h5m1 0h1m2 0h1m9 0h1m-56 1h2m1 0h1m1 0h2m3 0h1m2 0h4m5 0h1m1 0h2m1 0h4m1 0h2m2 0h1m3 0h1m1 0h2m1 0h1m3 0h1m22 0h1m6 0h1m-77 1h1m3 0h5m2 0h1m1 0h1m2 0h1m6 0h2m6 0h1m11 0h1m3 0h1m1 0h1m-56 1h2m5 0h1m1 0h3m4 0h2m2 0h1m1 0h1m1 0h1m1 0h1m1 0h2m1 0h4m4 0h1m3 0h1m1 0h1m2 0h1m-48 1h1m5 0h1m1 0h1m1 0h2m1 0h3m1 0h3m3 0h3m1 0h6m2 0h5m2 0h1m3 0h1m9 0h1m-53 1h1m1 0h1m3 0h2m3 0h3m3 0h1m1 0h1m2 0h3m3 0h1m5 0h1m4 0h1m10 0h1m-56 1h1m3 0h4m1 0h3m1 0h2m1 0h2m1 0h3m1 0h4m3 0h2m1 0h1m2 0h1m2 0h3m4 0h1m-46 1h2m1 0h2m1 0h2m1 0h1m1 0h1m1 0h2m1 0h1m1 0h1m3 0h3m1 0h2m1 0h1m2 0h2m1 0h1m2 0h1m2 0h1m4 0h1m4 0h1m-45 1h1m1 0h2m1 0h2m1 0h5m1 0h1m1 0h1m1 0h1m3 0h2m1 0h1m1 0h1m2 0h1m3 0h1m6 0h1m2 0h1m31 0h1m-85 1h1m1 0h3m3 0h3m3 0h1m1 0h3m5 0h2m5 0h2m1 0h3m5 0h3m8 0h1m8 0h1m2 0h1m-65 1h1m1 0h1m1 0h1m1 0h1m2 0h3m1 0h2m1 0h1m1 0h1m2 0h3m1 0h3m1 0h1m2 0h1m1 0h1m6 0h2m4 0h1m-49 1h2m3 0h2m2 0h3m2 0h1m3 0h2m5 0h2m1 0h2m1 0h1m1 0h1m1 0h2m5 0h1m5 0h1m5 0h1m4 0h1m-60 1h2m2 0h6m3 0h1m1 0h5m1 0h1m1 0h3m1 0h1m3 0h1m4 0h1m4 0h1m1 0h1m27 0h1m-72 1h1m4 0h3m1 0h5m1 0h10m3 0h4m1 0h3m2 0h1m1 0h1m4 0h1m17 0h1m29 0h1m-94 1h1m2 0h2m2 0h4m1 0h2m2 0h5m1 0h2m1 0h3m3 0h3m1 0h2m16 0h2m-55 1h2m2 0h1m1 0h1m2 0h3m1 0h2m1 0h2m2 0h3m1 0h1m1 0h3m1 0h3m7 0h2m2 0h2m1 0h1m5 0h1m23 0h1m-72 1h6m1 0h1m1 0h11m1 0h1m1 0h4m1 0h1m3 0h1m1 0h2m-40 1h1m1 0h2m2 0h1m1 0h9m1 0h4m2 0h7m3 0h1m2 0h1m3 0h1m2 0h1m18 0h1m-66 1h3m1 0h2m1 0h2m1 0h1m1 0h1m1 0h5m1 0h4m1 0h3m1 0h3m1 0h1m1 0h1m1 0h1m2 0h1m18 0h1m-60 1h1m3 0h1m4 0h14m1 0h4m7 0h1m6 0h1m2 0h1m4 0h1m-50 1h1m3 0h1m2 0h1m1 0h1m1 0h8m1 0h4m3 0h4m2 0h2m1 0h1m2 0h2m1 0h1m-43 1h3m1 0h1m1 0h15m2 0h1m1 0h3m3 0h4m3 0h1m2 0h1m-43 1h1m1 0h5m1 0h2m1 0h1m2 0h11m6 0h1m1 0h1m1 0h1m6 0h1m5 0h1m3 0h1m-53 1h1m2 0h1m1 0h6m2 0h4m3 0h2m1 0h1m2 0h1m1 0h1m3 0h2m1 0h1m3 0h1m-39 1h1m2 0h2m1 0h8m1 0h8m2 0h2m1 0h1m1 0h2m4 0h1m-35 1h3m2 0h2m1 0h9m3 0h5m1 0h2m2 0h1m2 0h1m1 0h1m2 0h1m-42 1h6m1 0h2m1 0h1m1 0h6m1 0h3m1 0h4m2 0h1m1 0h1m1 0h2m8 0h1m4 0h1m-49 1h1m1 0h3m1 0h2m3 0h3m1 0h2m1 0h3m1 0h1m1 0h2m1 0h1m1 0h1m2 0h1m3 0h1m1 0h1m-36 1h2m1 0h8m1 0h3m1 0h3m1 0h2m1 0h1m4 0h1m3 0h3m2 0h1m1 0h1m1 0h1m-45 1h2m4 0h3m1 0h2m2 0h5m2 0h1m3 0h1m1 0h1m7 0h1m3 0h1m3 0h1m-44 1h1m3 0h1m2 0h1m1 0h1m1 0h2m5 0h1m3 0h1m1 0h1m8 0h1m1 0h1m-33 1h2m2 0h3m2 0h2m1 0h7m1 0h1m1 0h1m2 0h2m2 0h2m2 0h1m13 0h1m-51 1h1m2 0h2m3 0h2m2 0h3m1 0h1m3 0h1m1 0h1m5 0h1m1 0h1m4 0h2m6 0h1m-44 1h1m8 0h1m2 0h2m4 0h2m2 0h3m11 0h1m-36 1h1m1 0h1m7 0h2m2 0h1m1 0h4m1 0h2m2 0h1m1 0h2m1 0h1m8 0h1m-36 1h1m2 0h1m2 0h1m1 0h2m1 0h3m1 0h1m3 0h1m2 0h2m7 0h2m-35 1h1m2 0h5m1 0h2m2 0h1m5 0h1m3 0h1m9 0h1m-35 1h2m5 0h1m2 0h1m6 0h1m2 0h2m8 0h1m-32 1h1m3 0h2m1 0h1m2 0h1m1 0h3m6 0h1m8 0h1m1 0h2m9 0h1m-43 1h1m10 0h2m2 0h2m1 0h2m-19 1h1m2 0h3m4 0h2m2 0h1m5 0h2"/>
<path fill="none" stroke="#000" stroke-opacity="0.55" stroke-width="1" d="M430 282.5h1m-74 7h1m66 0h1m18 0h1m-85 1h1m102 1h1m3 0h1m-45 1h2m33 0h1m-52 1h1m1 0h1m1 0h1m35 0h1m-38 1h1m11 0h1m14 0h1m-40 1h1m8 0h1m3 0h1m1 0h1m8 0h1m1 0h2m3 0h1m-3 1h1m-37 1h3m27 0h1m3 0h1m40 0h1m-93 1h1m3 0h1m40 0h2m12 0h1m2 0h1m6 0h1m23 0h1m-94 1h1m6 0h1m8 0h1m1 0h1m3 0h1m11 0h1m5 0h1m3 0h1m4 0h1m1 0h1m3 0h1m1 0h1m1 0h2m1 0h1m9 0h1m-81 1h1m6 0h1m12 0h1m7 0h1m1 0h1m6 0h1m34 0h1m1 0h1m6 0h1m11 0h2m-93 1h1m16 0h1m32 0h1m6 0h1m2 0h1m1 0h1m5 0h2m2 0h1m1 0h1m1 0h1m1 0h1m5 0h1m4 0h1m3 0h1m-106 1h1m29 0h1m1 0h2m2 0h1m7 0h1m1 0h1m3 0h1m1 0h1m1 0h1m8 0h1m6 0h1m5 0h1m7 0h1m5 0h3m4 0h3m-92 1h1m6 0h1m18 0h1m8 0h1m1 0h1m1 0h1m3 0h1m2 0h1m6 0h1m3 0h1m1 0h1m1 0h2m4 0h3m1 0h1m1 0h1m3 0h1m2 0h1m11 0h2m16 0h1m6 0h1m-117 1h1m5 0h1m7 0h1m1 0h1m6 0h1m14 0h1m2 0h1m2 0h2m9 0h2m3 0h2m2 0h1m4 0h1m13 0h1m3 0h1m5 0h1m13 0h1m-106 1h2m7 0h1m34 0h2m4 0h1m3 0h1m8 0h1m3 0h2m2 0h1m1 0h1m1 0h2m2 0h1m3 0h1m1 0h1m20 0h1m1 0h2m-124 1h1m4 0h1m19 0h1m10 0h1m27 0h1m2 0h1m1 0h1m3 0h1m4 0h3m3 0h2m4 0h1m2 0h1m4 0h2m7 0h1m9 0h2m4 0h1m6 0h1m-115 1h1m6 0h2m11 0h1m9 0h1m7 0h4m2 0h1m1 0h1m2 0h3m5 0h1m2 0h1m2 0h1m1 0h3m3 0h1m1 0h1m1 0h1m3 0h2m1 0h1m18 0h1m3 0h2m4 0h1m-97 1h1m1 0h2m9 0h1m2 0h1m2 0h1m2 0h1m5 0h1m2 0h1m3 0h3m6 0h1m3 0h2m6 0h1m2 0h1m3 0h1m9 0h1m3 0h1m9 0h1m3 0h3m1 0h1m-109 1h1m6 0h1m4 0h1m3 0h1m13 0h1m2 0h1m2 0h3m6 0h1m2 0h3m2 0h1m2 0h2m7 0h1m1 0h1m3 0h2m4 0h1m1 0h3m3 0h1m2 0h2m1 0h1m2 0h1m6 0h2m1 0h2m3 0h1m2 0h1m-123 1h1m14 0h2m5 0h1m14 0h1m3 0h1m3 0h2m7 0h2m1 0h1m1 0h1m2 0h2m1 0h2m2 0h1m2 0h2m1 0h3m4 0h1m1 0h1m1 0h1m2 0h2m5 0h1m1 0h2m6 0h2m1 0h2m1 0h1m1 0h2m-96 1h1m1 0h1m11 0h4m4 0h4m3 0h1m1 0h1m2 0h1m1 0h1m1 0h4m2 0h5m3 0h1m4 0h1m2 0h1m1 0h1m2 0h5m1 0h1m5 0h2m1 0h1m5 0h2m1 0h1m2 0h1m1 0h2m1 0h1m2 0h1m-117 1h1m1 0h1m1 0h1m11 0h1m7 0h1m10 0h1m4 0h2m1 0h1m1 0h3m2 0h3m2 0h3m3 0h5m5 0h1m1 0h3m1 0h1m2 0h1m1 0h1m2 0h2m1 0h3m2 0h1m10 0h1m1 0h4m2 0h4m1 0h1m2 0h1m3 0h2m-114 1h1m9 0h2m1 0h1m12 0h2m1 0h3m2 0h1m4 0h1m3 0h1m2 0h1m4 0h1m1 0h2m1 0h1m3 0h1m1 0h1m1 0h1m5 0h1m2 0h1m2 0h1m2 0h2m4 0h1m3 0h1m3 0h1m2 0h2m1 0h1m1 0h2m1 0h1m1 0h2m1 0h1m3 0h1m-118 1h1m20 0h1m9 0h1m3 0h1m5 0h2m1 0h1m2 0h1m3 0h4m2 0h3m1 0h1m3 0h1m1 0h1m1 0h1m2 0h4m5 0h1m15 0h1m1 0h3m2 0h3m6 0h1m-136 1h1m20 0h1m10 0h1m3 0h1m8 0h3m7 0h1m1 0h1m1 0h3m3 0h1m4 0h5m1 0h3m1 0h1m3 0h3m1 0h1m1 0h2m4 0h2m1 0h3m1 0h3m5 0h2m2 0h1m1 0h2m3 0h9m-134 1h1m8 0h1m2 0h1m4 0h1m5 0h1m7 0h1m1 0h3m6 0h1m5 0h1m8 0h1m1 0h1m1 0h1m3 0h4m2 0h1m1 0h4m1 0h2m2 0h3m2 0h2m1 0h1m1 0h2m5 0h4m1 0h1m2 0h1m1 0h1m2 0h4m3 0h1m2 0h2m1 0h1m1 0h6m1 0h1m1 0h3m6 0h1m-135 1h1m8 0h1m8 0h2m6 0h1m4 0h1m8 0h1m4 0h2m1 0h2m1 0h2m1 0h1m2 0h2m2 0h5m1 0h1m1 0h3m3 0h2m3 0h1m2 0h1m4 0h1m4 0h3m4 0h3m8 0h1m1 0h7m1 0h4m5 0h1m-117 1h1m8 0h1m9 0h1m4 0h1m9 0h3m2 0h1m1 0h1m1 0h1m7 0h2m1 0h2m2 0h1m2 0h2m1 0h1m1 0h1m1 0h1m1 0h1m1 0h5m2 0h2m1 0h1m2 0h2m9 0h2m1 0h2m1 0h11m2 0h1m-119 1h2m7 0h1m5 0h1m9 0h1m4 0h2m3 0h1m2 0h1m4 0h2m1 0h2m1 0h5m1 0h6m1 0h2m1 0h1m2 0h8m1 0h3m2 0h2m5 0h1m2 0h1m1 0h2m4 0h4m1 0h4m2 0h3m8 0h1m-138 1h1m24 0h1m8 0h3m3 0h3m1 0h1m2 0h1m2 0h1m2 0h2m1 0h1m2 0h1m3 0h1m2 0h1m1 0h4m1 0h1m1 0h1m1 0h3m1 0h1m1 0h3m1 0h1m2 0h1m3 0h2m4 0h1m1 0h1m2 0h4m5 0h2m2 0h4m1 0h2m1 0h5m-138 1h1m14 0h1m3 0h1m12 0h1m2 0h2m3 0h1m11 0h1m8 0h1m1 0h2m1 0h1m1 0h1m2 0h1m2 0h1m3 0h2m1 0h3m1 0h1m5 0h1m2 0h3m2 0h2m2 0h3m2 0h4m3 0h1m4 0h1m1 0h1m2 0h1m1 0h11m2 0h1m-134 1h1m1 0h1m6 0h1m10 0h1m13 0h1m6 0h1m3 0h2m4 0h1m1 0h1m1 0h1m5 0h2m1 0h3m1 0h3m1 0h1m1 0h4m1 0h2m4 0h1m1 0h3m2 0h1m2 0h2m8 0h1m6 0h5m1 0h10m1 0h2m1 0h1m1 0h1m-127 1h1m8 0h1m1 0h1m5 0h1m3 0h2m21 0h2m1 0h4m2 0h1m1 0h2m3 0h2m1 0h5m3 0h1m1 0h1m1 0h1m1 0h2m2 0h1m1 0h1m1 0h3m3 0h1m2 0h3m2 0h1m2 0h1m1 0h1m3 0h6m1 0h4m1 0h1m1 0h1m-126 1h1m20 0h1m11 0h2m12 0h1m1 0h1m1 0h1m8 0h3m1 0h4m3 0h3m3 0h1m2 0h1m3 0h2m2 0h1m3 0h1m6 0h1m1 0h2m8 0h3m1 0h6m1 0h1m1 0h1m1 0h1m-113 1h2m6 0h1m5 0h2m3 0h2m8 0h1m3 0h1m5 0h1m3 0h2m3 0h2m2 0h1m1 0h1m1 0h1m3 0h5m1 0h5m2 0h1m2 0h4m9 0h1m5 0h1m4 0h3m2 0h2m5 0h1m1 0h2m-137 1h1m15 0h1m12 0h1m2 0h1m5 0h2m2 0h1m3 0h1m1 0h1m3 0h1m2 0h1m1 0h1m2 0h2m4 0h1m1 0h5m1 0h1m5 0h2m2 0h2m2 0h1m3 0h2m1 0h1m1 0h1m4 0h2m2 0h1m12 0h8m1 0h3m-135 1h1m18 0h1m2 0h1m10 0h1m4 0h1m5 0h1m9 0h2m3 0h1m1 0h1m5 0h2m4 0h1m1 0h1m1 0h4m3 0h1m1 0h2m2 0h1m3 0h1m1 0h1m4 0h2m3 0h1m2 0h1m5 0h1m6 0h1m2 0h3m3 0h3m1 0h1m-117 1h1m3 0h1m20 0h1m2 0h1m3 0h1m4 0h1m4 0h2m4 0h1m1 0h1m5 0h2m3 0h2m2 0h1m1 0h3m2 0h1m2 0h1m9 0h3m13 0h2m1 0h3m1 0h1m2 0h1m-100 1h1m4 0h2m1 0h1m3 0h1m4 0h1m4 0h1m1 0h1m1 0h1m4 0h3m1 0h1m2 0h3m1 0h8m2 0h1m1 0h1m1 0h2m3 0h3m2 0h1m1 0h1m13 0h2m6 0h1m1 0h1m9 0h1m-122 1h1m4 0h1m2 0h1m6 0h1m1 0h1m7 0h2m2 0h1m22 0h5m1 0h1m3 0h2m1 0h1m1 0h1m2 0h1m3 0h1m3 0h1m3 0h2m1 0h1m1 0h2m4 0h1m5 0h1m4 0h1m5 0h2m1 0h1m1 0h1m2 0h1m2 0h1m-120 1h1m17 0h1m1 0h1m8 0h2m9 0h1m1 0h1m9 0h1m3 0h1m2 0h7m2 0h1m2 0h5m3 0h2m1 0h3m3 0h1m3 0h1m4 0h1m14 0h1m11 0h1m-138 1h1m24 0h1m10 0h1m6 0h1m2 0h3m1 0h1m6 0h2m6 0h2m3 0h2m4 0h1m4 0h1m4 0h2m1 0h2m5 0h1m1 0h1m1 0h1m7 0h1m2 0h1m10 0h1m5 0h1m4 0h1m-112 1h1m1 0h1m4 0h1m1 0h1m10 0h1m2 0h1m12 0h1m4 0h6m2 0h1m1 0h4m1 0h1m2 0h3m21 0h1m18 0h1m-118 1h1m12 0h1m3 0h1m3 0h1m11 0h1m4 0h1m10 0h1m10 0h1m1 0h1m1 0h1m1 0h1m6 0h1m1 0h2m2 0h1m3 0h1m3 0h3m4 0h1m6 0h1m9 0h1m3 0h1m4 0h1m-124 1h1m23 0h1m6 0h1m6 0h1m9 0h1m6 0h1m3 0h1m7 0h4m1 0h1m2 0h3m2 0h3m9 0h1m1 0h1m21 0h1m-96 1h1m2 0h1m4 0h2m17 0h1m2 0h3m2 0h2m9 0h1m6 0h1m3 0h6m4 0h1m1 0h1m2 0h2m3 0h1m8 0h1m-89 1h1m4 0h2m3 0h1m4 0h1m11 0h1m4 0h1m1 0h1m1 0h1m5 0h1m2 0h1m10 0h1m3 0h3m2 0h1m4 0h1m1 0h1m2 0h1m-79 1h1m4 0h1m12 0h1m3 0h2m2 0h1m11 0h1m1 0h5m5 0h2m1 0h1m8 0h1m3 0h1m13 0h1m1 0h1m15 0h1m-85 1h1m6 0h1m4 0h1m3 0h1m1 0h1m2 0h1m2 0h1m1 0h4m1 0h1m1 0h3m2 0h1m3 0h2m1 0h1m2 0h2m8 0h1m2 0h2m1 0h1m1 0h1m-89 1h1m15 0h1m1 0h1m14 0h2m5 0h3m4 0h1m1 0h1m9 0h1m2 0h1m1 0h2m1 0h1m2 0h2m1 0h1m7 0h2m2 0h1m2 0h1m2 0h1m-99 1h1m13 0h1m4 0h2m1 0h1m1 0h1m3 0h1m7 0h1m5 0h1m6 0h2m2 0h2m3 0h1m2 0h1m1 0h2m4 0h1m2 0h1m2 0h1m1 0h1m2 0h1m6 0h2m5 0h1m2 0h1m-89 1h1m8 0h1m8 0h1m5 0h1m1 0h1m2 0h1m4 0h1m3 0h2m3 0h3m5 0h2m1 0h1m1 0h3m5 0h1m5 0h2m7 0h1m1 0h1m14 0h1m-101 1h1m9 0h1m8 0h1m8 0h1m4 0h1m3 0h1m3 0h2m5 0h2m2 0h1m1 0h1m1 0h1m1 0h1m2 0h1m9 0h1m1 0h1m3 0h1m1 0h1m21 0h1m-98 1h1m5 0h1m29 0h1m2 0h1m1 0h5m1 0h2m8 0h1m8 0h2m18 0h1m-86 1h1m17 0h1m9 0h1m6 0h1m2 0h1m3 0h4m2 0h4m2 0h2m2 0h1m2 0h2m3 0h2m2 0h1m-34 1h1m13 0h1m3 0h2m1 0h1m1 0h1m4 0h2m4 0h2m4 0h1m6 0h1m-77 1h1m2 0h2m8 0h1m9 0h5m1 0h1m2 0h1m2 0h1m2 0h3m2 0h4m1 0h2m1 0h1m8 0h1m8 0h1m-87 1h1m16 0h1m4 0h1m3 0h1m14 0h2m1 0h7m4 0h1m32 0h1m1 0h1m-63 1h1m13 0h1m2 0h1m3 0h2m3 0h1m2 0h1m6 0h1m2 0h1m1 0h1m3 0h1m8 0h1m1 0h1m4 0h1m1 0h1m6 0h1m-80 1h1m1 0h1m1 0h1m7 0h2m2 0h1m4 0h1m3 0h1m1 0h1m2 0h1m8 0h1m1 0h1m3 0h2m1 0h1m4 0h1m6 0h1m-88 1h1m16 0h1m2 0h1m14 0h1m6 0h1m6 0h1m2 0h1m1 0h1m1 0h1m3 0h1m1 0h1m4 0h1m1 0h2m1 0h1m4 0h1m4 0h1m3 0h1m3 0h1m-71 1h1m24 0h1m6 0h1m4 0h1m1 0h2m1 0h1m6 0h4m4 0h1m16 0h1m-69 1h2m6 0h1m17 0h1m1 0h1m3 0h2m1 0h1m3 0h1m1 0h1m1 0h1m1 0h1m1 0h1m-38 1h1m8 0h2m4 0h1m1 0h1m2 0h1m1 0h2m1 0h1m1 0h1m5 0h1m2 0h2m8 0h1m-69 1h1m23 0h1m5 0h1m1 0h2m3 0h1m2 0h1m6 0h3m1 0h1m1 0h1m3 0h1m9 0h1m-69 1h1m22 0h1m4 0h1m1 0h1m1 0h2m1 0h1m2 0h1m3 0h1m9 0h2m2 0h1m2 0h2m4 0h1m-69 1h1m13 0h1m12 0h1m2 0h2m3 0h2m3 0h1m3 0h1m2 0h2m3 0h3m15 0h1m4 0h1m-85 1h1m24 0h1m1 0h1m4 0h1m1 0h2m4 0h1m2 0h4m3 0h1m2 0h1m2 0h1m2 0h1m2 0h1m5 0h1m-53 1h1m5 0h1m8 0h1m1 0h2m3 0h3m2 0h1m6 0h4m3 0h3m3 0h1m3 0h1m3 0h1m26 0h1m-82 1h1m7 0h1m2 0h2m2 0h1m11 0h2m4 0h2m1 0h2m6 0h1m2 0h2m1 0h1m6 0h1m5 0h1m2 0h1m-72 1h1m17 0h1m5 0h1m1 0h1m3 0h1m2 0h1m1 0h1m1 0h1m1 0h4m4 0h1m3 0h1m4 0h1m-66 1h1m3 0h1m9 0h1m3 0h1m8 0h1m6 0h1m1 0h2m4 0h2m1 0h1m2 0h1m22 0h1m-71 1h1m2 0h1m8 0h1m4 0h1m6 0h1m2 0h1m3 0h1m2 0h1m1 0h1m7 0h1m3 0h1m1 0h1m1 0h2m1 0h2m1 0h2m9 0h1m-63 1h1m2 0h1m13 0h1m3 0h1m1 0h2m4 0h1m2 0h1m4 0h4m1 0h3m3 0h1m10 0h1m19 0h1m-87 1h1m2 0h1m16 0h1m1 0h1m4 0h1m4 0h2m2 0h2m3 0h1m5 0h5m1 0h2m3 0h1m6 0h1m2 0h1m-73 1h1m6 0h1m1 0h1m9 0h1m7 0h1m5 0h2m3 0h1m1 0h1m1 0h1m3 0h2m1 0h1m3 0h1m4 0h1m-56 1h2m12 0h1m3 0h1m3 0h1m9 0h2m1 0h1m2 0h1m5 0h2m1 0h1m1 0h2m5 0h1m-39 1h5m1 0h1m7 0h1m1 0h2m1 0h2m1 0h2m3 0h1m2 0h1m4 0h1m14 0h1m-72 1h1m6 0h1m1 0h1m4 0h1m1 0h2m3 0h1m9 0h1m1 0h2m2 0h1m1 0h1m1 0h1m1 0h4m3 0h3m1 0h1m2 0h1m1 0h1m2 0h1m-56 1h1m7 0h3m1 0h1m2 0h1m1 0h1m2 0h1m1 0h1m7 0h8m1 0h1m-46 1h1m4 0h1m5 0h1m4 0h1m5 0h1m7 0h2m2 0h1m1 0h1m1 0h1m4 0h1m4 0h1m2 0h1m8 0h1m2 0h1m-54 1h2m1 0h1m2 0h3m7 0h1m3 0h1m1 0h2m1 0h1m2 0h3m2 0h3m1 0h1m9 0h1m7 0h1m-65 1h1m3 0h1m11 0h1m4 0h1m2 0h3m1 0h3m2 0h1m2 0h5m1 0h2m1 0h1m13 0h1m-63 1h1m1 0h1m1 0h2m3 0h1m1 0h2m1 0h1m3 0h1m2 0h3m1 0h1m5 0h4m3 0h2m5 0h1m4 0h1m22 0h1m-74 1h1m3 0h2m8 0h1m2 0h2m3 0h2m1 0h1m1 0h6m1 0h1m1 0h3m1 0h1m2 0h3m4 0h1m2 0h1m3 0h1m-58 1h3m2 0h1m3 0h1m2 0h2m3 0h3m1 0h2m1 0h2m2 0h2m1 0h1m1 0h5m1 0h1m1 0h1m4 0h1m4 0h1m13 0h1m-64 1h1m3 0h2m4 0h1m3 0h2m1 0h3m1 0h3m2 0h2m1 0h1m1 0h2m1 0h3m1 0h2m1 0h1m5 0h1m2 0h2m-53 1h6m5 0h1m3 0h1m1 0h1m4 0h1m1 0h2m1 0h1m1 0h1m1 0h1m1 0h1m1 0h1m-37 1h2m2 0h3m4 0h1m1 0h2m2 0h1m1 0h7m2 0h1m2 0h4m1 0h1m2 0h1m4 0h3m1 0h1m2 0h1m22 0h1m-70 1h9m2 0h1m1 0h3m1 0h4m1 0h1m1 0h3m3 0h2m7 0h1m7 0h1m8 0h1m15 0h1m-71 1h1m1 0h2m1 0h2m1 0h4m2 0h1m2 0h2m1 0h1m1 0h2m7 0h1m2 0h1m-41 1h2m1 0h1m1 0h1m1 0h1m6 0h4m3 0h2m1 0h3m1 0h3m4 0h3m4 0h2m1 0h1m1 0h1m19 0h1m-69 1h2m2 0h5m2 0h1m1 0h3m1 0h1m1 0h5m7 0h2m2 0h2m1 0h1m4 0h1m29 0h1m-71 1h3m2 0h1m1 0h2m2 0h1m1 0h5m1 0h6m1 0h3m2 0h1m2 0h3m1 0h2m1 0h1m16 0h1m-60 1h3m2 0h10m1 0h1m1 0h2m1 0h1m1 0h2m1 0h5m1 0h1m1 0h2m1 0h1m-40 1h1m3 0h1m1 0h2m1 0h2m1 0h1m1 0h7m1 0h4m1 0h1m2 0h1m3 0h3m1 0h1m2 0h1m8 0h1m-51 1h1m1 0h1m1 0h1m1 0h1m1 0h2m1 0h1m1 0h1m3 0h3m1 0h5m1 0h2m2 0h2m2 0h1m6 0h1m38 0h1m-78 1h1m1 0h16m1 0h1m1 0h3m2 0h2m1 0h1m2 0h1m1 0h1m3 0h1m7 0h1m-49 1h2m1 0h1m2 0h4m1 0h1m1 0h4m2 0h3m1 0h1m2 0h1m1 0h1m1 0h1m2 0h1m1 0h3m3 0h1m-44 1h2m1 0h2m1 0h1m1 0h6m1 0h2m1 0h3m2 0h2m1 0h1m2 0h7m1 0h1m1 0h1m1 0h2m2 0h1m-46 1h2m4 0h4m1 0h1m1 0h3m1 0h5m1 0h7m2 0h1m3 0h2m9 0h1m12 0h2m-59 1h2m3 0h5m1 0h1m1 0h4m1 0h1m1 0h2m1 0h2m3 0h3m2 0h1m6 0h1m4 0h1m11 0h1m-59 1h1m1 0h3m1 0h9m1 0h4m1 0h1m1 0h4m1 0h4m4 0h2m1 0h2m-37 1h6m2 0h2m2 0h3m3 0h2m1 0h2m1 0h1m2 0h4m-37 1h1m2 0h2m2 0h1m3 0h1m1 0h2m1 0h3m2 0h2m2 0h1m1 0h1m2 0h1m2 0h1m2 0h1m1 0h1m-37 1h1m1 0h1m2 0h6m2 0h1m1 0h1m2 0h1m1 0h8m3 0h1m2 0h1m3 0h1m4 0h1m5 0h1m-52 1h1m3 0h1m2 0h1m4 0h1m1 0h4m3 0h2m4 0h1m4 0h1m2 0h1m2 0h1m3 0h1m-43 1h4m1 0h1m2 0h1m1 0h1m1 0h2m1 0h5m1 0h1m1 0h5m-28 1h1m2 0h2m1 0h1m1 0h2m1 0h1m1 0h6m2 0h1m1 0h3m3 0h1m3 0h1m-34 1h1m6 0h3m1 0h5m1 0h4m2 0h4m1 0h2m1 0h2m7 0h1m3 0h1m-41 1h2m1 0h1m2 0h3m1 0h1m2 0h7m3 0h2m3 0h1m2 0h1m3 0h1m6 0h1m-46 1h1m1 0h1m3 0h2m3 0h2m1 0h1m1 0h2m2 0h1m3 0h1m1 0h1m1 0h1m2 0h2m1 0h1m-34 1h1m2 0h4m1 0h2m1 0h2m1 0h4m1 0h1m1 0h1m1 0h3m1 0h1m2 0h1m1 0h1m-35 1h2m1 0h3m2 0h1m1 0h1m3 0h1m1 0h2m1 0h2m1 0h2m1 0h8m-31 1h3m1 0h1m2 0h1m1 0h1m2 0h2m1 0h2m2 0h2m2 0h1m2 0h2m1 0h1m5 0h1m4 0h2m-38 1h5m2 0h1m2 0h4m2 0h3m3 0h1m3 0h1m14 0h1m-45 1h2m2 0h1m2 0h1m1 0h1m1 0h1m1 0h2m1 0h1m4 0h3m1 0h2m2 0h1m5 0h1m-34 1h1m2 0h1m6 0h1m1 0h1m2 0h1m1 0h1m2 0h1m3 0h1m10 0h1m-37 1h1m4 0h1m1 0h1m2 0h2m2 0h3m1 0h1m1 0h2m5 0h1m-31 1h2m2 0h2m3 0h2m2 0h2m6 0h1m8 0h1m-32 1h1m1 0h3m1 0h1m1 0h2m2 0h2m9 0h2m2 0h1m3 0h1m4 0h1m3 0h1m-33 1h1m5 0h1m1 0h1m3 0h1m4 0h1m2 0h1m-28 1h1m6 0h1m7 0h1m2 0h2m2 0h1m1 0h1m2 0h1m1 0h1"/>
<path fill="none" stroke="#000" stroke-opacity="0.55" stroke-width="1" d="M451 279.5h1m-6 4h1m-5 2h1m-3 1h1m-27 4h1m20 0h1m14 0h1m-80 1h1m3 0h1m76 0h1m-31 1h1m27 1h1m-52 1h1m9 0h1m30 0h1m-42 1h1m6 0h1m19 0h1m-75 1h1m9 0h1m37 0h1m3 0h1m23 0h1m26 0h1m11 0h1m-81 1h1m11 0h1m8 0h1m15 0h1m11 0h1m-61 1h1m36 0h1m9 0h2m1 0h1m-67 1h1m46 0h1m7 0h1m12 0h1m7 0h1m3 0h1m18 0h1m6 0h1m12 0h1m-104 1h1m7 0h1m24 0h1m2 0h1m17 0h1m9 0h1m3 0h1m5 0h1m1 0h1m17 0h1m-106 1h2m9 0h1m9 0h1m4 0h2m14 0h1m1 0h2m9 0h1m7 0h2m1 0h1m14 0h1m1 0h2m15 0h1m5 0h1m-91 1h1m10 0h1m7 0h1m10 0h1m2 0h1m6 0h2m6 0h3m1 0h1m3 0h1m3 0h2m1 0h1m13 0h1m10 0h1m21 0h1m-143 1h1m25 0h1m18 0h1m6 0h2m2 0h1m6 0h2m8 0h1m13 0h1m36 0h1m9 0h1m-116 1h1m11 0h1m2 0h2m5 0h1m7 0h1m5 0h1m2 0h1m1 0h1m1 0h2m2 0h1m2 0h1m4 0h2m2 0h1m2 0h1m8 0h1m3 0h1m2 0h1m2 0h1m2 0h1m4 0h1m2 0h1m14 0h1m-106 1h1m6 0h1m15 0h1m4 0h1m10 0h2m2 0h1m5 0h1m4 0h2m1 0h1m2 0h2m1 0h1m9 0h1m12 0h1m16 0h1m-105 1h1m4 0h2m19 0h1m13 0h1m4 0h1m5 0h2m1 0h1m1 0h1m4 0h1m1 0h1m3 0h1m4 0h1m5 0h1m3 0h1m4 0h1m4 0h1m2 0h1m3 0h1m2 0h1m3 0h2m-115 1h1m11 0h1m4 0h1m1 0h1m5 0h1m11 0h2m4 0h1m1 0h2m1 0h1m3 0h3m1 0h2m4 0h1m1 0h3m2 0h1m4 0h1m2 0h2m13 0h1m3 0h1m2 0h1m4 0h1m4 0h2m4 0h1m-109 1h1m3 0h1m2 0h1m14 0h1m11 0h1m2 0h2m12 0h1m5 0h1m3 0h1m4 0h3m5 0h2m4 0h1m4 0h2m1 0h2m10 0h1m4 0h1m2 0h3m2 0h2m5 0h1m-122 1h1m6 0h1m5 0h1m1 0h2m21 0h1m6 0h2m3 0h1m4 0h4m1 0h1m2 0h3m6 0h1m2 0h1m4 0h3m5 0h1m2 0h3m10 0h1m5 0h1m1 0h1m3 0h2m-138 1h1m15 0h1m31 0h3m5 0h1m1 0h1m2 0h1m2 0h1m1 0h1m1 0h1m2 0h1m5 0h2m3 0h1m1 0h1m1 0h1m2 0h2m1 0h1m2 0h2m5 0h1m7 0h1m1 0h1m5 0h1m3 0h1m1 0h1m2 0h3m2 0h3m-134 1h1m2 0h1m6 0h1m9 0h1m4 0h2m10 0h1m7 0h1m5 0h1m1 0h3m4 0h2m1 0h1m3 0h1m3 0h1m1 0h1m1 0h1m1 0h1m2 0h1m3 0h3m2 0h2m1 0h1m14 0h1m8 0h5m2 0h1m1 0h2m1 0h5m-126 1h1m6 0h1m5 0h1m1 0h1m2 0h1m1 0h1m4 0h1m14 0h1m1 0h1m7 0h1m1 0h1m3 0h1m3 0h1m2 0h1m1 0h1m1 0h1m2 0h2m3 0h4m1 0h2m1 0h2m2 0h1m4 0h1m3 0h1m4 0h1m1 0h1m4 0h2m2 0h9m3 0h1m3 0h1m1 0h1m2 0h1m-122 1h1m5 0h1m7 0h1m10 0h2m2 0h1m2 0h1m6 0h1m2 0h2m1 0h1m2 0h2m2 0h1m1 0h1m1 0h1m1 0h2m2 0h5m1 0h1m1 0h2m8 0h1m2 0h1m1 0h1m4 0h2m5 0h2m4 0h4m3 0h1m2 0h1m3 0h1m-117 1h1m5 0h1m10 0h1m4 0h3m6 0h1m4 0h1m2 0h2m2 0h2m3 0h3m1 0h1m4 0h3m1 0h2m1 0h4m1 0h1m1 0h1m1 0h1m1 0h2m4 0h1m4 0h1m10 0h1m3 0h5m1 0h1m1 0h2m1 0h3m2 0h1m-129 1h1m2 0h1m13 0h1m9 0h1m3 0h1m5 0h1m1 0h1m3 0h1m1 0h3m2 0h1m1 0h2m8 0h5m1 0h6m1 0h4m1 0h1m3 0h1m1 0h4m4 0h2m7 0h2m5 0h1m2 0h1m1 0h3m1 0h1m1 0h2m1 0h2m1 0h1m1 0h1m4 0h1m-138 1h1m4 0h1m14 0h1m5 0h2m4 0h2m6 0h1m10 0h1m3 0h2m1 0h3m2 0h3m1 0h1m1 0h7m1 0h1m1 0h2m1 0h3m1 0h1m2 0h1m2 0h2m7 0h1m5 0h2m2 0h1m1 0h3m1 0h1m2 0h2m1 0h3m2 0h1m1 0h1m-132 1h1m2 0h1m3 0h1m1 0h2m4 0h1m7 0h1m6 0h1m4 0h4m1 0h1m3 0h1m4 0h4m2 0h1m1 0h2m1 0h3m2 0h1m1 0h1m1 0h2m1 0h3m2 0h1m2 0h1m3 0h1m3 0h3m3 0h1m2 0h1m1 0h1m1 0h1m12 0h3m1 0h1m1 0h2m1 0h8m2 0h1m-116 1h1m1 0h1m4 0h1m2 0h2m6 0h5m1 0h1m3 0h1m1 0h1m4 0h1m2 0h1m1 0h4m1 0h2m2 0h3m2 0h3m3 0h3m1 0h2m1 0h7m2 0h1m1 0h2m9 0h1m1 0h2m1 0h1m6 0h12m1 0h1m-127 1h1m5 0h1m3 0h3m15 0h1m3 0h1m2 0h2m3 0h1m1 0h1m1 0h1m6 0h4m1 0h3m4 0h3m4 0h4m1 0h7m4 0h1m2 0h1m1 0h1m2 0h2m1 0h1m5 0h1m1 0h1m3 0h3m2 0h3m1 0h1m1 0h2m1 0h1m2 0h1m-130 1h1m8 0h1m1 0h1m4 0h1m1 0h1m4 0h1m1 0h2m11 0h1m5 0h1m4 0h2m1 0h1m2 0h1m1 0h4m2 0h4m1 0h1m5 0h1m3 0h1m1 0h2m1 0h2m1 0h2m1 0h1m4 0h2m1 0h1m2 0h1m2 0h1m3 0h2m1 0h7m1 0h3m1 0h1m1 0h1m1 0h1m-122 1h1m1 0h1m7 0h1m1 0h1m7 0h1m1 0h2m9 0h1m7 0h1m4 0h2m3 0h1m2 0h2m1 0h2m2 0h4m1 0h1m7 0h1m1 0h1m2 0h3m2 0h3m3 0h2m2 0h3m1 0h1m1 0h1m1 0h1m2 0h1m2 0h1m1 0h2m1 0h6m1 0h1m1 0h2m-139 1h1m14 0h2m2 0h1m19 0h2m4 0h1m1 0h2m4 0h1m1 0h1m1 0h2m3 0h3m5 0h1m2 0h3m1 0h1m2 0h1m1 0h10m1 0h2m1 0h1m3 0h1m1 0h1m2 0h1m4 0h1m1 0h1m4 0h1m3 0h1m1 0h1m1 0h8m1 0h2m3 0h2m-131 1h1m16 0h1m5 0h2m5 0h2m2 0h1m6 0h2m5 0h4m1 0h3m1 0h1m1 0h2m1 0h3m1 0h1m2 0h1m1 0h4m1 0h1m1 0h2m1 0h1m1 0h1m1 0h1m1 0h2m7 0h3m4 0h1m2 0h1m3 0h2m2 0h1m1 0h3m1 0h4m2 0h2m-120 1h1m2 0h1m2 0h2m1 0h1m1 0h1m2 0h1m5 0h3m3 0h1m2 0h1m3 0h1m5 0h3m3 0h2m1 0h1m1 0h1m2 0h1m1 0h4m2 0h2m5 0h1m3 0h2m2 0h1m2 0h1m3 0h3m1 0h1m2 0h1m1 0h1m3 0h1m7 0h4m1 0h3m1 0h4m1 0h1m1 0h1m-128 1h1m20 0h1m4 0h1m4 0h1m1 0h1m2 0h2m4 0h1m1 0h2m1 0h1m3 0h1m1 0h1m2 0h3m1 0h2m1 0h1m1 0h4m1 0h1m2 0h1m1 0h2m3 0h3m2 0h2m3 0h5m1 0h1m8 0h1m4 0h1m4 0h2m2 0h1m1 0h4m3 0h1m-127 1h1m5 0h2m1 0h1m6 0h1m1 0h1m3 0h2m4 0h1m1 0h1m3 0h2m7 0h1m1 0h1m1 0h3m1 0h3m3 0h3m1 0h1m2 0h6m1 0h6m2 0h2m8 0h1m1 0h1m1 0h2m16 0h1m1 0h2m1 0h5m2 0h1m2 0h1m-132 1h1m2 0h1m4 0h1m3 0h1m6 0h2m27 0h1m11 0h1m1 0h1m3 0h4m1 0h1m1 0h1m1 0h1m4 0h1m5 0h1m2 0h1m2 0h3m2 0h1m5 0h1m2 0h1m8 0h1m2 0h5m1 0h1m1 0h2m-129 1h1m15 0h3m2 0h1m1 0h1m3 0h2m2 0h1m1 0h2m10 0h2m5 0h1m1 0h2m1 0h2m1 0h1m3 0h1m2 0h1m4 0h2m1 0h1m2 0h1m4 0h2m1 0h1m1 0h1m3 0h1m1 0h1m5 0h2m2 0h1m4 0h1m4 0h1m1 0h2m2 0h2m2 0h1m2 0h1m3 0h1m-138 1h1m14 0h1m5 0h1m2 0h1m4 0h3m2 0h1m1 0h1m3 0h1m7 0h1m1 0h1m3 0h1m1 0h1m1 0h2m1 0h1m1 0h4m2 0h5m2 0h1m2 0h1m1 0h2m1 0h2m3 0h2m2 0h1m1 0h2m10 0h1m10 0h1m4 0h1m2 0h2m1 0h1m1 0h1m2 0h2m-131 1h1m16 0h1m8 0h1m5 0h1m1 0h1m1 0h2m8 0h3m2 0h1m1 0h2m2 0h3m4 0h3m1 0h1m3 0h4m1 0h1m1 0h1m4 0h2m5 0h1m2 0h1m7 0h1m1 0h1m13 0h3m8 0h1m2 0h1m3 0h1m-121 1h1m18 0h1m3 0h1m5 0h2m2 0h1m2 0h1m4 0h2m3 0h4m4 0h2m2 0h6m4 0h1m1 0h1m6 0h1m1 0h1m5 0h1m15 0h1m1 0h2m3 0h1m-112 1h1m5 0h1m1 0h1m5 0h1m3 0h1m7 0h2m3 0h1m2 0h1m4 0h1m1 0h3m5 0h2m2 0h1m3 0h1m2 0h1m2 0h2m2 0h2m2 0h2m3 0h1m1 0h1m5 0h1m2 0h2m5 0h2m-99 1h1m3 0h2m4 0h1m8 0h1m10 0h1m1 0h1m2 0h1m5 0h1m1 0h1m4 0h1m3 0h1m1 0h4m2 0h3m5 0h1m4 0h1m6 0h2m2 0h1m1 0h1m2 0h1m18 0h1m4 0h1m-98 1h1m4 0h1m8 0h1m5 0h1m4 0h1m3 0h1m4 0h4m2 0h2m5 0h5m1 0h1m2 0h1m1 0h2m1 0h3m2 0h1m1 0h1m6 0h1m1 0h1m12 0h2m2 0h1m12 0h1m-139 1h1m44 0h1m14 0h1m5 0h2m1 0h2m1 0h1m1 0h1m2 0h3m3 0h2m6 0h1m2 0h1m8 0h1m1 0h1m19 0h1m-115 1h1m4 0h1m36 0h1m2 0h2m1 0h1m5 0h1m1 0h1m1 0h1m4 0h2m3 0h3m1 0h1m3 0h2m1 0h1m2 0h3m6 0h1m4 0h1m5 0h1m4 0h1m9 0h1m-109 1h1m4 0h1m9 0h1m2 0h1m7 0h1m6 0h1m1 0h2m4 0h1m1 0h2m1 0h1m2 0h1m2 0h1m1 0h1m1 0h2m1 0h1m6 0h3m3 0h1m9 0h1m4 0h2m-86 1h1m12 0h1m17 0h2m1 0h1m3 0h1m1 0h3m1 0h1m2 0h2m4 0h1m1 0h1m5 0h1m2 0h1m3 0h1m6 0h1m6 0h1m2 0h1m15 0h1m-96 1h2m1 0h2m9 0h1m7 0h1m2 0h1m3 0h1m6 0h5m3 0h2m1 0h3m2 0h2m3 0h1m2 0h1m1 0h3m10 0h1m8 0h2m-86 1h1m2 0h1m21 0h1m2 0h2m1 0h1m1 0h1m1 0h1m1 0h2m8 0h3m6 0h1m3 0h1m4 0h1m-68 1h1m8 0h1m6 0h1m1 0h1m7 0h1m4 0h2m1 0h2m1 0h1m2 0h1m2 0h1m1 0h3m4 0h7m1 0h1m5 0h1m-63 1h1m10 0h2m9 0h1m5 0h1m5 0h1m1 0h1m2 0h2m5 0h1m9 0h1m2 0h1m3 0h1m3 0h1m-95 1h1m5 0h1m15 0h1m3 0h1m10 0h1m11 0h1m1 0h1m1 0h3m1 0h1m3 0h1m8 0h3m1 0h2m3 0h2m1 0h1m10 0h1m5 0h1m-70 1h1m3 0h1m2 0h1m11 0h1m4 0h2m1 0h1m2 0h2m1 0h1m3 0h1m4 0h1m2 0h1m18 0h1m27 0h1m-107 1h1m3 0h1m1 0h1m15 0h1m2 0h1m3 0h1m1 0h1m1 0h2m3 0h1m8 0h2m1 0h2m1 0h2m5 0h3m5 0h2m16 0h1m12 0h1m-105 1h1m17 0h1m22 0h1m1 0h2m2 0h1m3 0h3m3 0h1m1 0h1m20 0h1m-66 1h1m5 0h1m8 0h1m5 0h1m2 0h2m1 0h1m4 0h1m3 0h1m2 0h1m5 0h1m2 0h1m2 0h1m9 0h1m13 0h1m10 0h1m-83 1h1m9 0h1m4 0h1m4 0h1m3 0h2m3 0h3m1 0h1m3 0h3m7 0h2m1 0h1m-42 1h2m3 0h1m5 0h3m4 0h1m1 0h1m1 0h2m2 0h1m15 0h1m9 0h2m8 0h1m-94 1h1m8 0h1m3 0h1m3 0h1m9 0h1m4 0h1m2 0h1m1 0h1m7 0h2m2 0h2m3 0h1m1 0h1m3 0h2m2 0h1m1 0h1m-57 1h1m12 0h1m4 0h1m4 0h1m3 0h1m2 0h1m1 0h1m1 0h1m1 0h1m3 0h1m1 0h2m1 0h3m2 0h1m3 0h1m1 0h2m-62 1h1m8 0h1m17 0h1m2 0h2m1 0h2m3 0h3m1 0h1m4 0h2m4 0h1m1 0h1m3 0h1m-54 1h1m6 0h1m1 0h1m2 0h1m8 0h1m5 0h1m2 0h1m1 0h2m3 0h3m1 0h1m3 0h1m1 0h1m1 0h1m4 0h2m-68 1h1m7 0h1m7 0h1m11 0h1m1 0h1m4 0h1m2 0h1m1 0h1m1 0h1m2 0h1m3 0h2m7 0h1m8 0h1m-63 1h1m6 0h1m8 0h1m2 0h1m3 0h1m3 0h1m1 0h1m2 0h1m4 0h2m1 0h2m3 0h2m1 0h2m22 0h1m-71 1h1m10 0h1m10 0h2m1 0h1m2 0h1m3 0h1m1 0h1m2 0h2m4 0h1m2 0h1m8 0h2m4 0h2m-75 1h1m30 0h1m2 0h1m2 0h1m1 0h6m1 0h3m1 0h2m2 0h1m5 0h1m1 0h1m-50 1h1m4 0h1m2 0h1m1 0h1m3 0h1m7 0h1m3 0h2m2 0h1m3 0h1m14 0h1m4 0h1m-52 1h1m2 0h1m3 0h1m4 0h1m1 0h1m2 0h1m1 0h1m1 0h1m1 0h2m3 0h1m9 0h2m3 0h1m-52 1h1m6 0h1m14 0h1m1 0h1m1 0h2m3 0h1m2 0h3m1 0h1m1 0h2m4 0h1m3 0h1m4 0h1m-58 1h2m2 0h1m9 0h1m7 0h1m1 0h2m2 0h4m1 0h2m2 0h1m7 0h1m7 0h2m-57 1h1m3 0h1m13 0h1m3 0h1m5 0h3m7 0h1m2 0h1m7 0h1m34 0h1m-71 1h1m2 0h1m6 0h1m3 0h3m1 0h1m3 0h1m3 0h2m13 0h1m2 0h1m-65 1h1m3 0h1m3 0h1m19 0h1m5 0h2m2 0h1m5 0h3m1 0h1m1 0h1m1 0h1m1 0h2m8 0h1m-53 1h1m1 0h1m7 0h1m3 0h1m1 0h1m1 0h3m1 0h1m1 0h2m3 0h3m6 0h2m-44 1h1m6 0h1m7 0h1m1 0h2m2 0h2m1 0h1m4 0h3m1 0h1m2 0h3m5 0h1m9 0h1m-60 1h1m7 0h1m5 0h1m2 0h1m5 0h1m3 0h2m2 0h3m1 0h2m2 0h1m2 0h2m5 0h1m16 0h1m-74 1h1m6 0h1m2 0h1m8 0h1m5 0h2m7 0h2m5 0h1m1 0h1m3 0h1m3 0h1m1 0h1m6 0h1m7 0h1m-57 1h1m1 0h1m2 0h1m5 0h1m1 0h1m1 0h1m2 0h1m1 0h1m7 0h1m1 0h1m6 0h1m2 0h1m-52 1h1m7 0h1m3 0h1m1 0h1m1 0h1m3 0h1m2 0h1m1 0h1m1 0h1m2 0h3m1 0h1m2 0h3m1 0h4m1 0h1m15 0h1m15 0h1m11 0h1m-84 1h1m6 0h1m4 0h1m1 0h1m1 0h1m2 0h1m1 0h2m1 0h1m1 0h2m1 0h1m2 0h1m3 0h1m2 0h1m2 0h1m6 0h1m4 0h1m-65 1h1m2 0h1m5 0h2m7 0h1m1 0h1m2 0h1m2 0h1m2 0h2m6 0h1m1 0h1m2 0h2m7 0h1m3 0h1m14 0h1m-69 1h1m6 0h2m7 0h1m2 0h1m1 0h2m1 0h2m2 0h1m1 0h1m1 0h2m8 0h1m1 0h1m1 0h1m5 0h1m-53 1h1m1 0h1m2 0h1m4 0h1m1 0h5m1 0h1m1 0h2m1 0h2m2 0h1m2 0h1m2 0h1m2 0h2m-35 1h2m7 0h3m4 0h2m1 0h1m1 0h1m1 0h1m1 0h1m3 0h1m1 0h6m1 0h1m1 0h1m1 0h2m3 0h1m10 0h1m13 0h1m-75 1h1m2 0h1m1 0h2m5 0h1m1 0h4m1 0h3m1 0h1m4 0h2m1 0h2m2 0h1m1 0h1m7 0h1m5 0h1m2 0h1m-52 1h1m1 0h1m5 0h3m1 0h1m2 0h4m3 0h1m8 0h1m1 0h3m7 0h1m-47 1h1m3 0h4m3 0h2m3 0h8m1 0h4m1 0h1m4 0h4m1 0h2m1 0h1m3 0h2m-50 1h1m3 0h1m1 0h1m2 0h1m2 0h1m1 0h1m1 0h1m1 0h3m1 0h2m1 0h1m1 0h1m3 0h1m1 0h1m1 0h1m2 0h1m1 0h1m8 0h1m-51 1h1m6 0h2m1 0h1m1 0h8m1 0h3m2 0h3m1 0h5m1 0h2m2 0h2m7 0h1m-50 1h5m2 0h2m1 0h1m1 0h2m1 0h2m1 0h1m2 0h9m2 0h4m1 0h5m1 0h1m1 0h1m31 0h1m-76 1h1m3 0h1m1 0h2m2 0h6m1 0h4m2 0h2m3 0h1m1 0h3m1 0h2m1 0h2m1 0h1m2 0h1m24 0h1m10 0h1m-78 1h2m3 0h3m1 0h1m1 0h1m1 0h2m3 0h4m2 0h1m1 0h1m1 0h1m4 0h1m3 0h1m2 0h2m3 0h1m9 0h1m16 0h1m-77 1h1m1 0h1m3 0h4m1 0h1m1 0h3m1 0h1m1 0h8m3 0h4m2 0h1m6 0h3m13 0h1m30 0h1m-90 1h1m2 0h5m1 0h1m1 0h2m1 0h2m1 0h1m1 0h2m1 0h5m1 0h1m2 0h1m-34 1h4m1 0h1m1 0h4m1 0h5m1 0h5m1 0h5m2 0h1m1 0h5m4 0h1m8 0h1m-50 1h1m1 0h1m4 0h1m1 0h7m2 0h3m1 0h5m1 0h1m1 0h1m3 0h3m2 0h1m26 0h1m-67 1h2m1 0h1m2 0h3m1 0h8m1 0h5m2 0h1m2 0h1m2 0h2m1 0h4m-40 1h1m3 0h9m1 0h8m1 0h4m1 0h1m1 0h1m2 0h2m2 0h2m4 0h1m1 0h1m-47 1h2m1 0h4m2 0h9m1 0h3m1 0h1m1 0h1m1 0h1m3 0h1m1 0h1m1 0h2m3 0h1m-40 1h1m2 0h8m2 0h1m1 0h5m2 0h3m1 0h1m3 0h1m1 0h1m1 0h1m1 0h1m3 0h2m1 0h1m5 0h1m3 0h1m-53 1h1m1 0h12m1 0h2m1 0h7m3 0h1m1 0h1m1 0h1m1 0h1m2 0h1m2 0h1m2 0h1m6 0h1m-47 1h2m1 0h1m1 0h1m1 0h3m1 0h3m2 0h6m1 0h1m3 0h1m5 0h1m2 0h1m-41 1h5m1 0h1m1 0h2m1 0h1m1 0h5m1 0h2m1 0h2m1 0h1m1 0h1m2 0h2m1 0h1m2 0h1m8 0h1m-48 1h1m1 0h1m1 0h2m2 0h1m1 0h2m1 0h11m1 0h8m6 0h1m8 0h1m-49 1h2m1 0h1m2 0h2m2 0h5m1 0h3m1 0h2m2 0h1m1 0h1m3 0h2m1 0h3m4 0h1m-40 1h1m1 0h2m1 0h1m1 0h3m1 0h2m1 0h1m1 0h4m1 0h2m1 0h1m2 0h1m1 0h3m-30 1h1m3 0h7m1 0h1m2 0h3m2 0h2m2 0h1m1 0h2m2 0h1m4 0h2m3 0h1m2 0h1m44 0h1m-90 1h1m2 0h2m1 0h1m4 0h1m1 0h1m1 0h1m2 0h2m1 0h1m4 0h6m2 0h1m1 0h1m-39 1h5m2 0h1m2 0h3m1 0h3m2 0h2m1 0h2m3 0h1m3 0h1m1 0h1m1 0h1m2 0h1m2 0h2m2 0h1m1 0h1m-46 1h1m1 0h1m3 0h1m2 0h1m1 0h2m3 0h1m1 0h2m2 0h1m1 0h1m5 0h3m3 0h1m-39 1h1m2 0h1m1 0h1m1 0h1m1 0h4m2 0h1m2 0h3m1 0h1m1 0h1m3 0h1m3 0h1m-29 1h3m7 0h1m1 0h9m2 0h1m3 0h3m5 0h1m-36 1h4m2 0h1m1 0h1m2 0h3m1 0h5m1 0h1m18 0h1m1 0h1m-45 1h1m5 0h2m2 0h1m1 0h3m1 0h1m1 0h2m2 0h1m1 0h2m3 0h2m5 0h1m1 0h1m3 0h1m-42 1h1m4 0h2m3 0h6m1 0h2m1 0h1m3 0h1m1 0h3m6 0h1m4 0h1m-43 1h1m1 0h1m3 0h1m3 0h3m1 0h1m2 0h5m3 0h2m1 0h1m4 0h1m2 0h1m6 0h1m-45 1h1m2 0h1m4 0h2m1 0h1m1 0h1m2 0h1m3 0h1m3 0h1m3 0h2m5 0h1m-32 1h1m2 0h1m1 0h1m9 0h1m1 0h1m1 0h1m1 0h1m2 0h1m7 0h1m-37 1h1m2 0h1m1 0h1m1 0h2m4 0h2m2 0h1m5 0h1m1 0h1m10 0h1m-37 1h1m7 0h1m3 0h1m1 0h1m1 0h1m1 0h1m6 0h1m3 0h1m-13 1h1m1 0h2m13 0h1m-26 1h2m7 0h1m5 0h1m17 0h1"/>
<rect x="71" y="33" width="159" height="146" fill="none" stroke="#111" stroke-width="1.6"/>
<path d="M119 33V179M71 134H230" stroke="#222" stroke-width="1.4"/>
<path d="M71 179v3.5M71 179h-3.5M82.97 179v2M71 168.01h-2M89.97 179v2M71 161.59h-2M94.93 179v2M71 157.02h-2M98.78 179v2M71 153.49h-2M101.93 179v2M71 150.6h-2M104.59 179v2M71 148.15h-2M106.9 179v2M71 146.04h-2M108.93 179v2M71 144.17h-2M110.75 179v3.5M71 142.5h-3.5M122.72 179v2M71 131.51h-2M129.72 179v2M71 125.09h-2M134.68 179v2M71 120.52h-2M138.53 179v2M71 116.99h-2M141.68 179v2M71 114.1h-2M144.34 179v2M71 111.65h-2M146.65 179v2M71 109.54h-2M148.68 179v2M71 107.67h-2M150.5 179v3.5M71 106h-3.5M162.47 179v2M71 95.01h-2M169.47 179v2M71 88.59h-2M174.43 179v2M71 84.02h-2M178.28 179v2M71 80.49h-2M181.43 179v2M71 77.6h-2M184.09 179v2M71 75.15h-2M186.4 179v2M71 73.04h-2M188.43 179v2M71 71.17h-2M190.25 179v3.5M71 69.5h-3.5M202.22 179v2M71 58.51h-2M209.22 179v2M71 52.09h-2M214.18 179v2M71 47.52h-2M218.03 179v2M71 43.99h-2M221.18 179v2M71 41.1h-2M223.84 179v2M71 38.65h-2M226.15 179v2M71 36.54h-2M228.18 179v2M71 34.67h-2M230 179v3.5M71 33h-3.5" stroke="#000" stroke-width="0.9"/>
<rect x="350" y="33" width="164" height="146" fill="none" stroke="#111" stroke-width="1.6"/>
<path d="M398 33V179M350 135H514" stroke="#222" stroke-width="1.4"/>
<path d="M350 179v3.5M350 179h-3.5M362.34 179v2M350 168.01h-2M369.56 179v2M350 161.59h-2M374.68 179v2M350 157.02h-2M378.66 179v2M350 153.49h-2M381.9 179v2M350 150.6h-2M384.65 179v2M350 148.15h-2M387.03 179v2M350 146.04h-2M389.12 179v2M350 144.17h-2M391 179v3.5M350 142.5h-3.5M403.34 179v2M350 131.51h-2M410.56 179v2M350 125.09h-2M415.68 179v2M350 120.52h-2M419.66 179v2M350 116.99h-2M422.9 179v2M350 114.1h-2M425.65 179v2M350 111.65h-2M428.03 179v2M350 109.54h-2M430.12 179v2M350 107.67h-2M432 179v3.5M350 106h-3.5M444.34 179v2M350 95.01h-2M451.56 179v2M350 88.59h-2M456.68 179v2M350 84.02h-2M460.66 179v2M350 80.49h-2M463.9 179v2M350 77.6h-2M466.65 179v2M350 75.15h-2M469.03 179v2M350 73.04h-2M471.12 179v2M350 71.17h-2M473 179v3.5M350 69.5h-3.5M485.34 179v2M350 58.51h-2M492.56 179v2M350 52.09h-2M497.68 179v2M350 47.52h-2M501.66 179v2M350 43.99h-2M504.9 179v2M350 41.1h-2M507.65 179v2M350 38.65h-2M510.03 179v2M350 36.54h-2M512.12 179v2M350 34.67h-2M514 179v3.5M350 33h-3.5" stroke="#000" stroke-width="0.9"/>
<rect x="68" y="267" width="160" height="148" fill="none" stroke="#111" stroke-width="1.6"/>
<path d="M120 267V415M68 368H228" stroke="#222" stroke-width="1.4"/>
<path d="M68 415v3.5M68 415h-3.5M80.04 415v2M68 403.86h-2M87.08 415v2M68 397.35h-2M92.08 415v2M68 392.72h-2M95.96 415v2M68 389.14h-2M99.13 415v2M68 386.21h-2M101.8 415v2M68 383.73h-2M104.12 415v2M68 381.59h-2M106.17 415v2M68 379.69h-2M108 415v3.5M68 378h-3.5M120.04 415v2M68 366.86h-2M127.08 415v2M68 360.35h-2M132.08 415v2M68 355.72h-2M135.96 415v2M68 352.14h-2M139.13 415v2M68 349.21h-2M141.8 415v2M68 346.73h-2M144.12 415v2M68 344.59h-2M146.17 415v2M68 342.69h-2M148 415v3.5M68 341h-3.5M160.04 415v2M68 329.86h-2M167.08 415v2M68 323.35h-2M172.08 415v2M68 318.72h-2M175.96 415v2M68 315.14h-2M179.13 415v2M68 312.21h-2M181.8 415v2M68 309.73h-2M184.12 415v2M68 307.59h-2M186.17 415v2M68 305.69h-2M188 415v3.5M68 304h-3.5M200.04 415v2M68 292.86h-2M207.08 415v2M68 286.35h-2M212.08 415v2M68 281.72h-2M215.96 415v2M68 278.14h-2M219.13 415v2M68 275.21h-2M221.8 415v2M68 272.73h-2M224.12 415v2M68 270.59h-2M226.17 415v2M68 268.69h-2M228 415v3.5M68 267h-3.5" stroke="#000" stroke-width="0.9"/>
<rect x="346" y="267" width="166" height="148" fill="none" stroke="#111" stroke-width="1.6"/>
<path d="M400 267V415M346 368H512" stroke="#222" stroke-width="1.4"/>
<path d="M346 415v3.5M346 415h-3.5M358.49 415v2M346 403.86h-2M365.8 415v2M346 397.35h-2M370.99 415v2M346 392.72h-2M375.01 415v2M346 389.14h-2M378.29 415v2M346 386.21h-2M381.07 415v2M346 383.73h-2M383.48 415v2M346 381.59h-2M385.6 415v2M346 379.69h-2M387.5 415v3.5M346 378h-3.5M399.99 415v2M346 366.86h-2M407.3 415v2M346 360.35h-2M412.49 415v2M346 355.72h-2M416.51 415v2M346 352.14h-2M419.79 415v2M346 349.21h-2M422.57 415v2M346 346.73h-2M424.98 415v2M346 344.59h-2M427.1 415v2M346 342.69h-2M429 415v3.5M346 341h-3.5M441.49 415v2M346 329.86h-2M448.8 415v2M346 323.35h-2M453.99 415v2M346 318.72h-2M458.01 415v2M346 315.14h-2M461.29 415v2M346 312.21h-2M464.07 415v2M346 309.73h-2M466.48 415v2M346 307.59h-2M468.6 415v2M346 305.69h-2M470.5 415v3.5M346 304h-3.5M482.99 415v2M346 292.86h-2M490.3 415v2M346 286.35h-2M495.49 415v2M346 281.72h-2M499.51 415v2M346 278.14h-2M502.79 415v2M346 275.21h-2M505.57 415v2M346 272.73h-2M507.98 415v2M346 270.59h-2M510.1 415v2M346 268.69h-2M512 415v3.5M346 267h-3.5" stroke="#000" stroke-width="0.9"/>
<g font-family="Liberation Sans" fill="#000" stroke="#000" stroke-width="0.3"><text x="64.18" y="191.9" font-size="8.4" textLength="8.0" lengthAdjust="spacingAndGlyphs">10</text><text x="73.25" y="187.3" font-size="7.0">0</text><text transform="translate(64.4 185.72) rotate(-90)" font-size="8.4" textLength="7.2" lengthAdjust="spacingAndGlyphs">10</text><text transform="translate(59.8 176.65) rotate(-90)" font-size="7.0">0</text><text x="103.93" y="191.9" font-size="8.4" textLength="8.0" lengthAdjust="spacingAndGlyphs">10</text><text x="113" y="187.3" font-size="7.0">1</text><text transform="translate(64.4 149.22) rotate(-90)" font-size="8.4" textLength="7.2" lengthAdjust="spacingAndGlyphs">10</text><text transform="translate(59.8 140.15) rotate(-90)" font-size="7.0">1</text><text x="143.68" y="191.9" font-size="8.4" textLength="8.0" lengthAdjust="spacingAndGlyphs">10</text><text x="152.75" y="187.3" font-size="7.0">2</text><text transform="translate(64.4 112.72) rotate(-90)" font-size="8.4" textLength="7.2" lengthAdjust="spacingAndGlyphs">10</text><text transform="translate(59.8 103.65) rotate(-90)" font-size="7.0">2</text><text x="183.43" y="191.9" font-size="8.4" textLength="8.0" lengthAdjust="spacingAndGlyphs">10</text><text x="192.5" y="187.3" font-size="7.0">3</text><text transform="translate(64.4 76.22) rotate(-90)" font-size="8.4" textLength="7.2" lengthAdjust="spacingAndGlyphs">10</text><text transform="translate(59.8 67.15) rotate(-90)" font-size="7.0">3</text><text x="223.18" y="191.9" font-size="8.4" textLength="8.0" lengthAdjust="spacingAndGlyphs">10</text><text x="232.25" y="187.3" font-size="7.0">4</text><text transform="translate(64.4 39.72) rotate(-90)" font-size="8.4" textLength="7.2" lengthAdjust="spacingAndGlyphs">10</text><text transform="translate(59.8 30.65) rotate(-90)" font-size="7.0">4</text><text x="343.18" y="191.9" font-size="8.4" textLength="8.0" lengthAdjust="spacingAndGlyphs">10</text><text x="352.25" y="187.3" font-size="7.0">0</text><text transform="translate(343.4 185.72) rotate(-90)" font-size="8.4" textLength="7.2" lengthAdjust="spacingAndGlyphs">10</text><text transform="translate(338.8 176.65) rotate(-90)" font-size="7.0">0</text><text x="384.18" y="191.9" font-size="8.4" textLength="8.0" lengthAdjust="spacingAndGlyphs">10</text><text x="393.25" y="187.3" font-size="7.0">1</text><text transform="translate(343.4 149.22) rotate(-90)" font-size="8.4" textLength="7.2" lengthAdjust="spacingAndGlyphs">10</text><text transform="translate(338.8 140.15) rotate(-90)" font-size="7.0">1</text><text x="425.18" y="191.9" font-size="8.4" textLength="8.0" lengthAdjust="spacingAndGlyphs">10</text><text x="434.25" y="187.3" font-size="7.0">2</text><text transform="translate(343.4 112.72) rotate(-90)" font-size="8.4" textLength="7.2" lengthAdjust="spacingAndGlyphs">10</text><text transform="translate(338.8 103.65) rotate(-90)" font-size="7.0">2</text><text x="466.18" y="191.9" font-size="8.4" textLength="8.0" lengthAdjust="spacingAndGlyphs">10</text><text x="475.25" y="187.3" font-size="7.0">3</text><text transform="translate(343.4 76.22) rotate(-90)" font-size="8.4" textLength="7.2" lengthAdjust="spacingAndGlyphs">10</text><text transform="translate(338.8 67.15) rotate(-90)" font-size="7.0">3</text><text x="507.18" y="191.9" font-size="8.4" textLength="8.0" lengthAdjust="spacingAndGlyphs">10</text><text x="516.25" y="187.3" font-size="7.0">4</text><text transform="translate(343.4 39.72) rotate(-90)" font-size="8.4" textLength="7.2" lengthAdjust="spacingAndGlyphs">10</text><text transform="translate(338.8 30.65) rotate(-90)" font-size="7.0">4</text><text x="63.67" y="423.9" font-size="4.9" textLength="4.9" lengthAdjust="spacingAndGlyphs">10</text><text x="68.98" y="421.1" font-size="4.5">0</text><text transform="translate(62.6 419.43) rotate(-90)" font-size="4.9" textLength="4.41" lengthAdjust="spacingAndGlyphs">10</text><text transform="translate(59.8 414.12) rotate(-90)" font-size="4.5">0</text><text x="103.67" y="423.9" font-size="4.9" textLength="4.9" lengthAdjust="spacingAndGlyphs">10</text><text x="108.98" y="421.1" font-size="4.5">1</text><text transform="translate(62.6 382.43) rotate(-90)" font-size="4.9" textLength="4.41" lengthAdjust="spacingAndGlyphs">10</text><text transform="translate(59.8 377.12) rotate(-90)" font-size="4.5">1</text><text x="143.67" y="423.9" font-size="4.9" textLength="4.9" lengthAdjust="spacingAndGlyphs">10</text><text x="148.97" y="421.1" font-size="4.5">2</text><text transform="translate(62.6 345.43) rotate(-90)" font-size="4.9" textLength="4.41" lengthAdjust="spacingAndGlyphs">10</text><text transform="translate(59.8 340.12) rotate(-90)" font-size="4.5">2</text><text x="183.67" y="423.9" font-size="4.9" textLength="4.9" lengthAdjust="spacingAndGlyphs">10</text><text x="188.97" y="421.1" font-size="4.5">3</text><text transform="translate(62.6 308.43) rotate(-90)" font-size="4.9" textLength="4.41" lengthAdjust="spacingAndGlyphs">10</text><text transform="translate(59.8 303.12) rotate(-90)" font-size="4.5">3</text><text x="223.67" y="423.9" font-size="4.9" textLength="4.9" lengthAdjust="spacingAndGlyphs">10</text><text x="228.97" y="421.1" font-size="4.5">4</text><text transform="translate(62.6 271.43) rotate(-90)" font-size="4.9" textLength="4.41" lengthAdjust="spacingAndGlyphs">10</text><text transform="translate(59.8 266.12) rotate(-90)" font-size="4.5">4</text><text x="341.67" y="423.9" font-size="4.9" textLength="4.9" lengthAdjust="spacingAndGlyphs">10</text><text x="346.97" y="421.1" font-size="4.5">0</text><text transform="translate(340.6 419.43) rotate(-90)" font-size="4.9" textLength="4.41" lengthAdjust="spacingAndGlyphs">10</text><text transform="translate(337.8 414.12) rotate(-90)" font-size="4.5">0</text><text x="383.17" y="423.9" font-size="4.9" textLength="4.9" lengthAdjust="spacingAndGlyphs">10</text><text x="388.47" y="421.1" font-size="4.5">1</text><text transform="translate(340.6 382.43) rotate(-90)" font-size="4.9" textLength="4.41" lengthAdjust="spacingAndGlyphs">10</text><text transform="translate(337.8 377.12) rotate(-90)" font-size="4.5">1</text><text x="424.67" y="423.9" font-size="4.9" textLength="4.9" lengthAdjust="spacingAndGlyphs">10</text><text x="429.97" y="421.1" font-size="4.5">2</text><text transform="translate(340.6 345.43) rotate(-90)" font-size="4.9" textLength="4.41" lengthAdjust="spacingAndGlyphs">10</text><text transform="translate(337.8 340.12) rotate(-90)" font-size="4.5">2</text><text x="466.17" y="423.9" font-size="4.9" textLength="4.9" lengthAdjust="spacingAndGlyphs">10</text><text x="471.47" y="421.1" font-size="4.5">3</text><text transform="translate(340.6 308.43) rotate(-90)" font-size="4.9" textLength="4.41" lengthAdjust="spacingAndGlyphs">10</text><text transform="translate(337.8 303.12) rotate(-90)" font-size="4.5">3</text><text x="507.67" y="423.9" font-size="4.9" textLength="4.9" lengthAdjust="spacingAndGlyphs">10</text><text x="512.98" y="421.1" font-size="4.5">4</text><text transform="translate(340.6 271.43) rotate(-90)" font-size="4.9" textLength="4.41" lengthAdjust="spacingAndGlyphs">10</text><text transform="translate(337.8 266.12) rotate(-90)" font-size="4.5">4</text></g>
<g fill="#000"><text x="109.3" y="14.6" font-family="Liberation Serif" font-weight="bold" font-size="18.83" textLength="67.7" lengthAdjust="spacingAndGlyphs">BLOOD</text><text x="390.4" y="14.9" font-family="Liberation Serif" font-weight="bold" font-size="19.44" textLength="65.9" lengthAdjust="spacingAndGlyphs">LYMPH</text><text x="79.0" y="247.3" font-family="Liberation Serif" font-weight="bold" font-size="17.80" textLength="129.4" lengthAdjust="spacingAndGlyphs">LYMPH NODE</text><text x="387.7" y="246.9" font-family="Liberation Serif" font-weight="bold" font-size="17.80" textLength="69.5" lengthAdjust="spacingAndGlyphs">SPLEEN</text><text x="77.0" y="53.8" font-family="Liberation Serif" font-weight="bold" font-size="14.42" textLength="37.1" lengthAdjust="spacingAndGlyphs">18.3%</text><text x="183.2" y="53.8" font-family="Liberation Serif" font-weight="bold" font-size="14.71" textLength="36.7" lengthAdjust="spacingAndGlyphs">14.2%</text><text x="186.6" y="173.7" font-family="Liberation Serif" font-weight="bold" font-size="13.83" textLength="30.1" lengthAdjust="spacingAndGlyphs">1.1%</text><text x="357.0" y="53.8" font-family="Liberation Serif" font-weight="bold" font-size="14.42" textLength="29.8" lengthAdjust="spacingAndGlyphs">1.8%</text><text x="470.4" y="53.8" font-family="Liberation Serif" font-weight="bold" font-size="13.97" textLength="36.6" lengthAdjust="spacingAndGlyphs">33.7%</text><text x="473.8" y="173.3" font-family="Liberation Serif" font-weight="bold" font-size="13.97" textLength="30.0" lengthAdjust="spacingAndGlyphs">0.5%</text><text x="81.6" y="285.6" font-family="Liberation Serif" font-weight="bold" font-size="13.97" textLength="30.5" lengthAdjust="spacingAndGlyphs">5.8%</text><text x="187.9" y="285.6" font-family="Liberation Serif" font-weight="bold" font-size="13.97" textLength="36.7" lengthAdjust="spacingAndGlyphs">46.3%</text><text x="191.2" y="407.4" font-family="Liberation Serif" font-weight="bold" font-size="13.39" textLength="30.2" lengthAdjust="spacingAndGlyphs">2.1%</text><text x="359.4" y="285.6" font-family="Liberation Serif" font-weight="bold" font-size="13.97" textLength="29.9" lengthAdjust="spacingAndGlyphs">9.2%</text><text x="475.4" y="285.2" font-family="Liberation Serif" font-weight="bold" font-size="13.53" textLength="36.2" lengthAdjust="spacingAndGlyphs">49.1%</text><text x="478.4" y="407.6" font-family="Liberation Serif" font-weight="bold" font-size="13.39" textLength="30.0" lengthAdjust="spacingAndGlyphs">2.5%</text><text x="170.5" y="479.8" font-family="Liberation Serif" font-weight="bold" font-size="24.96" textLength="236.8" lengthAdjust="spacingAndGlyphs">CD21 Fluorescence</text><text transform="translate(21.2 340.8) rotate(-90)" font-family="Liberation Serif" font-weight="bold" font-size="26.88" textLength="204.1" lengthAdjust="spacingAndGlyphs">2-8 Fluorescence</text><text x="130.0" y="199.6" font-family="Liberation Sans" stroke="#000" stroke-width="0.25" font-size="8.27" textLength="36.2" lengthAdjust="spacingAndGlyphs">FL1-Height</text><text x="409.9" y="199.7" font-family="Liberation Sans" stroke="#000" stroke-width="0.25" font-size="7.99" textLength="40.0" lengthAdjust="spacingAndGlyphs">FL1-Height</text><text x="133.5" y="430.5" font-family="Liberation Sans" stroke="#000" stroke-width="0.25" font-size="5.06" textLength="26.4" lengthAdjust="spacingAndGlyphs">FL2-Height</text><text x="414.5" y="430.3" font-family="Liberation Sans" stroke="#000" stroke-width="0.25" font-size="5.06" textLength="26.3" lengthAdjust="spacingAndGlyphs">FL2-Height</text><text transform="translate(52.4 127.5) rotate(-90)" font-family="Liberation Sans" stroke="#000" stroke-width="0.25" font-size="6.90" textLength="38.8" lengthAdjust="spacingAndGlyphs">FL2-Height</text><text transform="translate(331.7 127.3) rotate(-90)" font-family="Liberation Sans" stroke="#000" stroke-width="0.25" font-size="7.40" textLength="39.3" lengthAdjust="spacingAndGlyphs">FL2-Height</text><text transform="translate(55.8 355.8) rotate(-90)" font-family="Liberation Sans" stroke="#000" stroke-width="0.25" font-size="4.76" textLength="27.4" lengthAdjust="spacingAndGlyphs">FL1-Height</text><text transform="translate(334.6 356.2) rotate(-90)" font-family="Liberation Sans" stroke="#000" stroke-width="0.25" font-size="4.76" textLength="28.0" lengthAdjust="spacingAndGlyphs">FL1-Height</text></g>
</svg>
</body></html>
